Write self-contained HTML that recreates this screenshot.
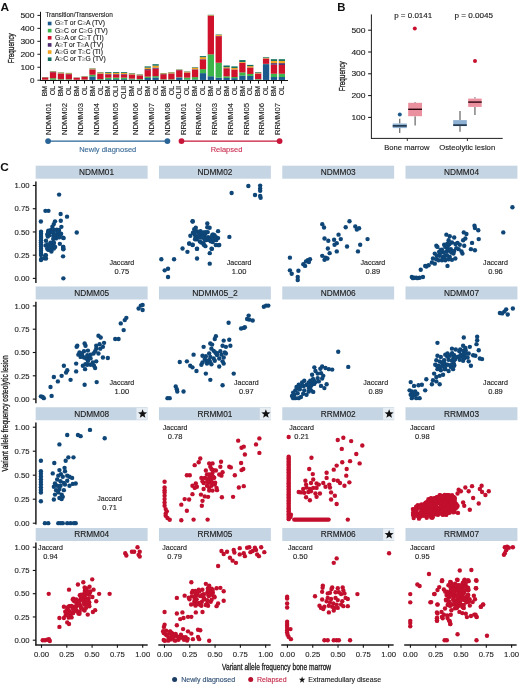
<!DOCTYPE html>
<html><head><meta charset="utf-8"><style>
html,body{margin:0;padding:0;background:#fff;}
svg{display:block;font-family:"Liberation Sans", sans-serif;will-change:transform;}
</style></head><body>
<svg width="520" height="684" viewBox="0 0 520 684">
<rect width="520" height="684" fill="#fff"/>
<text x="0.40" y="10.60" font-size="11" text-anchor="start" fill="#111" font-weight="bold" textLength="8.6" lengthAdjust="spacingAndGlyphs">A</text>
<line x1="40.50" y1="11.80" x2="40.50" y2="80.90" stroke="#111" stroke-width="1.05"/>
<line x1="37.40" y1="80.20" x2="40.50" y2="80.20" stroke="#111" stroke-width="0.95"/>
<text x="34.60" y="82.70" font-size="8.1" text-anchor="end" fill="#1a1a1a" stroke="#1a1a1a" stroke-width="0.12">0</text>
<line x1="37.40" y1="67.24" x2="40.50" y2="67.24" stroke="#111" stroke-width="0.95"/>
<text x="34.60" y="69.74" font-size="8.1" text-anchor="end" fill="#1a1a1a" textLength="14.2" lengthAdjust="spacingAndGlyphs" stroke="#1a1a1a" stroke-width="0.12">100</text>
<line x1="37.40" y1="54.28" x2="40.50" y2="54.28" stroke="#111" stroke-width="0.95"/>
<text x="34.60" y="56.78" font-size="8.1" text-anchor="end" fill="#1a1a1a" textLength="14.2" lengthAdjust="spacingAndGlyphs" stroke="#1a1a1a" stroke-width="0.12">200</text>
<line x1="37.40" y1="41.32" x2="40.50" y2="41.32" stroke="#111" stroke-width="0.95"/>
<text x="34.60" y="43.82" font-size="8.1" text-anchor="end" fill="#1a1a1a" textLength="14.2" lengthAdjust="spacingAndGlyphs" stroke="#1a1a1a" stroke-width="0.12">300</text>
<line x1="37.40" y1="28.36" x2="40.50" y2="28.36" stroke="#111" stroke-width="0.95"/>
<text x="34.60" y="30.86" font-size="8.1" text-anchor="end" fill="#1a1a1a" textLength="14.2" lengthAdjust="spacingAndGlyphs" stroke="#1a1a1a" stroke-width="0.12">400</text>
<line x1="37.40" y1="15.40" x2="40.50" y2="15.40" stroke="#111" stroke-width="0.95"/>
<text x="34.60" y="17.90" font-size="8.1" text-anchor="end" fill="#1a1a1a" textLength="14.2" lengthAdjust="spacingAndGlyphs" stroke="#1a1a1a" stroke-width="0.12">500</text>
<text x="14.00" y="48.20" font-size="9.0" text-anchor="middle" fill="#1a1a1a" transform="rotate(-90 14.0 48.2)" textLength="30.0" lengthAdjust="spacingAndGlyphs" stroke="#1a1a1a" stroke-width="0.3">Frequency</text>
<text x="45.40" y="17.00" font-size="6.6" text-anchor="start" fill="#1a1a1a" textLength="67.4" lengthAdjust="spacingAndGlyphs" stroke="#1a1a1a" stroke-width="0.12">Transition/Transversion</text>
<rect x="47.80" y="21.70" width="3.70" height="3.60" fill="#1c5a8e"/>
<text x="55.10" y="25.40" font-size="6.7" text-anchor="start" fill="#1a1a1a" textLength="49.9" lengthAdjust="spacingAndGlyphs" stroke="#1a1a1a" stroke-width="0.12">G<tspan fill="#9a9a9a" stroke="#9a9a9a">≥</tspan>T or C<tspan fill="#9a9a9a" stroke="#9a9a9a">≥</tspan>A (TV)</text>
<rect x="47.80" y="28.84" width="3.70" height="3.60" fill="#3db54a"/>
<text x="55.10" y="32.54" font-size="6.7" text-anchor="start" fill="#1a1a1a" textLength="52.7" lengthAdjust="spacingAndGlyphs" stroke="#1a1a1a" stroke-width="0.12">G<tspan fill="#9a9a9a" stroke="#9a9a9a">≥</tspan>C or C<tspan fill="#9a9a9a" stroke="#9a9a9a">≥</tspan>G (TV)</text>
<rect x="47.80" y="35.98" width="3.70" height="3.60" fill="#d0112b"/>
<text x="55.10" y="39.68" font-size="6.7" text-anchor="start" fill="#1a1a1a" textLength="48.6" lengthAdjust="spacingAndGlyphs" stroke="#1a1a1a" stroke-width="0.12">G<tspan fill="#9a9a9a" stroke="#9a9a9a">≥</tspan>A or C<tspan fill="#9a9a9a" stroke="#9a9a9a">≥</tspan>T (TI)</text>
<rect x="47.80" y="43.12" width="3.70" height="3.60" fill="#4b2a70"/>
<text x="55.10" y="46.82" font-size="6.7" text-anchor="start" fill="#1a1a1a" textLength="48.2" lengthAdjust="spacingAndGlyphs" stroke="#1a1a1a" stroke-width="0.12">A<tspan fill="#9a9a9a" stroke="#9a9a9a">≥</tspan>T or T<tspan fill="#9a9a9a" stroke="#9a9a9a">≥</tspan>A (TV)</text>
<rect x="47.80" y="50.26" width="3.70" height="3.60" fill="#f2a31f"/>
<text x="55.10" y="53.96" font-size="6.7" text-anchor="start" fill="#1a1a1a" textLength="47.8" lengthAdjust="spacingAndGlyphs" stroke="#1a1a1a" stroke-width="0.12">A<tspan fill="#9a9a9a" stroke="#9a9a9a">≥</tspan>G or T<tspan fill="#9a9a9a" stroke="#9a9a9a">≥</tspan>C (TI)</text>
<rect x="47.80" y="57.40" width="3.70" height="3.60" fill="#0f6e5e"/>
<text x="55.10" y="61.10" font-size="6.7" text-anchor="start" fill="#1a1a1a" textLength="50.7" lengthAdjust="spacingAndGlyphs" stroke="#1a1a1a" stroke-width="0.12">A<tspan fill="#9a9a9a" stroke="#9a9a9a">≥</tspan>C or T<tspan fill="#9a9a9a" stroke="#9a9a9a">≥</tspan>G (TV)</text>
<rect x="42.00" y="79.60" width="6.30" height="0.35" fill="#3db54a"/>
<rect x="42.00" y="77.40" width="6.30" height="2.25" fill="#d0112b"/>
<rect x="42.00" y="77.30" width="6.30" height="0.15" fill="#4b2a70"/>
<rect x="42.00" y="77.10" width="6.30" height="0.25" fill="#f2a31f"/>
<rect x="42.00" y="77.00" width="6.30" height="0.15" fill="#0f6e5e"/>
<rect x="49.89" y="79.70" width="6.30" height="0.25" fill="#1c5a8e"/>
<rect x="49.89" y="78.20" width="6.30" height="1.55" fill="#3db54a"/>
<rect x="49.89" y="72.20" width="6.30" height="6.05" fill="#d0112b"/>
<rect x="49.89" y="71.90" width="6.30" height="0.35" fill="#4b2a70"/>
<rect x="49.89" y="71.40" width="6.30" height="0.55" fill="#f2a31f"/>
<rect x="49.89" y="71.10" width="6.30" height="0.35" fill="#0f6e5e"/>
<rect x="57.78" y="79.70" width="6.30" height="0.25" fill="#1c5a8e"/>
<rect x="57.78" y="79.10" width="6.30" height="0.65" fill="#3db54a"/>
<rect x="57.78" y="73.60" width="6.30" height="5.55" fill="#d0112b"/>
<rect x="57.78" y="73.30" width="6.30" height="0.35" fill="#4b2a70"/>
<rect x="57.78" y="72.60" width="6.30" height="0.75" fill="#f2a31f"/>
<rect x="57.78" y="72.30" width="6.30" height="0.35" fill="#0f6e5e"/>
<rect x="65.67" y="79.70" width="6.30" height="0.25" fill="#1c5a8e"/>
<rect x="65.67" y="79.20" width="6.30" height="0.55" fill="#3db54a"/>
<rect x="65.67" y="74.20" width="6.30" height="5.05" fill="#d0112b"/>
<rect x="65.67" y="73.90" width="6.30" height="0.35" fill="#4b2a70"/>
<rect x="65.67" y="73.20" width="6.30" height="0.75" fill="#f2a31f"/>
<rect x="65.67" y="72.90" width="6.30" height="0.35" fill="#0f6e5e"/>
<rect x="73.56" y="79.70" width="6.30" height="0.25" fill="#3db54a"/>
<rect x="73.56" y="77.80" width="6.30" height="1.95" fill="#d0112b"/>
<rect x="73.56" y="77.70" width="6.30" height="0.15" fill="#4b2a70"/>
<rect x="73.56" y="77.60" width="6.30" height="0.15" fill="#f2a31f"/>
<rect x="73.56" y="77.50" width="6.30" height="0.15" fill="#0f6e5e"/>
<rect x="81.45" y="79.80" width="6.30" height="0.15" fill="#1c5a8e"/>
<rect x="81.45" y="79.50" width="6.30" height="0.35" fill="#3db54a"/>
<rect x="81.45" y="76.90" width="6.30" height="2.65" fill="#d0112b"/>
<rect x="81.45" y="76.70" width="6.30" height="0.25" fill="#4b2a70"/>
<rect x="81.45" y="76.30" width="6.30" height="0.45" fill="#f2a31f"/>
<rect x="81.45" y="76.10" width="6.30" height="0.25" fill="#0f6e5e"/>
<rect x="89.34" y="76.40" width="6.30" height="3.55" fill="#1c5a8e"/>
<rect x="89.34" y="74.70" width="6.30" height="1.75" fill="#3db54a"/>
<rect x="89.34" y="69.70" width="6.30" height="5.05" fill="#d0112b"/>
<rect x="89.34" y="69.30" width="6.30" height="0.45" fill="#4b2a70"/>
<rect x="89.34" y="68.60" width="6.30" height="0.75" fill="#f2a31f"/>
<rect x="89.34" y="68.30" width="6.30" height="0.35" fill="#0f6e5e"/>
<rect x="97.23" y="79.60" width="6.30" height="0.35" fill="#1c5a8e"/>
<rect x="97.23" y="79.00" width="6.30" height="0.65" fill="#3db54a"/>
<rect x="97.23" y="73.80" width="6.30" height="5.25" fill="#d0112b"/>
<rect x="97.23" y="73.50" width="6.30" height="0.35" fill="#4b2a70"/>
<rect x="97.23" y="72.50" width="6.30" height="1.05" fill="#f2a31f"/>
<rect x="97.23" y="72.10" width="6.30" height="0.45" fill="#0f6e5e"/>
<rect x="105.12" y="79.10" width="6.30" height="0.85" fill="#1c5a8e"/>
<rect x="105.12" y="77.60" width="6.30" height="1.55" fill="#3db54a"/>
<rect x="105.12" y="74.40" width="6.30" height="3.25" fill="#d0112b"/>
<rect x="105.12" y="73.90" width="6.30" height="0.55" fill="#4b2a70"/>
<rect x="105.12" y="72.90" width="6.30" height="1.05" fill="#f2a31f"/>
<rect x="105.12" y="72.10" width="6.30" height="0.85" fill="#0f6e5e"/>
<rect x="113.01" y="79.10" width="6.30" height="0.85" fill="#1c5a8e"/>
<rect x="113.01" y="77.60" width="6.30" height="1.55" fill="#3db54a"/>
<rect x="113.01" y="74.40" width="6.30" height="3.25" fill="#d0112b"/>
<rect x="113.01" y="73.90" width="6.30" height="0.55" fill="#4b2a70"/>
<rect x="113.01" y="72.90" width="6.30" height="1.05" fill="#f2a31f"/>
<rect x="113.01" y="72.10" width="6.30" height="0.85" fill="#0f6e5e"/>
<rect x="120.90" y="79.10" width="6.30" height="0.85" fill="#1c5a8e"/>
<rect x="120.90" y="77.60" width="6.30" height="1.55" fill="#3db54a"/>
<rect x="120.90" y="74.40" width="6.30" height="3.25" fill="#d0112b"/>
<rect x="120.90" y="73.90" width="6.30" height="0.55" fill="#4b2a70"/>
<rect x="120.90" y="72.90" width="6.30" height="1.05" fill="#f2a31f"/>
<rect x="120.90" y="72.10" width="6.30" height="0.85" fill="#0f6e5e"/>
<rect x="128.79" y="79.40" width="6.30" height="0.55" fill="#1c5a8e"/>
<rect x="128.79" y="78.60" width="6.30" height="0.85" fill="#3db54a"/>
<rect x="128.79" y="74.80" width="6.30" height="3.85" fill="#d0112b"/>
<rect x="128.79" y="74.40" width="6.30" height="0.45" fill="#4b2a70"/>
<rect x="128.79" y="73.50" width="6.30" height="0.95" fill="#f2a31f"/>
<rect x="128.79" y="73.10" width="6.30" height="0.45" fill="#0f6e5e"/>
<rect x="136.68" y="79.60" width="6.30" height="0.35" fill="#1c5a8e"/>
<rect x="136.68" y="79.00" width="6.30" height="0.65" fill="#3db54a"/>
<rect x="136.68" y="75.50" width="6.30" height="3.55" fill="#d0112b"/>
<rect x="136.68" y="75.20" width="6.30" height="0.35" fill="#4b2a70"/>
<rect x="136.68" y="74.60" width="6.30" height="0.65" fill="#f2a31f"/>
<rect x="136.68" y="74.30" width="6.30" height="0.35" fill="#0f6e5e"/>
<rect x="144.57" y="77.90" width="6.30" height="2.05" fill="#1c5a8e"/>
<rect x="144.57" y="76.60" width="6.30" height="1.35" fill="#3db54a"/>
<rect x="144.57" y="70.10" width="6.30" height="6.55" fill="#d0112b"/>
<rect x="144.57" y="69.10" width="6.30" height="1.05" fill="#4b2a70"/>
<rect x="144.57" y="67.60" width="6.30" height="1.55" fill="#f2a31f"/>
<rect x="144.57" y="66.40" width="6.30" height="1.25" fill="#0f6e5e"/>
<rect x="152.46" y="77.40" width="6.30" height="2.55" fill="#1c5a8e"/>
<rect x="152.46" y="76.10" width="6.30" height="1.35" fill="#3db54a"/>
<rect x="152.46" y="68.60" width="6.30" height="7.55" fill="#d0112b"/>
<rect x="152.46" y="67.60" width="6.30" height="1.05" fill="#4b2a70"/>
<rect x="152.46" y="65.60" width="6.30" height="2.05" fill="#f2a31f"/>
<rect x="152.46" y="64.20" width="6.30" height="1.45" fill="#0f6e5e"/>
<rect x="160.35" y="79.60" width="6.30" height="0.35" fill="#1c5a8e"/>
<rect x="160.35" y="79.20" width="6.30" height="0.45" fill="#3db54a"/>
<rect x="160.35" y="74.20" width="6.30" height="5.05" fill="#d0112b"/>
<rect x="160.35" y="74.00" width="6.30" height="0.25" fill="#4b2a70"/>
<rect x="160.35" y="73.30" width="6.30" height="0.75" fill="#f2a31f"/>
<rect x="160.35" y="73.00" width="6.30" height="0.35" fill="#0f6e5e"/>
<rect x="168.24" y="79.70" width="6.30" height="0.25" fill="#1c5a8e"/>
<rect x="168.24" y="79.20" width="6.30" height="0.55" fill="#3db54a"/>
<rect x="168.24" y="73.60" width="6.30" height="5.65" fill="#d0112b"/>
<rect x="168.24" y="73.30" width="6.30" height="0.35" fill="#4b2a70"/>
<rect x="168.24" y="72.40" width="6.30" height="0.95" fill="#f2a31f"/>
<rect x="168.24" y="72.10" width="6.30" height="0.35" fill="#0f6e5e"/>
<rect x="176.13" y="77.50" width="6.30" height="2.45" fill="#1c5a8e"/>
<rect x="176.13" y="77.20" width="6.30" height="0.35" fill="#3db54a"/>
<rect x="176.13" y="70.20" width="6.30" height="7.05" fill="#d0112b"/>
<rect x="176.13" y="70.00" width="6.30" height="0.25" fill="#4b2a70"/>
<rect x="176.13" y="69.70" width="6.30" height="0.35" fill="#f2a31f"/>
<rect x="176.13" y="69.40" width="6.30" height="0.35" fill="#0f6e5e"/>
<rect x="184.02" y="79.40" width="6.30" height="0.55" fill="#1c5a8e"/>
<rect x="184.02" y="77.60" width="6.30" height="1.85" fill="#3db54a"/>
<rect x="184.02" y="72.60" width="6.30" height="5.05" fill="#d0112b"/>
<rect x="184.02" y="72.40" width="6.30" height="0.25" fill="#4b2a70"/>
<rect x="184.02" y="71.70" width="6.30" height="0.75" fill="#f2a31f"/>
<rect x="184.02" y="71.40" width="6.30" height="0.35" fill="#0f6e5e"/>
<rect x="191.91" y="79.30" width="6.30" height="0.65" fill="#1c5a8e"/>
<rect x="191.91" y="77.10" width="6.30" height="2.25" fill="#3db54a"/>
<rect x="191.91" y="69.60" width="6.30" height="7.55" fill="#d0112b"/>
<rect x="191.91" y="69.20" width="6.30" height="0.45" fill="#4b2a70"/>
<rect x="191.91" y="67.70" width="6.30" height="1.55" fill="#f2a31f"/>
<rect x="191.91" y="67.20" width="6.30" height="0.55" fill="#0f6e5e"/>
<rect x="199.80" y="73.10" width="6.30" height="6.85" fill="#1c5a8e"/>
<rect x="199.80" y="69.10" width="6.30" height="4.05" fill="#3db54a"/>
<rect x="199.80" y="59.60" width="6.30" height="9.55" fill="#d0112b"/>
<rect x="199.80" y="59.10" width="6.30" height="0.55" fill="#4b2a70"/>
<rect x="199.80" y="57.10" width="6.30" height="2.05" fill="#f2a31f"/>
<rect x="199.80" y="56.10" width="6.30" height="1.05" fill="#0f6e5e"/>
<rect x="207.69" y="76.20" width="6.30" height="3.75" fill="#1c5a8e"/>
<rect x="207.69" y="54.30" width="6.30" height="21.95" fill="#3db54a"/>
<rect x="207.69" y="15.90" width="6.30" height="38.45" fill="#d0112b"/>
<rect x="207.69" y="15.60" width="6.30" height="0.35" fill="#4b2a70"/>
<rect x="207.69" y="15.10" width="6.30" height="0.55" fill="#f2a31f"/>
<rect x="207.69" y="14.80" width="6.30" height="0.35" fill="#0f6e5e"/>
<rect x="215.58" y="77.60" width="6.30" height="2.35" fill="#1c5a8e"/>
<rect x="215.58" y="62.70" width="6.30" height="14.95" fill="#3db54a"/>
<rect x="215.58" y="36.20" width="6.30" height="26.55" fill="#d0112b"/>
<rect x="215.58" y="35.80" width="6.30" height="0.45" fill="#4b2a70"/>
<rect x="215.58" y="34.90" width="6.30" height="0.95" fill="#f2a31f"/>
<rect x="215.58" y="34.50" width="6.30" height="0.45" fill="#0f6e5e"/>
<rect x="223.47" y="77.90" width="6.30" height="2.05" fill="#1c5a8e"/>
<rect x="223.47" y="76.30" width="6.30" height="1.65" fill="#3db54a"/>
<rect x="223.47" y="68.30" width="6.30" height="8.05" fill="#d0112b"/>
<rect x="223.47" y="68.10" width="6.30" height="0.25" fill="#4b2a70"/>
<rect x="223.47" y="67.20" width="6.30" height="0.95" fill="#f2a31f"/>
<rect x="223.47" y="65.50" width="6.30" height="1.75" fill="#0f6e5e"/>
<rect x="231.36" y="78.10" width="6.30" height="1.85" fill="#1c5a8e"/>
<rect x="231.36" y="77.00" width="6.30" height="1.15" fill="#3db54a"/>
<rect x="231.36" y="69.60" width="6.30" height="7.45" fill="#d0112b"/>
<rect x="231.36" y="69.40" width="6.30" height="0.25" fill="#4b2a70"/>
<rect x="231.36" y="67.90" width="6.30" height="1.55" fill="#f2a31f"/>
<rect x="231.36" y="66.40" width="6.30" height="1.55" fill="#0f6e5e"/>
<rect x="239.25" y="75.50" width="6.30" height="4.45" fill="#1c5a8e"/>
<rect x="239.25" y="72.40" width="6.30" height="3.15" fill="#3db54a"/>
<rect x="239.25" y="62.90" width="6.30" height="9.55" fill="#d0112b"/>
<rect x="239.25" y="62.70" width="6.30" height="0.25" fill="#4b2a70"/>
<rect x="239.25" y="61.90" width="6.30" height="0.85" fill="#f2a31f"/>
<rect x="239.25" y="60.10" width="6.30" height="1.85" fill="#0f6e5e"/>
<rect x="247.14" y="75.90" width="6.30" height="4.05" fill="#1c5a8e"/>
<rect x="247.14" y="73.90" width="6.30" height="2.05" fill="#3db54a"/>
<rect x="247.14" y="67.60" width="6.30" height="6.35" fill="#d0112b"/>
<rect x="247.14" y="67.40" width="6.30" height="0.25" fill="#4b2a70"/>
<rect x="247.14" y="66.10" width="6.30" height="1.35" fill="#f2a31f"/>
<rect x="247.14" y="64.90" width="6.30" height="1.25" fill="#0f6e5e"/>
<rect x="255.03" y="79.60" width="6.30" height="0.35" fill="#1c5a8e"/>
<rect x="255.03" y="79.10" width="6.30" height="0.55" fill="#3db54a"/>
<rect x="255.03" y="73.60" width="6.30" height="5.55" fill="#d0112b"/>
<rect x="255.03" y="73.40" width="6.30" height="0.25" fill="#4b2a70"/>
<rect x="255.03" y="72.70" width="6.30" height="0.75" fill="#f2a31f"/>
<rect x="255.03" y="72.10" width="6.30" height="0.65" fill="#0f6e5e"/>
<rect x="262.92" y="64.10" width="6.30" height="15.85" fill="#1c5a8e"/>
<rect x="262.92" y="63.80" width="6.30" height="0.35" fill="#3db54a"/>
<rect x="262.92" y="58.60" width="6.30" height="5.25" fill="#d0112b"/>
<rect x="262.92" y="58.40" width="6.30" height="0.25" fill="#4b2a70"/>
<rect x="262.92" y="57.80" width="6.30" height="0.65" fill="#f2a31f"/>
<rect x="262.92" y="57.20" width="6.30" height="0.65" fill="#0f6e5e"/>
<rect x="270.81" y="77.00" width="6.30" height="2.95" fill="#1c5a8e"/>
<rect x="270.81" y="73.70" width="6.30" height="3.35" fill="#3db54a"/>
<rect x="270.81" y="64.60" width="6.30" height="9.15" fill="#d0112b"/>
<rect x="270.81" y="63.10" width="6.30" height="1.55" fill="#4b2a70"/>
<rect x="270.81" y="60.90" width="6.30" height="2.25" fill="#f2a31f"/>
<rect x="270.81" y="59.20" width="6.30" height="1.75" fill="#0f6e5e"/>
<rect x="278.70" y="77.00" width="6.30" height="2.95" fill="#1c5a8e"/>
<rect x="278.70" y="73.70" width="6.30" height="3.35" fill="#3db54a"/>
<rect x="278.70" y="64.90" width="6.30" height="8.85" fill="#d0112b"/>
<rect x="278.70" y="63.10" width="6.30" height="1.85" fill="#4b2a70"/>
<rect x="278.70" y="60.90" width="6.30" height="2.25" fill="#f2a31f"/>
<rect x="278.70" y="59.20" width="6.30" height="1.75" fill="#0f6e5e"/>
<line x1="40.00" y1="80.45" x2="288.00" y2="80.45" stroke="#111" stroke-width="1.1"/>
<line x1="45.50" y1="80.40" x2="45.50" y2="83.60" stroke="#111" stroke-width="1.0"/>
<text x="47.35" y="85.80" font-size="7.0" text-anchor="end" fill="#1a1a1a" transform="rotate(-90 47.35 85.8)" stroke="#1a1a1a" stroke-width="0.12">BM</text>
<line x1="53.50" y1="80.40" x2="53.50" y2="83.60" stroke="#111" stroke-width="1.0"/>
<text x="55.24" y="85.80" font-size="7.0" text-anchor="end" fill="#1a1a1a" transform="rotate(-90 55.24 85.8)" stroke="#1a1a1a" stroke-width="0.12">OL</text>
<line x1="60.50" y1="80.40" x2="60.50" y2="83.60" stroke="#111" stroke-width="1.0"/>
<text x="63.13" y="85.80" font-size="7.0" text-anchor="end" fill="#1a1a1a" transform="rotate(-90 63.13 85.8)" stroke="#1a1a1a" stroke-width="0.12">BM</text>
<line x1="68.50" y1="80.40" x2="68.50" y2="83.60" stroke="#111" stroke-width="1.0"/>
<text x="71.02" y="85.80" font-size="7.0" text-anchor="end" fill="#1a1a1a" transform="rotate(-90 71.02000000000001 85.8)" stroke="#1a1a1a" stroke-width="0.12">OL</text>
<line x1="76.50" y1="80.40" x2="76.50" y2="83.60" stroke="#111" stroke-width="1.0"/>
<text x="78.91" y="85.80" font-size="7.0" text-anchor="end" fill="#1a1a1a" transform="rotate(-90 78.91000000000001 85.8)" stroke="#1a1a1a" stroke-width="0.12">BM</text>
<line x1="84.50" y1="80.40" x2="84.50" y2="83.60" stroke="#111" stroke-width="1.0"/>
<text x="86.80" y="85.80" font-size="7.0" text-anchor="end" fill="#1a1a1a" transform="rotate(-90 86.8 85.8)" stroke="#1a1a1a" stroke-width="0.12">OL</text>
<line x1="92.50" y1="80.40" x2="92.50" y2="83.60" stroke="#111" stroke-width="1.0"/>
<text x="94.69" y="85.80" font-size="7.0" text-anchor="end" fill="#1a1a1a" transform="rotate(-90 94.69000000000001 85.8)" stroke="#1a1a1a" stroke-width="0.12">BM</text>
<line x1="100.50" y1="80.40" x2="100.50" y2="83.60" stroke="#111" stroke-width="1.0"/>
<text x="102.58" y="85.80" font-size="7.0" text-anchor="end" fill="#1a1a1a" transform="rotate(-90 102.58 85.8)" stroke="#1a1a1a" stroke-width="0.12">OL</text>
<line x1="108.50" y1="80.40" x2="108.50" y2="83.60" stroke="#111" stroke-width="1.0"/>
<text x="110.47" y="85.80" font-size="7.0" text-anchor="end" fill="#1a1a1a" transform="rotate(-90 110.47000000000001 85.8)" stroke="#1a1a1a" stroke-width="0.12">BM</text>
<line x1="116.50" y1="80.40" x2="116.50" y2="83.60" stroke="#111" stroke-width="1.0"/>
<text x="118.36" y="85.80" font-size="7.0" text-anchor="end" fill="#1a1a1a" transform="rotate(-90 118.36 85.8)" stroke="#1a1a1a" stroke-width="0.12">OLI</text>
<line x1="124.50" y1="80.40" x2="124.50" y2="83.60" stroke="#111" stroke-width="1.0"/>
<text x="126.25" y="85.80" font-size="7.0" text-anchor="end" fill="#1a1a1a" transform="rotate(-90 126.25 85.8)" stroke="#1a1a1a" stroke-width="0.12">OLII</text>
<line x1="131.50" y1="80.40" x2="131.50" y2="83.60" stroke="#111" stroke-width="1.0"/>
<text x="134.14" y="85.80" font-size="7.0" text-anchor="end" fill="#1a1a1a" transform="rotate(-90 134.14 85.8)" stroke="#1a1a1a" stroke-width="0.12">BM</text>
<line x1="139.50" y1="80.40" x2="139.50" y2="83.60" stroke="#111" stroke-width="1.0"/>
<text x="142.03" y="85.80" font-size="7.0" text-anchor="end" fill="#1a1a1a" transform="rotate(-90 142.03 85.8)" stroke="#1a1a1a" stroke-width="0.12">OL</text>
<line x1="147.50" y1="80.40" x2="147.50" y2="83.60" stroke="#111" stroke-width="1.0"/>
<text x="149.92" y="85.80" font-size="7.0" text-anchor="end" fill="#1a1a1a" transform="rotate(-90 149.92 85.8)" stroke="#1a1a1a" stroke-width="0.12">BM</text>
<line x1="155.50" y1="80.40" x2="155.50" y2="83.60" stroke="#111" stroke-width="1.0"/>
<text x="157.81" y="85.80" font-size="7.0" text-anchor="end" fill="#1a1a1a" transform="rotate(-90 157.80999999999997 85.8)" stroke="#1a1a1a" stroke-width="0.12">OL</text>
<line x1="163.50" y1="80.40" x2="163.50" y2="83.60" stroke="#111" stroke-width="1.0"/>
<text x="165.70" y="85.80" font-size="7.0" text-anchor="end" fill="#1a1a1a" transform="rotate(-90 165.7 85.8)" stroke="#1a1a1a" stroke-width="0.12">BM</text>
<line x1="171.50" y1="80.40" x2="171.50" y2="83.60" stroke="#111" stroke-width="1.0"/>
<text x="173.59" y="85.80" font-size="7.0" text-anchor="end" fill="#1a1a1a" transform="rotate(-90 173.59 85.8)" stroke="#1a1a1a" stroke-width="0.12">OL</text>
<line x1="179.50" y1="80.40" x2="179.50" y2="83.60" stroke="#111" stroke-width="1.0"/>
<text x="181.48" y="85.80" font-size="7.0" text-anchor="end" fill="#1a1a1a" transform="rotate(-90 181.48 85.8)" stroke="#1a1a1a" stroke-width="0.12">OLII</text>
<line x1="187.50" y1="80.40" x2="187.50" y2="83.60" stroke="#111" stroke-width="1.0"/>
<text x="189.37" y="85.80" font-size="7.0" text-anchor="end" fill="#1a1a1a" transform="rotate(-90 189.36999999999998 85.8)" stroke="#1a1a1a" stroke-width="0.12">OL</text>
<line x1="195.50" y1="80.40" x2="195.50" y2="83.60" stroke="#111" stroke-width="1.0"/>
<text x="197.26" y="85.80" font-size="7.0" text-anchor="end" fill="#1a1a1a" transform="rotate(-90 197.26 85.8)" stroke="#1a1a1a" stroke-width="0.12">BM</text>
<line x1="202.50" y1="80.40" x2="202.50" y2="83.60" stroke="#111" stroke-width="1.0"/>
<text x="205.15" y="85.80" font-size="7.0" text-anchor="end" fill="#1a1a1a" transform="rotate(-90 205.14999999999998 85.8)" stroke="#1a1a1a" stroke-width="0.12">OL</text>
<line x1="210.50" y1="80.40" x2="210.50" y2="83.60" stroke="#111" stroke-width="1.0"/>
<text x="213.04" y="85.80" font-size="7.0" text-anchor="end" fill="#1a1a1a" transform="rotate(-90 213.04 85.8)" stroke="#1a1a1a" stroke-width="0.12">BM</text>
<line x1="218.50" y1="80.40" x2="218.50" y2="83.60" stroke="#111" stroke-width="1.0"/>
<text x="220.93" y="85.80" font-size="7.0" text-anchor="end" fill="#1a1a1a" transform="rotate(-90 220.92999999999998 85.8)" stroke="#1a1a1a" stroke-width="0.12">OL</text>
<line x1="226.50" y1="80.40" x2="226.50" y2="83.60" stroke="#111" stroke-width="1.0"/>
<text x="228.82" y="85.80" font-size="7.0" text-anchor="end" fill="#1a1a1a" transform="rotate(-90 228.82 85.8)" stroke="#1a1a1a" stroke-width="0.12">BM</text>
<line x1="234.50" y1="80.40" x2="234.50" y2="83.60" stroke="#111" stroke-width="1.0"/>
<text x="236.71" y="85.80" font-size="7.0" text-anchor="end" fill="#1a1a1a" transform="rotate(-90 236.70999999999998 85.8)" stroke="#1a1a1a" stroke-width="0.12">OL</text>
<line x1="242.50" y1="80.40" x2="242.50" y2="83.60" stroke="#111" stroke-width="1.0"/>
<text x="244.60" y="85.80" font-size="7.0" text-anchor="end" fill="#1a1a1a" transform="rotate(-90 244.6 85.8)" stroke="#1a1a1a" stroke-width="0.12">BM</text>
<line x1="250.50" y1="80.40" x2="250.50" y2="83.60" stroke="#111" stroke-width="1.0"/>
<text x="252.49" y="85.80" font-size="7.0" text-anchor="end" fill="#1a1a1a" transform="rotate(-90 252.48999999999998 85.8)" stroke="#1a1a1a" stroke-width="0.12">OL</text>
<line x1="258.50" y1="80.40" x2="258.50" y2="83.60" stroke="#111" stroke-width="1.0"/>
<text x="260.38" y="85.80" font-size="7.0" text-anchor="end" fill="#1a1a1a" transform="rotate(-90 260.38 85.8)" stroke="#1a1a1a" stroke-width="0.12">BM</text>
<line x1="266.50" y1="80.40" x2="266.50" y2="83.60" stroke="#111" stroke-width="1.0"/>
<text x="268.27" y="85.80" font-size="7.0" text-anchor="end" fill="#1a1a1a" transform="rotate(-90 268.2699999999999 85.8)" stroke="#1a1a1a" stroke-width="0.12">OL</text>
<line x1="273.50" y1="80.40" x2="273.50" y2="83.60" stroke="#111" stroke-width="1.0"/>
<text x="276.16" y="85.80" font-size="7.0" text-anchor="end" fill="#1a1a1a" transform="rotate(-90 276.15999999999997 85.8)" stroke="#1a1a1a" stroke-width="0.12">BM</text>
<line x1="281.50" y1="80.40" x2="281.50" y2="83.60" stroke="#111" stroke-width="1.0"/>
<text x="284.05" y="85.80" font-size="7.0" text-anchor="end" fill="#1a1a1a" transform="rotate(-90 284.04999999999995 85.8)" stroke="#1a1a1a" stroke-width="0.12">OL</text>
<text x="51.39" y="135.10" font-size="7.9" text-anchor="start" fill="#1a1a1a" transform="rotate(-90 51.394999999999996 135.1)" textLength="32.2" lengthAdjust="spacingAndGlyphs" stroke="#1a1a1a" stroke-width="0.12">NDMM01</text>
<text x="67.17" y="135.10" font-size="7.9" text-anchor="start" fill="#1a1a1a" transform="rotate(-90 67.175 135.1)" textLength="32.2" lengthAdjust="spacingAndGlyphs" stroke="#1a1a1a" stroke-width="0.12">NDMM02</text>
<text x="82.95" y="135.10" font-size="7.9" text-anchor="start" fill="#1a1a1a" transform="rotate(-90 82.955 135.1)" textLength="32.2" lengthAdjust="spacingAndGlyphs" stroke="#1a1a1a" stroke-width="0.12">NDMM03</text>
<text x="98.73" y="135.10" font-size="7.9" text-anchor="start" fill="#1a1a1a" transform="rotate(-90 98.735 135.1)" textLength="32.2" lengthAdjust="spacingAndGlyphs" stroke="#1a1a1a" stroke-width="0.12">NDMM04</text>
<text x="118.46" y="135.10" font-size="7.9" text-anchor="start" fill="#1a1a1a" transform="rotate(-90 118.46 135.1)" textLength="32.2" lengthAdjust="spacingAndGlyphs" stroke="#1a1a1a" stroke-width="0.12">NDMM05</text>
<text x="138.19" y="135.10" font-size="7.9" text-anchor="start" fill="#1a1a1a" transform="rotate(-90 138.18500000000003 135.1)" textLength="32.2" lengthAdjust="spacingAndGlyphs" stroke="#1a1a1a" stroke-width="0.12">NDMM06</text>
<text x="153.97" y="135.10" font-size="7.9" text-anchor="start" fill="#1a1a1a" transform="rotate(-90 153.965 135.1)" textLength="32.2" lengthAdjust="spacingAndGlyphs" stroke="#1a1a1a" stroke-width="0.12">NDMM07</text>
<text x="169.75" y="135.10" font-size="7.9" text-anchor="start" fill="#1a1a1a" transform="rotate(-90 169.74500000000003 135.1)" textLength="32.2" lengthAdjust="spacingAndGlyphs" stroke="#1a1a1a" stroke-width="0.12">NDMM08</text>
<text x="185.53" y="135.10" font-size="7.9" text-anchor="start" fill="#1a1a1a" transform="rotate(-90 185.525 135.1)" textLength="32.2" lengthAdjust="spacingAndGlyphs" stroke="#1a1a1a" stroke-width="0.12">RRMM01</text>
<text x="201.31" y="135.10" font-size="7.9" text-anchor="start" fill="#1a1a1a" transform="rotate(-90 201.305 135.1)" textLength="32.2" lengthAdjust="spacingAndGlyphs" stroke="#1a1a1a" stroke-width="0.12">RRMM02</text>
<text x="217.09" y="135.10" font-size="7.9" text-anchor="start" fill="#1a1a1a" transform="rotate(-90 217.085 135.1)" textLength="32.2" lengthAdjust="spacingAndGlyphs" stroke="#1a1a1a" stroke-width="0.12">RRMM03</text>
<text x="232.87" y="135.10" font-size="7.9" text-anchor="start" fill="#1a1a1a" transform="rotate(-90 232.865 135.1)" textLength="32.2" lengthAdjust="spacingAndGlyphs" stroke="#1a1a1a" stroke-width="0.12">RRMM04</text>
<text x="248.65" y="135.10" font-size="7.9" text-anchor="start" fill="#1a1a1a" transform="rotate(-90 248.645 135.1)" textLength="32.2" lengthAdjust="spacingAndGlyphs" stroke="#1a1a1a" stroke-width="0.12">RRMM05</text>
<text x="264.43" y="135.10" font-size="7.9" text-anchor="start" fill="#1a1a1a" transform="rotate(-90 264.425 135.1)" textLength="32.2" lengthAdjust="spacingAndGlyphs" stroke="#1a1a1a" stroke-width="0.12">RRMM06</text>
<text x="280.20" y="135.10" font-size="7.9" text-anchor="start" fill="#1a1a1a" transform="rotate(-90 280.205 135.1)" textLength="32.2" lengthAdjust="spacingAndGlyphs" stroke="#1a1a1a" stroke-width="0.12">RRMM07</text>
<line x1="48.10" y1="141.10" x2="167.40" y2="141.10" stroke="#2a6395" stroke-width="1.1"/>
<circle cx="48.10" cy="141.10" r="2.9" fill="#2a6395"/>
<circle cx="167.40" cy="141.10" r="2.9" fill="#2a6395"/>
<text x="107.70" y="152.00" font-size="7.5" text-anchor="middle" fill="#3d6d99" stroke="#3d6d99" stroke-width="0.12">Newly diagnosed</text>
<line x1="181.50" y1="141.10" x2="279.60" y2="141.10" stroke="#c8163a" stroke-width="1.1"/>
<circle cx="181.50" cy="141.10" r="2.9" fill="#c8163a"/>
<circle cx="279.60" cy="141.10" r="2.9" fill="#c8163a"/>
<text x="226.50" y="152.00" font-size="7.5" text-anchor="middle" fill="#cc3355" stroke="#cc3355" stroke-width="0.12">Relapsed</text>
<text x="337.30" y="10.60" font-size="11" text-anchor="start" fill="#111" font-weight="bold" textLength="8.2" lengthAdjust="spacingAndGlyphs">B</text>
<line x1="371.40" y1="14.40" x2="371.40" y2="138.80" stroke="#1e1e1e" stroke-width="1.0"/>
<line x1="371.00" y1="138.40" x2="502.70" y2="138.40" stroke="#1e1e1e" stroke-width="1.0"/>
<line x1="368.10" y1="117.40" x2="371.40" y2="117.40" stroke="#111" stroke-width="1.0"/>
<text x="365.60" y="120.00" font-size="8.1" text-anchor="end" fill="#1a1a1a" textLength="14.2" lengthAdjust="spacingAndGlyphs" stroke="#1a1a1a" stroke-width="0.12">100</text>
<line x1="368.10" y1="95.60" x2="371.40" y2="95.60" stroke="#111" stroke-width="1.0"/>
<text x="365.60" y="98.20" font-size="8.1" text-anchor="end" fill="#1a1a1a" textLength="14.2" lengthAdjust="spacingAndGlyphs" stroke="#1a1a1a" stroke-width="0.12">200</text>
<line x1="368.10" y1="73.80" x2="371.40" y2="73.80" stroke="#111" stroke-width="1.0"/>
<text x="365.60" y="76.40" font-size="8.1" text-anchor="end" fill="#1a1a1a" textLength="14.2" lengthAdjust="spacingAndGlyphs" stroke="#1a1a1a" stroke-width="0.12">300</text>
<line x1="368.10" y1="52.00" x2="371.40" y2="52.00" stroke="#111" stroke-width="1.0"/>
<text x="365.60" y="54.60" font-size="8.1" text-anchor="end" fill="#1a1a1a" textLength="14.2" lengthAdjust="spacingAndGlyphs" stroke="#1a1a1a" stroke-width="0.12">400</text>
<line x1="368.10" y1="30.20" x2="371.40" y2="30.20" stroke="#111" stroke-width="1.0"/>
<text x="365.60" y="32.80" font-size="8.1" text-anchor="end" fill="#1a1a1a" textLength="14.2" lengthAdjust="spacingAndGlyphs" stroke="#1a1a1a" stroke-width="0.12">500</text>
<text x="345.10" y="76.20" font-size="9.0" text-anchor="middle" fill="#1a1a1a" transform="rotate(-90 345.1 76.2)" textLength="30.0" lengthAdjust="spacingAndGlyphs" stroke="#1a1a1a" stroke-width="0.3">Frequency</text>
<line x1="407.30" y1="138.40" x2="407.30" y2="141.00" stroke="#1e1e1e" stroke-width="0.9"/>
<line x1="467.40" y1="138.40" x2="467.40" y2="141.00" stroke="#1e1e1e" stroke-width="0.9"/>
<text x="384.30" y="150.00" font-size="7.3" text-anchor="start" fill="#1a1a1a" textLength="45.2" lengthAdjust="spacingAndGlyphs" stroke="#1a1a1a" stroke-width="0.12">Bone marrow</text>
<text x="439.20" y="150.00" font-size="7.3" text-anchor="start" fill="#1a1a1a" textLength="56.0" lengthAdjust="spacingAndGlyphs" stroke="#1a1a1a" stroke-width="0.12">Osteolytic lesion</text>
<text x="394.20" y="17.90" font-size="7.3" text-anchor="start" fill="#1a1a1a" textLength="38.0" lengthAdjust="spacingAndGlyphs" stroke="#1a1a1a" stroke-width="0.12">p = 0.0141</text>
<text x="454.50" y="17.90" font-size="7.3" text-anchor="start" fill="#1a1a1a" textLength="38.6" lengthAdjust="spacingAndGlyphs" stroke="#1a1a1a" stroke-width="0.12">p = 0.0045</text>
<line x1="399.75" y1="118.80" x2="399.75" y2="123.50" stroke="#555" stroke-width="1.1"/>
<line x1="399.75" y1="128.10" x2="399.75" y2="132.90" stroke="#555" stroke-width="1.1"/>
<rect x="392.70" y="123.50" width="14.10" height="4.60" fill="#8eb0d2"/>
<line x1="392.70" y1="125.90" x2="406.80" y2="125.90" stroke="#0b1d30" stroke-width="1.4"/>
<circle cx="399.80" cy="114.50" r="2.0" fill="#1c5a8e"/>
<line x1="415.10" y1="102.00" x2="415.10" y2="102.80" stroke="#555" stroke-width="1.1"/>
<line x1="415.10" y1="116.20" x2="415.10" y2="125.50" stroke="#555" stroke-width="1.1"/>
<rect x="408.20" y="102.80" width="13.80" height="13.40" fill="#ea909f"/>
<line x1="408.20" y1="109.30" x2="422.00" y2="109.30" stroke="#2a0510" stroke-width="1.4"/>
<circle cx="414.80" cy="28.50" r="2.0" fill="#c8102e"/>
<line x1="460.00" y1="111.10" x2="460.00" y2="120.10" stroke="#555" stroke-width="1.1"/>
<line x1="460.00" y1="126.10" x2="460.00" y2="131.70" stroke="#555" stroke-width="1.1"/>
<rect x="453.20" y="120.10" width="13.60" height="6.00" fill="#8eb0d2"/>
<line x1="453.20" y1="125.10" x2="466.80" y2="125.10" stroke="#0b1d30" stroke-width="1.4"/>
<line x1="474.95" y1="97.20" x2="474.95" y2="98.60" stroke="#555" stroke-width="1.1"/>
<line x1="474.95" y1="106.90" x2="474.95" y2="115.00" stroke="#555" stroke-width="1.1"/>
<rect x="468.20" y="98.60" width="13.50" height="8.30" fill="#ea909f"/>
<line x1="468.20" y1="102.10" x2="481.70" y2="102.10" stroke="#2a0510" stroke-width="1.4"/>
<circle cx="475.00" cy="61.10" r="2.0" fill="#c8102e"/>
<text x="0.30" y="170.60" font-size="11.2" text-anchor="start" fill="#111" font-weight="bold" textLength="8.6" lengthAdjust="spacingAndGlyphs">C</text>
<rect x="35.70" y="165.70" width="111.90" height="13.00" fill="#c6d5e3"/>
<text x="96.60" y="175.00" font-size="8.3" text-anchor="middle" fill="#1a1a1a" textLength="35.0" lengthAdjust="spacingAndGlyphs" stroke="#1a1a1a" stroke-width="0.12">NDMM01</text>
<rect x="158.97" y="165.70" width="111.90" height="13.00" fill="#c6d5e3"/>
<text x="214.97" y="175.00" font-size="8.3" text-anchor="middle" fill="#1a1a1a" textLength="35.0" lengthAdjust="spacingAndGlyphs" stroke="#1a1a1a" stroke-width="0.12">NDMM02</text>
<rect x="282.24" y="165.70" width="111.90" height="13.00" fill="#c6d5e3"/>
<text x="338.24" y="175.00" font-size="8.3" text-anchor="middle" fill="#1a1a1a" textLength="35.0" lengthAdjust="spacingAndGlyphs" stroke="#1a1a1a" stroke-width="0.12">NDMM03</text>
<rect x="405.51" y="165.70" width="111.90" height="13.00" fill="#c6d5e3"/>
<text x="461.51" y="175.00" font-size="8.3" text-anchor="middle" fill="#1a1a1a" textLength="35.0" lengthAdjust="spacingAndGlyphs" stroke="#1a1a1a" stroke-width="0.12">NDMM04</text>
<rect x="35.70" y="286.47" width="111.90" height="13.00" fill="#c6d5e3"/>
<text x="91.70" y="295.77" font-size="8.3" text-anchor="middle" fill="#1a1a1a" textLength="35.0" lengthAdjust="spacingAndGlyphs" stroke="#1a1a1a" stroke-width="0.12">NDMM05</text>
<rect x="158.97" y="286.47" width="111.90" height="13.00" fill="#c6d5e3"/>
<text x="214.97" y="295.77" font-size="8.3" text-anchor="middle" fill="#1a1a1a" textLength="45.6" lengthAdjust="spacingAndGlyphs" stroke="#1a1a1a" stroke-width="0.12">NDMM05_2</text>
<rect x="282.24" y="286.47" width="111.90" height="13.00" fill="#c6d5e3"/>
<text x="338.24" y="295.77" font-size="8.3" text-anchor="middle" fill="#1a1a1a" textLength="35.0" lengthAdjust="spacingAndGlyphs" stroke="#1a1a1a" stroke-width="0.12">NDMM06</text>
<rect x="405.51" y="286.47" width="111.90" height="13.00" fill="#c6d5e3"/>
<text x="461.51" y="295.77" font-size="8.3" text-anchor="middle" fill="#1a1a1a" textLength="35.0" lengthAdjust="spacingAndGlyphs" stroke="#1a1a1a" stroke-width="0.12">NDMM07</text>
<rect x="35.70" y="407.24" width="111.90" height="13.00" fill="#c6d5e3"/>
<text x="91.70" y="416.54" font-size="8.3" text-anchor="middle" fill="#1a1a1a" textLength="35.0" lengthAdjust="spacingAndGlyphs" stroke="#1a1a1a" stroke-width="0.12">NDMM08</text>
<rect x="136.50" y="407.84" width="11.10" height="11.80" fill="#e6edf3"/>
<polygon points="142.60,409.19 143.77,412.33 147.12,412.47 144.50,414.56 145.39,417.78 142.60,415.94 139.81,417.78 140.70,414.56 138.08,412.47 141.43,412.33" fill="#111"/>
<rect x="158.97" y="407.24" width="111.90" height="13.00" fill="#c6d5e3"/>
<text x="214.97" y="416.54" font-size="8.3" text-anchor="middle" fill="#1a1a1a" textLength="35.0" lengthAdjust="spacingAndGlyphs" stroke="#1a1a1a" stroke-width="0.12">RRMM01</text>
<rect x="259.77" y="407.84" width="11.10" height="11.80" fill="#e6edf3"/>
<polygon points="265.87,409.19 267.04,412.33 270.39,412.47 267.77,414.56 268.66,417.78 265.87,415.94 263.08,417.78 263.97,414.56 261.35,412.47 264.70,412.33" fill="#111"/>
<rect x="282.24" y="407.24" width="111.90" height="13.00" fill="#c6d5e3"/>
<text x="338.24" y="416.54" font-size="8.3" text-anchor="middle" fill="#1a1a1a" textLength="35.0" lengthAdjust="spacingAndGlyphs" stroke="#1a1a1a" stroke-width="0.12">RRMM02</text>
<rect x="383.04" y="407.84" width="11.10" height="11.80" fill="#e6edf3"/>
<polygon points="389.14,409.19 390.31,412.33 393.66,412.47 391.04,414.56 391.93,417.78 389.14,415.94 386.35,417.78 387.24,414.56 384.62,412.47 387.97,412.33" fill="#111"/>
<rect x="405.51" y="407.24" width="111.90" height="13.00" fill="#c6d5e3"/>
<text x="461.51" y="416.54" font-size="8.3" text-anchor="middle" fill="#1a1a1a" textLength="35.0" lengthAdjust="spacingAndGlyphs" stroke="#1a1a1a" stroke-width="0.12">RRMM03</text>
<rect x="35.70" y="528.01" width="111.90" height="13.00" fill="#c6d5e3"/>
<text x="91.70" y="537.31" font-size="8.3" text-anchor="middle" fill="#1a1a1a" textLength="35.0" lengthAdjust="spacingAndGlyphs" stroke="#1a1a1a" stroke-width="0.12">RRMM04</text>
<rect x="158.97" y="528.01" width="111.90" height="13.00" fill="#c6d5e3"/>
<text x="214.97" y="537.31" font-size="8.3" text-anchor="middle" fill="#1a1a1a" textLength="35.0" lengthAdjust="spacingAndGlyphs" stroke="#1a1a1a" stroke-width="0.12">RRMM05</text>
<rect x="282.24" y="528.01" width="111.90" height="13.00" fill="#c6d5e3"/>
<text x="338.24" y="537.31" font-size="8.3" text-anchor="middle" fill="#1a1a1a" textLength="35.0" lengthAdjust="spacingAndGlyphs" stroke="#1a1a1a" stroke-width="0.12">RRMM06</text>
<rect x="383.04" y="528.61" width="11.10" height="11.80" fill="#e6edf3"/>
<polygon points="389.14,529.96 390.31,533.10 393.66,533.24 391.04,535.33 391.93,538.55 389.14,536.71 386.35,538.55 387.24,535.33 384.62,533.24 387.97,533.10" fill="#111"/>
<rect x="405.51" y="528.01" width="111.90" height="13.00" fill="#c6d5e3"/>
<text x="461.51" y="537.31" font-size="8.3" text-anchor="middle" fill="#1a1a1a" textLength="35.0" lengthAdjust="spacingAndGlyphs" stroke="#1a1a1a" stroke-width="0.12">RRMM07</text>
<line x1="35.90" y1="181.50" x2="35.90" y2="283.00" stroke="#1e1e1e" stroke-width="1.5"/>
<line x1="32.80" y1="278.40" x2="35.80" y2="278.40" stroke="#111" stroke-width="1.1"/>
<text x="29.50" y="281.10" font-size="8.1" text-anchor="end" fill="#1a1a1a" textLength="15.0" lengthAdjust="spacingAndGlyphs" stroke="#1a1a1a" stroke-width="0.12">0.00</text>
<line x1="32.80" y1="255.17" x2="35.80" y2="255.17" stroke="#111" stroke-width="1.1"/>
<text x="29.50" y="257.88" font-size="8.1" text-anchor="end" fill="#1a1a1a" textLength="15.0" lengthAdjust="spacingAndGlyphs" stroke="#1a1a1a" stroke-width="0.12">0.25</text>
<line x1="32.80" y1="231.95" x2="35.80" y2="231.95" stroke="#111" stroke-width="1.1"/>
<text x="29.50" y="234.65" font-size="8.1" text-anchor="end" fill="#1a1a1a" textLength="15.0" lengthAdjust="spacingAndGlyphs" stroke="#1a1a1a" stroke-width="0.12">0.50</text>
<line x1="32.80" y1="208.72" x2="35.80" y2="208.72" stroke="#111" stroke-width="1.1"/>
<text x="29.50" y="211.42" font-size="8.1" text-anchor="end" fill="#1a1a1a" textLength="15.0" lengthAdjust="spacingAndGlyphs" stroke="#1a1a1a" stroke-width="0.12">0.75</text>
<line x1="32.80" y1="185.50" x2="35.80" y2="185.50" stroke="#111" stroke-width="1.1"/>
<text x="29.50" y="188.20" font-size="8.1" text-anchor="end" fill="#1a1a1a" textLength="15.0" lengthAdjust="spacingAndGlyphs" stroke="#1a1a1a" stroke-width="0.12">1.00</text>
<line x1="35.90" y1="301.80" x2="35.90" y2="403.30" stroke="#1e1e1e" stroke-width="1.5"/>
<line x1="32.80" y1="399.10" x2="35.80" y2="399.10" stroke="#111" stroke-width="1.1"/>
<text x="29.50" y="401.80" font-size="8.1" text-anchor="end" fill="#1a1a1a" textLength="15.0" lengthAdjust="spacingAndGlyphs" stroke="#1a1a1a" stroke-width="0.12">0.00</text>
<line x1="32.80" y1="375.80" x2="35.80" y2="375.80" stroke="#111" stroke-width="1.1"/>
<text x="29.50" y="378.50" font-size="8.1" text-anchor="end" fill="#1a1a1a" textLength="15.0" lengthAdjust="spacingAndGlyphs" stroke="#1a1a1a" stroke-width="0.12">0.25</text>
<line x1="32.80" y1="352.50" x2="35.80" y2="352.50" stroke="#111" stroke-width="1.1"/>
<text x="29.50" y="355.20" font-size="8.1" text-anchor="end" fill="#1a1a1a" textLength="15.0" lengthAdjust="spacingAndGlyphs" stroke="#1a1a1a" stroke-width="0.12">0.50</text>
<line x1="32.80" y1="329.20" x2="35.80" y2="329.20" stroke="#111" stroke-width="1.1"/>
<text x="29.50" y="331.90" font-size="8.1" text-anchor="end" fill="#1a1a1a" textLength="15.0" lengthAdjust="spacingAndGlyphs" stroke="#1a1a1a" stroke-width="0.12">0.75</text>
<line x1="32.80" y1="305.90" x2="35.80" y2="305.90" stroke="#111" stroke-width="1.1"/>
<text x="29.50" y="308.60" font-size="8.1" text-anchor="end" fill="#1a1a1a" textLength="15.0" lengthAdjust="spacingAndGlyphs" stroke="#1a1a1a" stroke-width="0.12">1.00</text>
<line x1="35.90" y1="422.60" x2="35.90" y2="524.40" stroke="#1e1e1e" stroke-width="1.5"/>
<line x1="32.80" y1="523.20" x2="35.80" y2="523.20" stroke="#111" stroke-width="1.1"/>
<text x="29.50" y="525.90" font-size="8.1" text-anchor="end" fill="#1a1a1a" textLength="15.0" lengthAdjust="spacingAndGlyphs" stroke="#1a1a1a" stroke-width="0.12">0.00</text>
<line x1="32.80" y1="499.20" x2="35.80" y2="499.20" stroke="#111" stroke-width="1.1"/>
<text x="29.50" y="501.90" font-size="8.1" text-anchor="end" fill="#1a1a1a" textLength="15.0" lengthAdjust="spacingAndGlyphs" stroke="#1a1a1a" stroke-width="0.12">0.25</text>
<line x1="32.80" y1="475.20" x2="35.80" y2="475.20" stroke="#111" stroke-width="1.1"/>
<text x="29.50" y="477.90" font-size="8.1" text-anchor="end" fill="#1a1a1a" textLength="15.0" lengthAdjust="spacingAndGlyphs" stroke="#1a1a1a" stroke-width="0.12">0.50</text>
<line x1="32.80" y1="451.20" x2="35.80" y2="451.20" stroke="#111" stroke-width="1.1"/>
<text x="29.50" y="453.90" font-size="8.1" text-anchor="end" fill="#1a1a1a" textLength="15.0" lengthAdjust="spacingAndGlyphs" stroke="#1a1a1a" stroke-width="0.12">0.75</text>
<line x1="32.80" y1="427.20" x2="35.80" y2="427.20" stroke="#111" stroke-width="1.1"/>
<text x="29.50" y="429.90" font-size="8.1" text-anchor="end" fill="#1a1a1a" textLength="15.0" lengthAdjust="spacingAndGlyphs" stroke="#1a1a1a" stroke-width="0.12">1.00</text>
<line x1="35.90" y1="542.60" x2="35.90" y2="645.60" stroke="#1e1e1e" stroke-width="1.5"/>
<line x1="32.80" y1="640.20" x2="35.80" y2="640.20" stroke="#111" stroke-width="1.1"/>
<text x="29.50" y="642.90" font-size="8.1" text-anchor="end" fill="#1a1a1a" textLength="15.0" lengthAdjust="spacingAndGlyphs" stroke="#1a1a1a" stroke-width="0.12">0.00</text>
<line x1="32.80" y1="616.95" x2="35.80" y2="616.95" stroke="#111" stroke-width="1.1"/>
<text x="29.50" y="619.65" font-size="8.1" text-anchor="end" fill="#1a1a1a" textLength="15.0" lengthAdjust="spacingAndGlyphs" stroke="#1a1a1a" stroke-width="0.12">0.25</text>
<line x1="32.80" y1="593.70" x2="35.80" y2="593.70" stroke="#111" stroke-width="1.1"/>
<text x="29.50" y="596.40" font-size="8.1" text-anchor="end" fill="#1a1a1a" textLength="15.0" lengthAdjust="spacingAndGlyphs" stroke="#1a1a1a" stroke-width="0.12">0.50</text>
<line x1="32.80" y1="570.45" x2="35.80" y2="570.45" stroke="#111" stroke-width="1.1"/>
<text x="29.50" y="573.15" font-size="8.1" text-anchor="end" fill="#1a1a1a" textLength="15.0" lengthAdjust="spacingAndGlyphs" stroke="#1a1a1a" stroke-width="0.12">0.75</text>
<line x1="32.80" y1="547.20" x2="35.80" y2="547.20" stroke="#111" stroke-width="1.1"/>
<text x="29.50" y="549.90" font-size="8.1" text-anchor="end" fill="#1a1a1a" textLength="15.0" lengthAdjust="spacingAndGlyphs" stroke="#1a1a1a" stroke-width="0.12">1.00</text>
<line x1="35.30" y1="644.90" x2="147.70" y2="644.90" stroke="#1e1e1e" stroke-width="1.5"/>
<line x1="41.50" y1="644.80" x2="41.50" y2="647.80" stroke="#111" stroke-width="1.1"/>
<text x="41.50" y="657.00" font-size="8.1" text-anchor="middle" fill="#1a1a1a" textLength="15.0" lengthAdjust="spacingAndGlyphs" stroke="#1a1a1a" stroke-width="0.12">0.00</text>
<line x1="66.80" y1="644.80" x2="66.80" y2="647.80" stroke="#111" stroke-width="1.1"/>
<text x="66.80" y="657.00" font-size="8.1" text-anchor="middle" fill="#1a1a1a" textLength="15.0" lengthAdjust="spacingAndGlyphs" stroke="#1a1a1a" stroke-width="0.12">0.25</text>
<line x1="92.10" y1="644.80" x2="92.10" y2="647.80" stroke="#111" stroke-width="1.1"/>
<text x="92.10" y="657.00" font-size="8.1" text-anchor="middle" fill="#1a1a1a" textLength="15.0" lengthAdjust="spacingAndGlyphs" stroke="#1a1a1a" stroke-width="0.12">0.50</text>
<line x1="117.40" y1="644.80" x2="117.40" y2="647.80" stroke="#111" stroke-width="1.1"/>
<text x="117.40" y="657.00" font-size="8.1" text-anchor="middle" fill="#1a1a1a" textLength="15.0" lengthAdjust="spacingAndGlyphs" stroke="#1a1a1a" stroke-width="0.12">0.75</text>
<line x1="142.70" y1="644.80" x2="142.70" y2="647.80" stroke="#111" stroke-width="1.1"/>
<text x="142.70" y="657.00" font-size="8.1" text-anchor="middle" fill="#1a1a1a" textLength="15.0" lengthAdjust="spacingAndGlyphs" stroke="#1a1a1a" stroke-width="0.12">1.00</text>
<line x1="158.27" y1="644.90" x2="270.67" y2="644.90" stroke="#1e1e1e" stroke-width="1.5"/>
<line x1="164.47" y1="644.80" x2="164.47" y2="647.80" stroke="#111" stroke-width="1.1"/>
<text x="164.47" y="657.00" font-size="8.1" text-anchor="middle" fill="#1a1a1a" textLength="15.0" lengthAdjust="spacingAndGlyphs" stroke="#1a1a1a" stroke-width="0.12">0.00</text>
<line x1="189.77" y1="644.80" x2="189.77" y2="647.80" stroke="#111" stroke-width="1.1"/>
<text x="189.77" y="657.00" font-size="8.1" text-anchor="middle" fill="#1a1a1a" textLength="15.0" lengthAdjust="spacingAndGlyphs" stroke="#1a1a1a" stroke-width="0.12">0.25</text>
<line x1="215.07" y1="644.80" x2="215.07" y2="647.80" stroke="#111" stroke-width="1.1"/>
<text x="215.07" y="657.00" font-size="8.1" text-anchor="middle" fill="#1a1a1a" textLength="15.0" lengthAdjust="spacingAndGlyphs" stroke="#1a1a1a" stroke-width="0.12">0.50</text>
<line x1="240.37" y1="644.80" x2="240.37" y2="647.80" stroke="#111" stroke-width="1.1"/>
<text x="240.37" y="657.00" font-size="8.1" text-anchor="middle" fill="#1a1a1a" textLength="15.0" lengthAdjust="spacingAndGlyphs" stroke="#1a1a1a" stroke-width="0.12">0.75</text>
<line x1="265.67" y1="644.80" x2="265.67" y2="647.80" stroke="#111" stroke-width="1.1"/>
<text x="265.67" y="657.00" font-size="8.1" text-anchor="middle" fill="#1a1a1a" textLength="15.0" lengthAdjust="spacingAndGlyphs" stroke="#1a1a1a" stroke-width="0.12">1.00</text>
<line x1="281.24" y1="644.90" x2="393.64" y2="644.90" stroke="#1e1e1e" stroke-width="1.5"/>
<line x1="287.44" y1="644.80" x2="287.44" y2="647.80" stroke="#111" stroke-width="1.1"/>
<text x="287.44" y="657.00" font-size="8.1" text-anchor="middle" fill="#1a1a1a" textLength="15.0" lengthAdjust="spacingAndGlyphs" stroke="#1a1a1a" stroke-width="0.12">0.00</text>
<line x1="312.74" y1="644.80" x2="312.74" y2="647.80" stroke="#111" stroke-width="1.1"/>
<text x="312.74" y="657.00" font-size="8.1" text-anchor="middle" fill="#1a1a1a" textLength="15.0" lengthAdjust="spacingAndGlyphs" stroke="#1a1a1a" stroke-width="0.12">0.25</text>
<line x1="338.04" y1="644.80" x2="338.04" y2="647.80" stroke="#111" stroke-width="1.1"/>
<text x="338.04" y="657.00" font-size="8.1" text-anchor="middle" fill="#1a1a1a" textLength="15.0" lengthAdjust="spacingAndGlyphs" stroke="#1a1a1a" stroke-width="0.12">0.50</text>
<line x1="363.34" y1="644.80" x2="363.34" y2="647.80" stroke="#111" stroke-width="1.1"/>
<text x="363.34" y="657.00" font-size="8.1" text-anchor="middle" fill="#1a1a1a" textLength="15.0" lengthAdjust="spacingAndGlyphs" stroke="#1a1a1a" stroke-width="0.12">0.75</text>
<line x1="388.64" y1="644.80" x2="388.64" y2="647.80" stroke="#111" stroke-width="1.1"/>
<text x="388.64" y="657.00" font-size="8.1" text-anchor="middle" fill="#1a1a1a" textLength="15.0" lengthAdjust="spacingAndGlyphs" stroke="#1a1a1a" stroke-width="0.12">1.00</text>
<line x1="404.21" y1="644.90" x2="516.61" y2="644.90" stroke="#1e1e1e" stroke-width="1.5"/>
<line x1="410.41" y1="644.80" x2="410.41" y2="647.80" stroke="#111" stroke-width="1.1"/>
<text x="410.41" y="657.00" font-size="8.1" text-anchor="middle" fill="#1a1a1a" textLength="15.0" lengthAdjust="spacingAndGlyphs" stroke="#1a1a1a" stroke-width="0.12">0.00</text>
<line x1="435.71" y1="644.80" x2="435.71" y2="647.80" stroke="#111" stroke-width="1.1"/>
<text x="435.71" y="657.00" font-size="8.1" text-anchor="middle" fill="#1a1a1a" textLength="15.0" lengthAdjust="spacingAndGlyphs" stroke="#1a1a1a" stroke-width="0.12">0.25</text>
<line x1="461.01" y1="644.80" x2="461.01" y2="647.80" stroke="#111" stroke-width="1.1"/>
<text x="461.01" y="657.00" font-size="8.1" text-anchor="middle" fill="#1a1a1a" textLength="15.0" lengthAdjust="spacingAndGlyphs" stroke="#1a1a1a" stroke-width="0.12">0.50</text>
<line x1="486.31" y1="644.80" x2="486.31" y2="647.80" stroke="#111" stroke-width="1.1"/>
<text x="486.31" y="657.00" font-size="8.1" text-anchor="middle" fill="#1a1a1a" textLength="15.0" lengthAdjust="spacingAndGlyphs" stroke="#1a1a1a" stroke-width="0.12">0.75</text>
<line x1="511.61" y1="644.80" x2="511.61" y2="647.80" stroke="#111" stroke-width="1.1"/>
<text x="511.61" y="657.00" font-size="8.1" text-anchor="middle" fill="#1a1a1a" textLength="15.0" lengthAdjust="spacingAndGlyphs" stroke="#1a1a1a" stroke-width="0.12">1.00</text>
<text x="7.90" y="413.40" font-size="9.2" text-anchor="middle" fill="#1a1a1a" transform="rotate(-90 7.9 413.4)" textLength="116.0" lengthAdjust="spacingAndGlyphs" stroke="#1a1a1a" stroke-width="0.3">Variant allele frequency osteolytic lesion</text>
<text x="276.60" y="669.50" font-size="9.2" text-anchor="middle" fill="#1a1a1a" textLength="109.0" lengthAdjust="spacingAndGlyphs" stroke="#1a1a1a" stroke-width="0.3">Variant allele frequency bone marrow</text>
<circle cx="174.60" cy="679.40" r="2.5" fill="#1b3d63"/>
<text x="181.20" y="681.90" font-size="7.0" text-anchor="start" fill="#2d4e74" textLength="54.0" lengthAdjust="spacingAndGlyphs" stroke="#2d4e74" stroke-width="0.12">Newly diagnosed</text>
<circle cx="250.70" cy="679.40" r="2.5" fill="#b8102e"/>
<text x="257.00" y="681.90" font-size="7.0" text-anchor="start" fill="#c42848" stroke="#c42848" stroke-width="0.12">Relapsed</text>
<polygon points="302.10,676.50 302.94,678.74 305.33,678.85 303.46,680.34 304.10,682.65 302.10,681.33 300.10,682.65 300.74,680.34 298.87,678.85 301.26,678.74" fill="#111"/>
<text x="308.30" y="681.90" font-size="7.0" text-anchor="start" fill="#1a1a1a" stroke="#1a1a1a" stroke-width="0.12">Extramedullary disease</text>
<circle cx="59.11" cy="194.60" r="2.2" fill="#0e4678"/>
<circle cx="45.43" cy="210.87" r="2.2" fill="#0e4678"/>
<circle cx="48.47" cy="210.87" r="2.2" fill="#0e4678"/>
<circle cx="60.63" cy="214.06" r="2.2" fill="#0e4678"/>
<circle cx="67.02" cy="216.64" r="2.2" fill="#0e4678"/>
<circle cx="40.87" cy="221.51" r="2.2" fill="#0e4678"/>
<circle cx="60.78" cy="220.75" r="2.2" fill="#0e4678"/>
<circle cx="55.01" cy="221.36" r="2.2" fill="#0e4678"/>
<circle cx="53.79" cy="224.09" r="2.2" fill="#0e4678"/>
<circle cx="52.42" cy="226.68" r="2.2" fill="#0e4678"/>
<circle cx="61.39" cy="226.83" r="2.2" fill="#0e4678"/>
<circle cx="76.75" cy="232.46" r="2.2" fill="#0e4678"/>
<circle cx="63.06" cy="246.90" r="2.2" fill="#0e4678"/>
<circle cx="63.37" cy="249.18" r="2.2" fill="#0e4678"/>
<circle cx="63.06" cy="256.33" r="2.2" fill="#0e4678"/>
<circle cx="63.37" cy="278.37" r="2.2" fill="#0e4678"/>
<circle cx="63.06" cy="237.78" r="2.2" fill="#0e4678"/>
<circle cx="41.32" cy="259.06" r="2.2" fill="#0e4678"/>
<circle cx="44.36" cy="258.30" r="2.2" fill="#0e4678"/>
<circle cx="45.88" cy="255.26" r="2.2" fill="#0e4678"/>
<circle cx="41.02" cy="231.70" r="2.2" fill="#0e4678"/>
<circle cx="41.02" cy="233.82" r="2.2" fill="#0e4678"/>
<circle cx="41.02" cy="235.95" r="2.2" fill="#0e4678"/>
<circle cx="41.02" cy="238.08" r="2.2" fill="#0e4678"/>
<circle cx="41.02" cy="240.21" r="2.2" fill="#0e4678"/>
<circle cx="41.02" cy="242.34" r="2.2" fill="#0e4678"/>
<circle cx="41.02" cy="244.47" r="2.2" fill="#0e4678"/>
<circle cx="41.02" cy="246.60" r="2.2" fill="#0e4678"/>
<circle cx="41.02" cy="248.73" r="2.2" fill="#0e4678"/>
<circle cx="41.02" cy="250.85" r="2.2" fill="#0e4678"/>
<circle cx="41.02" cy="252.98" r="2.2" fill="#0e4678"/>
<circle cx="41.02" cy="255.11" r="2.2" fill="#0e4678"/>
<circle cx="53.38" cy="235.69" r="2.2" fill="#0e4678"/>
<circle cx="60.28" cy="234.60" r="2.2" fill="#0e4678"/>
<circle cx="54.19" cy="236.01" r="2.2" fill="#0e4678"/>
<circle cx="49.47" cy="235.14" r="2.2" fill="#0e4678"/>
<circle cx="55.98" cy="238.38" r="2.2" fill="#0e4678"/>
<circle cx="48.14" cy="232.73" r="2.2" fill="#0e4678"/>
<circle cx="56.90" cy="229.71" r="2.2" fill="#0e4678"/>
<circle cx="56.33" cy="236.33" r="2.2" fill="#0e4678"/>
<circle cx="54.49" cy="229.92" r="2.2" fill="#0e4678"/>
<circle cx="49.55" cy="232.02" r="2.2" fill="#0e4678"/>
<circle cx="47.21" cy="234.58" r="2.2" fill="#0e4678"/>
<circle cx="53.21" cy="238.95" r="2.2" fill="#0e4678"/>
<circle cx="54.36" cy="236.62" r="2.2" fill="#0e4678"/>
<circle cx="54.07" cy="236.87" r="2.2" fill="#0e4678"/>
<circle cx="53.45" cy="232.44" r="2.2" fill="#0e4678"/>
<circle cx="59.05" cy="237.40" r="2.2" fill="#0e4678"/>
<circle cx="51.38" cy="231.88" r="2.2" fill="#0e4678"/>
<circle cx="50.99" cy="230.04" r="2.2" fill="#0e4678"/>
<circle cx="57.97" cy="233.85" r="2.2" fill="#0e4678"/>
<circle cx="59.14" cy="233.69" r="2.2" fill="#0e4678"/>
<circle cx="60.07" cy="234.65" r="2.2" fill="#0e4678"/>
<circle cx="61.10" cy="233.82" r="2.2" fill="#0e4678"/>
<circle cx="47.84" cy="236.49" r="2.2" fill="#0e4678"/>
<circle cx="58.15" cy="232.34" r="2.2" fill="#0e4678"/>
<circle cx="48.04" cy="233.07" r="2.2" fill="#0e4678"/>
<circle cx="48.49" cy="232.07" r="2.2" fill="#0e4678"/>
<circle cx="58.42" cy="231.28" r="2.2" fill="#0e4678"/>
<circle cx="54.94" cy="234.39" r="2.2" fill="#0e4678"/>
<circle cx="51.50" cy="248.38" r="2.2" fill="#0e4678"/>
<circle cx="53.56" cy="243.62" r="2.2" fill="#0e4678"/>
<circle cx="49.34" cy="249.79" r="2.2" fill="#0e4678"/>
<circle cx="53.82" cy="247.86" r="2.2" fill="#0e4678"/>
<circle cx="52.40" cy="248.41" r="2.2" fill="#0e4678"/>
<circle cx="47.95" cy="246.37" r="2.2" fill="#0e4678"/>
<circle cx="47.19" cy="248.65" r="2.2" fill="#0e4678"/>
<circle cx="50.01" cy="246.04" r="2.2" fill="#0e4678"/>
<circle cx="51.87" cy="243.15" r="2.2" fill="#0e4678"/>
<circle cx="47.60" cy="246.21" r="2.2" fill="#0e4678"/>
<circle cx="47.84" cy="245.19" r="2.2" fill="#0e4678"/>
<circle cx="53.08" cy="243.82" r="2.2" fill="#0e4678"/>
<circle cx="53.89" cy="242.78" r="2.2" fill="#0e4678"/>
<circle cx="48.23" cy="249.84" r="2.2" fill="#0e4678"/>
<circle cx="50.70" cy="246.17" r="2.2" fill="#0e4678"/>
<circle cx="52.80" cy="246.71" r="2.2" fill="#0e4678"/>
<circle cx="50.53" cy="242.59" r="2.2" fill="#0e4678"/>
<circle cx="50.22" cy="245.66" r="2.2" fill="#0e4678"/>
<circle cx="53.82" cy="248.53" r="2.2" fill="#0e4678"/>
<circle cx="47.61" cy="244.48" r="2.2" fill="#0e4678"/>
<circle cx="50.30" cy="247.03" r="2.2" fill="#0e4678"/>
<circle cx="55.11" cy="246.92" r="2.2" fill="#0e4678"/>
<circle cx="63.31" cy="246.92" r="2.2" fill="#0e4678"/>
<circle cx="63.31" cy="248.85" r="2.2" fill="#0e4678"/>
<circle cx="59.85" cy="243.85" r="2.2" fill="#0e4678"/>
<circle cx="63.69" cy="238.08" r="2.2" fill="#0e4678"/>
<circle cx="46.00" cy="240.77" r="2.2" fill="#0e4678"/>
<circle cx="45.62" cy="245.38" r="2.2" fill="#0e4678"/>
<circle cx="48.31" cy="230.77" r="2.2" fill="#0e4678"/>
<circle cx="59.08" cy="230.00" r="2.2" fill="#0e4678"/>
<circle cx="51.38" cy="251.54" r="2.2" fill="#0e4678"/>
<circle cx="45.23" cy="255.38" r="2.2" fill="#0e4678"/>
<circle cx="46.00" cy="258.46" r="2.2" fill="#0e4678"/>
<circle cx="41.00" cy="260.00" r="2.2" fill="#0e4678"/>
<circle cx="248.35" cy="186.02" r="2.2" fill="#0e4678"/>
<circle cx="260.17" cy="185.58" r="2.2" fill="#0e4678"/>
<circle cx="260.17" cy="188.48" r="2.2" fill="#0e4678"/>
<circle cx="260.17" cy="190.71" r="2.2" fill="#0e4678"/>
<circle cx="255.04" cy="194.95" r="2.2" fill="#0e4678"/>
<circle cx="260.17" cy="196.06" r="2.2" fill="#0e4678"/>
<circle cx="260.62" cy="197.85" r="2.2" fill="#0e4678"/>
<circle cx="231.62" cy="192.94" r="2.2" fill="#0e4678"/>
<circle cx="192.58" cy="221.27" r="2.2" fill="#0e4678"/>
<circle cx="182.54" cy="248.48" r="2.2" fill="#0e4678"/>
<circle cx="187.45" cy="251.83" r="2.2" fill="#0e4678"/>
<circle cx="161.35" cy="259.19" r="2.2" fill="#0e4678"/>
<circle cx="174.06" cy="259.19" r="2.2" fill="#0e4678"/>
<circle cx="197.04" cy="258.52" r="2.2" fill="#0e4678"/>
<circle cx="209.75" cy="263.65" r="2.2" fill="#0e4678"/>
<circle cx="164.69" cy="270.35" r="2.2" fill="#0e4678"/>
<circle cx="168.04" cy="268.78" r="2.2" fill="#0e4678"/>
<circle cx="168.04" cy="277.04" r="2.2" fill="#0e4678"/>
<circle cx="209.75" cy="253.17" r="2.2" fill="#0e4678"/>
<circle cx="229.38" cy="236.88" r="2.2" fill="#0e4678"/>
<circle cx="189.23" cy="243.58" r="2.2" fill="#0e4678"/>
<circle cx="192.58" cy="244.69" r="2.2" fill="#0e4678"/>
<circle cx="197.04" cy="248.71" r="2.2" fill="#0e4678"/>
<circle cx="203.73" cy="244.69" r="2.2" fill="#0e4678"/>
<circle cx="211.54" cy="248.71" r="2.2" fill="#0e4678"/>
<circle cx="218.23" cy="245.14" r="2.2" fill="#0e4678"/>
<circle cx="192.69" cy="221.54" r="2.2" fill="#0e4678"/>
<circle cx="207.31" cy="223.46" r="2.2" fill="#0e4678"/>
<circle cx="207.31" cy="227.31" r="2.2" fill="#0e4678"/>
<circle cx="209.62" cy="227.69" r="2.2" fill="#0e4678"/>
<circle cx="194.23" cy="229.23" r="2.2" fill="#0e4678"/>
<circle cx="195.77" cy="227.69" r="2.2" fill="#0e4678"/>
<circle cx="218.08" cy="231.15" r="2.2" fill="#0e4678"/>
<circle cx="190.38" cy="235.77" r="2.2" fill="#0e4678"/>
<circle cx="189.23" cy="243.46" r="2.2" fill="#0e4678"/>
<circle cx="192.69" cy="245.00" r="2.2" fill="#0e4678"/>
<circle cx="203.46" cy="243.46" r="2.2" fill="#0e4678"/>
<circle cx="205.38" cy="246.15" r="2.2" fill="#0e4678"/>
<circle cx="218.08" cy="238.08" r="2.2" fill="#0e4678"/>
<circle cx="215.77" cy="245.00" r="2.2" fill="#0e4678"/>
<circle cx="219.23" cy="245.00" r="2.2" fill="#0e4678"/>
<circle cx="196.92" cy="248.85" r="2.2" fill="#0e4678"/>
<circle cx="211.92" cy="248.85" r="2.2" fill="#0e4678"/>
<circle cx="195.58" cy="237.70" r="2.2" fill="#0e4678"/>
<circle cx="208.14" cy="237.28" r="2.2" fill="#0e4678"/>
<circle cx="196.68" cy="239.18" r="2.2" fill="#0e4678"/>
<circle cx="212.52" cy="238.47" r="2.2" fill="#0e4678"/>
<circle cx="205.31" cy="233.75" r="2.2" fill="#0e4678"/>
<circle cx="207.73" cy="232.09" r="2.2" fill="#0e4678"/>
<circle cx="212.75" cy="235.01" r="2.2" fill="#0e4678"/>
<circle cx="214.03" cy="240.03" r="2.2" fill="#0e4678"/>
<circle cx="192.98" cy="232.73" r="2.2" fill="#0e4678"/>
<circle cx="205.37" cy="232.26" r="2.2" fill="#0e4678"/>
<circle cx="216.54" cy="237.38" r="2.2" fill="#0e4678"/>
<circle cx="195.05" cy="239.20" r="2.2" fill="#0e4678"/>
<circle cx="203.30" cy="237.34" r="2.2" fill="#0e4678"/>
<circle cx="200.60" cy="236.02" r="2.2" fill="#0e4678"/>
<circle cx="214.61" cy="235.37" r="2.2" fill="#0e4678"/>
<circle cx="212.46" cy="234.66" r="2.2" fill="#0e4678"/>
<circle cx="210.62" cy="241.27" r="2.2" fill="#0e4678"/>
<circle cx="206.20" cy="240.07" r="2.2" fill="#0e4678"/>
<circle cx="194.94" cy="234.92" r="2.2" fill="#0e4678"/>
<circle cx="213.68" cy="234.79" r="2.2" fill="#0e4678"/>
<circle cx="202.58" cy="234.88" r="2.2" fill="#0e4678"/>
<circle cx="203.61" cy="235.32" r="2.2" fill="#0e4678"/>
<circle cx="204.53" cy="236.80" r="2.2" fill="#0e4678"/>
<circle cx="205.38" cy="240.16" r="2.2" fill="#0e4678"/>
<circle cx="197.22" cy="236.98" r="2.2" fill="#0e4678"/>
<circle cx="205.81" cy="238.67" r="2.2" fill="#0e4678"/>
<circle cx="197.10" cy="231.47" r="2.2" fill="#0e4678"/>
<circle cx="199.79" cy="241.41" r="2.2" fill="#0e4678"/>
<circle cx="200.46" cy="237.41" r="2.2" fill="#0e4678"/>
<circle cx="200.48" cy="231.24" r="2.2" fill="#0e4678"/>
<circle cx="212.02" cy="236.66" r="2.2" fill="#0e4678"/>
<circle cx="208.96" cy="239.89" r="2.2" fill="#0e4678"/>
<circle cx="201.18" cy="242.43" r="2.2" fill="#0e4678"/>
<circle cx="216.31" cy="240.12" r="2.2" fill="#0e4678"/>
<circle cx="214.50" cy="238.55" r="2.2" fill="#0e4678"/>
<circle cx="201.95" cy="233.29" r="2.2" fill="#0e4678"/>
<circle cx="211.71" cy="237.96" r="2.2" fill="#0e4678"/>
<circle cx="198.83" cy="233.28" r="2.2" fill="#0e4678"/>
<circle cx="203.25" cy="232.57" r="2.2" fill="#0e4678"/>
<circle cx="193.87" cy="233.01" r="2.2" fill="#0e4678"/>
<circle cx="210.99" cy="237.78" r="2.2" fill="#0e4678"/>
<circle cx="204.79" cy="239.81" r="2.2" fill="#0e4678"/>
<circle cx="212.70" cy="242.04" r="2.2" fill="#0e4678"/>
<circle cx="214.22" cy="239.88" r="2.2" fill="#0e4678"/>
<circle cx="202.54" cy="237.57" r="2.2" fill="#0e4678"/>
<circle cx="349.48" cy="221.27" r="2.2" fill="#0e4678"/>
<circle cx="345.69" cy="227.29" r="2.2" fill="#0e4678"/>
<circle cx="355.28" cy="226.40" r="2.2" fill="#0e4678"/>
<circle cx="359.08" cy="228.18" r="2.2" fill="#0e4678"/>
<circle cx="356.85" cy="229.52" r="2.2" fill="#0e4678"/>
<circle cx="322.27" cy="224.17" r="2.2" fill="#0e4678"/>
<circle cx="324.05" cy="227.52" r="2.2" fill="#0e4678"/>
<circle cx="338.55" cy="234.65" r="2.2" fill="#0e4678"/>
<circle cx="324.50" cy="238.45" r="2.2" fill="#0e4678"/>
<circle cx="328.29" cy="240.68" r="2.2" fill="#0e4678"/>
<circle cx="334.09" cy="239.78" r="2.2" fill="#0e4678"/>
<circle cx="340.78" cy="239.12" r="2.2" fill="#0e4678"/>
<circle cx="336.77" cy="243.13" r="2.2" fill="#0e4678"/>
<circle cx="334.54" cy="244.69" r="2.2" fill="#0e4678"/>
<circle cx="367.55" cy="239.12" r="2.2" fill="#0e4678"/>
<circle cx="347.03" cy="246.48" r="2.2" fill="#0e4678"/>
<circle cx="360.19" cy="244.69" r="2.2" fill="#0e4678"/>
<circle cx="327.85" cy="248.48" r="2.2" fill="#0e4678"/>
<circle cx="357.96" cy="251.38" r="2.2" fill="#0e4678"/>
<circle cx="336.77" cy="251.38" r="2.2" fill="#0e4678"/>
<circle cx="329.63" cy="253.17" r="2.2" fill="#0e4678"/>
<circle cx="322.27" cy="255.85" r="2.2" fill="#0e4678"/>
<circle cx="325.62" cy="257.63" r="2.2" fill="#0e4678"/>
<circle cx="324.50" cy="259.86" r="2.2" fill="#0e4678"/>
<circle cx="327.40" cy="258.52" r="2.2" fill="#0e4678"/>
<circle cx="310.00" cy="259.19" r="2.2" fill="#0e4678"/>
<circle cx="307.77" cy="260.31" r="2.2" fill="#0e4678"/>
<circle cx="305.98" cy="261.42" r="2.2" fill="#0e4678"/>
<circle cx="308.88" cy="262.09" r="2.2" fill="#0e4678"/>
<circle cx="303.31" cy="264.32" r="2.2" fill="#0e4678"/>
<circle cx="305.09" cy="265.88" r="2.2" fill="#0e4678"/>
<circle cx="289.92" cy="257.63" r="2.2" fill="#0e4678"/>
<circle cx="289.92" cy="270.35" r="2.2" fill="#0e4678"/>
<circle cx="291.71" cy="273.69" r="2.2" fill="#0e4678"/>
<circle cx="298.40" cy="270.79" r="2.2" fill="#0e4678"/>
<circle cx="297.73" cy="277.04" r="2.2" fill="#0e4678"/>
<circle cx="297.73" cy="279.94" r="2.2" fill="#0e4678"/>
<circle cx="512.42" cy="207.22" r="2.2" fill="#0e4678"/>
<circle cx="503.27" cy="232.42" r="2.2" fill="#0e4678"/>
<circle cx="474.49" cy="225.73" r="2.2" fill="#0e4678"/>
<circle cx="474.94" cy="227.96" r="2.2" fill="#0e4678"/>
<circle cx="478.28" cy="230.19" r="2.2" fill="#0e4678"/>
<circle cx="478.73" cy="239.12" r="2.2" fill="#0e4678"/>
<circle cx="472.04" cy="242.91" r="2.2" fill="#0e4678"/>
<circle cx="470.92" cy="249.15" r="2.2" fill="#0e4678"/>
<circle cx="474.94" cy="250.27" r="2.2" fill="#0e4678"/>
<circle cx="463.78" cy="232.42" r="2.2" fill="#0e4678"/>
<circle cx="466.46" cy="233.98" r="2.2" fill="#0e4678"/>
<circle cx="465.35" cy="238.45" r="2.2" fill="#0e4678"/>
<circle cx="463.12" cy="240.23" r="2.2" fill="#0e4678"/>
<circle cx="464.23" cy="245.81" r="2.2" fill="#0e4678"/>
<circle cx="461.55" cy="251.38" r="2.2" fill="#0e4678"/>
<circle cx="462.45" cy="253.62" r="2.2" fill="#0e4678"/>
<circle cx="446.38" cy="234.65" r="2.2" fill="#0e4678"/>
<circle cx="449.73" cy="236.22" r="2.2" fill="#0e4678"/>
<circle cx="454.19" cy="237.55" r="2.2" fill="#0e4678"/>
<circle cx="448.62" cy="240.23" r="2.2" fill="#0e4678"/>
<circle cx="451.96" cy="242.46" r="2.2" fill="#0e4678"/>
<circle cx="457.54" cy="242.91" r="2.2" fill="#0e4678"/>
<circle cx="459.77" cy="244.69" r="2.2" fill="#0e4678"/>
<circle cx="436.35" cy="245.81" r="2.2" fill="#0e4678"/>
<circle cx="437.46" cy="246.92" r="2.2" fill="#0e4678"/>
<circle cx="444.15" cy="244.69" r="2.2" fill="#0e4678"/>
<circle cx="445.27" cy="246.92" r="2.2" fill="#0e4678"/>
<circle cx="447.50" cy="248.04" r="2.2" fill="#0e4678"/>
<circle cx="441.92" cy="251.38" r="2.2" fill="#0e4678"/>
<circle cx="446.38" cy="251.38" r="2.2" fill="#0e4678"/>
<circle cx="450.85" cy="249.15" r="2.2" fill="#0e4678"/>
<circle cx="454.19" cy="250.94" r="2.2" fill="#0e4678"/>
<circle cx="458.65" cy="249.15" r="2.2" fill="#0e4678"/>
<circle cx="434.78" cy="253.62" r="2.2" fill="#0e4678"/>
<circle cx="439.69" cy="255.85" r="2.2" fill="#0e4678"/>
<circle cx="443.04" cy="256.96" r="2.2" fill="#0e4678"/>
<circle cx="445.27" cy="255.40" r="2.2" fill="#0e4678"/>
<circle cx="449.73" cy="256.96" r="2.2" fill="#0e4678"/>
<circle cx="433.00" cy="258.52" r="2.2" fill="#0e4678"/>
<circle cx="436.35" cy="259.19" r="2.2" fill="#0e4678"/>
<circle cx="438.58" cy="260.31" r="2.2" fill="#0e4678"/>
<circle cx="441.92" cy="260.31" r="2.2" fill="#0e4678"/>
<circle cx="445.27" cy="260.31" r="2.2" fill="#0e4678"/>
<circle cx="448.62" cy="259.19" r="2.2" fill="#0e4678"/>
<circle cx="451.96" cy="259.86" r="2.2" fill="#0e4678"/>
<circle cx="455.31" cy="258.52" r="2.2" fill="#0e4678"/>
<circle cx="431.88" cy="262.54" r="2.2" fill="#0e4678"/>
<circle cx="434.78" cy="263.65" r="2.2" fill="#0e4678"/>
<circle cx="428.54" cy="265.22" r="2.2" fill="#0e4678"/>
<circle cx="426.31" cy="266.55" r="2.2" fill="#0e4678"/>
<circle cx="425.19" cy="265.88" r="2.2" fill="#0e4678"/>
<circle cx="447.50" cy="265.88" r="2.2" fill="#0e4678"/>
<circle cx="420.73" cy="269.68" r="2.2" fill="#0e4678"/>
<circle cx="411.81" cy="277.04" r="2.2" fill="#0e4678"/>
<circle cx="414.04" cy="277.71" r="2.2" fill="#0e4678"/>
<circle cx="416.27" cy="277.71" r="2.2" fill="#0e4678"/>
<circle cx="419.62" cy="277.71" r="2.2" fill="#0e4678"/>
<circle cx="422.96" cy="277.04" r="2.2" fill="#0e4678"/>
<circle cx="412.92" cy="278.15" r="2.2" fill="#0e4678"/>
<circle cx="417.38" cy="278.15" r="2.2" fill="#0e4678"/>
<circle cx="446.99" cy="255.24" r="2.2" fill="#0e4678"/>
<circle cx="444.42" cy="258.45" r="2.2" fill="#0e4678"/>
<circle cx="442.57" cy="259.43" r="2.2" fill="#0e4678"/>
<circle cx="447.50" cy="244.45" r="2.2" fill="#0e4678"/>
<circle cx="447.75" cy="250.21" r="2.2" fill="#0e4678"/>
<circle cx="455.47" cy="243.95" r="2.2" fill="#0e4678"/>
<circle cx="439.92" cy="253.46" r="2.2" fill="#0e4678"/>
<circle cx="448.86" cy="259.11" r="2.2" fill="#0e4678"/>
<circle cx="439.14" cy="251.84" r="2.2" fill="#0e4678"/>
<circle cx="449.63" cy="250.80" r="2.2" fill="#0e4678"/>
<circle cx="441.94" cy="249.63" r="2.2" fill="#0e4678"/>
<circle cx="456.26" cy="248.13" r="2.2" fill="#0e4678"/>
<circle cx="444.50" cy="259.14" r="2.2" fill="#0e4678"/>
<circle cx="449.38" cy="244.23" r="2.2" fill="#0e4678"/>
<circle cx="447.82" cy="245.81" r="2.2" fill="#0e4678"/>
<circle cx="436.81" cy="255.74" r="2.2" fill="#0e4678"/>
<circle cx="443.24" cy="252.39" r="2.2" fill="#0e4678"/>
<circle cx="453.46" cy="253.62" r="2.2" fill="#0e4678"/>
<circle cx="440.71" cy="249.97" r="2.2" fill="#0e4678"/>
<circle cx="450.40" cy="250.23" r="2.2" fill="#0e4678"/>
<circle cx="447.37" cy="243.73" r="2.2" fill="#0e4678"/>
<circle cx="451.29" cy="252.46" r="2.2" fill="#0e4678"/>
<circle cx="140.85" cy="305.58" r="2.2" fill="#0e4678"/>
<circle cx="142.63" cy="304.91" r="2.2" fill="#0e4678"/>
<circle cx="138.62" cy="308.48" r="2.2" fill="#0e4678"/>
<circle cx="142.63" cy="310.04" r="2.2" fill="#0e4678"/>
<circle cx="126.35" cy="317.85" r="2.2" fill="#0e4678"/>
<circle cx="124.78" cy="320.08" r="2.2" fill="#0e4678"/>
<circle cx="120.77" cy="323.42" r="2.2" fill="#0e4678"/>
<circle cx="123.67" cy="330.12" r="2.2" fill="#0e4678"/>
<circle cx="98.46" cy="335.69" r="2.2" fill="#0e4678"/>
<circle cx="100.69" cy="337.48" r="2.2" fill="#0e4678"/>
<circle cx="115.19" cy="339.04" r="2.2" fill="#0e4678"/>
<circle cx="118.54" cy="339.04" r="2.2" fill="#0e4678"/>
<circle cx="104.04" cy="342.83" r="2.2" fill="#0e4678"/>
<circle cx="99.58" cy="344.17" r="2.2" fill="#0e4678"/>
<circle cx="96.23" cy="345.73" r="2.2" fill="#0e4678"/>
<circle cx="102.92" cy="346.85" r="2.2" fill="#0e4678"/>
<circle cx="84.63" cy="343.50" r="2.2" fill="#0e4678"/>
<circle cx="85.52" cy="345.73" r="2.2" fill="#0e4678"/>
<circle cx="77.27" cy="345.73" r="2.2" fill="#0e4678"/>
<circle cx="76.60" cy="346.85" r="2.2" fill="#0e4678"/>
<circle cx="96.23" cy="348.63" r="2.2" fill="#0e4678"/>
<circle cx="100.25" cy="348.63" r="2.2" fill="#0e4678"/>
<circle cx="83.96" cy="351.31" r="2.2" fill="#0e4678"/>
<circle cx="95.12" cy="351.31" r="2.2" fill="#0e4678"/>
<circle cx="98.46" cy="353.54" r="2.2" fill="#0e4678"/>
<circle cx="79.50" cy="352.42" r="2.2" fill="#0e4678"/>
<circle cx="78.38" cy="354.65" r="2.2" fill="#0e4678"/>
<circle cx="81.73" cy="353.54" r="2.2" fill="#0e4678"/>
<circle cx="87.31" cy="355.32" r="2.2" fill="#0e4678"/>
<circle cx="90.65" cy="354.65" r="2.2" fill="#0e4678"/>
<circle cx="93.55" cy="353.54" r="2.2" fill="#0e4678"/>
<circle cx="80.62" cy="356.88" r="2.2" fill="#0e4678"/>
<circle cx="83.96" cy="357.55" r="2.2" fill="#0e4678"/>
<circle cx="86.19" cy="358.45" r="2.2" fill="#0e4678"/>
<circle cx="89.54" cy="358.00" r="2.2" fill="#0e4678"/>
<circle cx="102.92" cy="357.55" r="2.2" fill="#0e4678"/>
<circle cx="107.83" cy="358.00" r="2.2" fill="#0e4678"/>
<circle cx="96.23" cy="361.35" r="2.2" fill="#0e4678"/>
<circle cx="92.88" cy="362.46" r="2.2" fill="#0e4678"/>
<circle cx="90.65" cy="364.69" r="2.2" fill="#0e4678"/>
<circle cx="94.00" cy="365.81" r="2.2" fill="#0e4678"/>
<circle cx="87.31" cy="364.69" r="2.2" fill="#0e4678"/>
<circle cx="82.85" cy="365.81" r="2.2" fill="#0e4678"/>
<circle cx="76.15" cy="363.58" r="2.2" fill="#0e4678"/>
<circle cx="85.08" cy="369.15" r="2.2" fill="#0e4678"/>
<circle cx="95.12" cy="368.04" r="2.2" fill="#0e4678"/>
<circle cx="63.88" cy="365.81" r="2.2" fill="#0e4678"/>
<circle cx="67.23" cy="370.27" r="2.2" fill="#0e4678"/>
<circle cx="66.12" cy="372.50" r="2.2" fill="#0e4678"/>
<circle cx="76.15" cy="371.38" r="2.2" fill="#0e4678"/>
<circle cx="61.65" cy="375.85" r="2.2" fill="#0e4678"/>
<circle cx="53.85" cy="376.96" r="2.2" fill="#0e4678"/>
<circle cx="57.86" cy="381.42" r="2.2" fill="#0e4678"/>
<circle cx="70.58" cy="379.86" r="2.2" fill="#0e4678"/>
<circle cx="84.63" cy="384.77" r="2.2" fill="#0e4678"/>
<circle cx="96.68" cy="382.09" r="2.2" fill="#0e4678"/>
<circle cx="50.50" cy="387.00" r="2.2" fill="#0e4678"/>
<circle cx="51.62" cy="395.92" r="2.2" fill="#0e4678"/>
<circle cx="40.91" cy="396.37" r="2.2" fill="#0e4678"/>
<circle cx="43.81" cy="398.15" r="2.2" fill="#0e4678"/>
<circle cx="42.69" cy="397.04" r="2.2" fill="#0e4678"/>
<circle cx="87.90" cy="350.60" r="2.2" fill="#0e4678"/>
<circle cx="90.59" cy="358.42" r="2.2" fill="#0e4678"/>
<circle cx="82.14" cy="355.19" r="2.2" fill="#0e4678"/>
<circle cx="87.93" cy="360.88" r="2.2" fill="#0e4678"/>
<circle cx="85.40" cy="364.25" r="2.2" fill="#0e4678"/>
<circle cx="263.85" cy="306.69" r="2.2" fill="#0e4678"/>
<circle cx="266.08" cy="305.58" r="2.2" fill="#0e4678"/>
<circle cx="268.31" cy="305.58" r="2.2" fill="#0e4678"/>
<circle cx="248.68" cy="315.62" r="2.2" fill="#0e4678"/>
<circle cx="247.12" cy="318.96" r="2.2" fill="#0e4678"/>
<circle cx="249.35" cy="319.63" r="2.2" fill="#0e4678"/>
<circle cx="252.69" cy="320.52" r="2.2" fill="#0e4678"/>
<circle cx="228.60" cy="322.75" r="2.2" fill="#0e4678"/>
<circle cx="241.09" cy="328.55" r="2.2" fill="#0e4678"/>
<circle cx="243.77" cy="327.88" r="2.2" fill="#0e4678"/>
<circle cx="244.88" cy="327.22" r="2.2" fill="#0e4678"/>
<circle cx="215.88" cy="336.14" r="2.2" fill="#0e4678"/>
<circle cx="214.77" cy="339.04" r="2.2" fill="#0e4678"/>
<circle cx="223.69" cy="340.60" r="2.2" fill="#0e4678"/>
<circle cx="229.27" cy="339.71" r="2.2" fill="#0e4678"/>
<circle cx="210.31" cy="343.50" r="2.2" fill="#0e4678"/>
<circle cx="212.09" cy="344.62" r="2.2" fill="#0e4678"/>
<circle cx="222.58" cy="345.73" r="2.2" fill="#0e4678"/>
<circle cx="225.92" cy="346.85" r="2.2" fill="#0e4678"/>
<circle cx="230.38" cy="345.73" r="2.2" fill="#0e4678"/>
<circle cx="203.62" cy="346.85" r="2.2" fill="#0e4678"/>
<circle cx="211.42" cy="348.63" r="2.2" fill="#0e4678"/>
<circle cx="213.65" cy="350.86" r="2.2" fill="#0e4678"/>
<circle cx="220.35" cy="351.31" r="2.2" fill="#0e4678"/>
<circle cx="224.81" cy="352.42" r="2.2" fill="#0e4678"/>
<circle cx="209.19" cy="353.54" r="2.2" fill="#0e4678"/>
<circle cx="217.00" cy="353.09" r="2.2" fill="#0e4678"/>
<circle cx="221.46" cy="354.65" r="2.2" fill="#0e4678"/>
<circle cx="225.92" cy="353.54" r="2.2" fill="#0e4678"/>
<circle cx="193.58" cy="354.65" r="2.2" fill="#0e4678"/>
<circle cx="202.50" cy="355.77" r="2.2" fill="#0e4678"/>
<circle cx="205.85" cy="356.22" r="2.2" fill="#0e4678"/>
<circle cx="210.31" cy="356.88" r="2.2" fill="#0e4678"/>
<circle cx="213.65" cy="358.45" r="2.2" fill="#0e4678"/>
<circle cx="219.23" cy="358.45" r="2.2" fill="#0e4678"/>
<circle cx="223.69" cy="357.55" r="2.2" fill="#0e4678"/>
<circle cx="204.73" cy="359.12" r="2.2" fill="#0e4678"/>
<circle cx="209.19" cy="360.23" r="2.2" fill="#0e4678"/>
<circle cx="214.77" cy="360.68" r="2.2" fill="#0e4678"/>
<circle cx="222.58" cy="361.35" r="2.2" fill="#0e4678"/>
<circle cx="202.50" cy="362.46" r="2.2" fill="#0e4678"/>
<circle cx="206.96" cy="363.58" r="2.2" fill="#0e4678"/>
<circle cx="211.42" cy="364.25" r="2.2" fill="#0e4678"/>
<circle cx="201.38" cy="364.69" r="2.2" fill="#0e4678"/>
<circle cx="219.23" cy="366.48" r="2.2" fill="#0e4678"/>
<circle cx="223.69" cy="363.58" r="2.2" fill="#0e4678"/>
<circle cx="179.75" cy="362.02" r="2.2" fill="#0e4678"/>
<circle cx="186.88" cy="361.35" r="2.2" fill="#0e4678"/>
<circle cx="190.23" cy="365.81" r="2.2" fill="#0e4678"/>
<circle cx="192.46" cy="367.37" r="2.2" fill="#0e4678"/>
<circle cx="196.48" cy="370.94" r="2.2" fill="#0e4678"/>
<circle cx="205.85" cy="373.62" r="2.2" fill="#0e4678"/>
<circle cx="210.31" cy="379.86" r="2.2" fill="#0e4678"/>
<circle cx="233.73" cy="373.62" r="2.2" fill="#0e4678"/>
<circle cx="222.58" cy="385.22" r="2.2" fill="#0e4678"/>
<circle cx="175.73" cy="386.55" r="2.2" fill="#0e4678"/>
<circle cx="176.85" cy="389.23" r="2.2" fill="#0e4678"/>
<circle cx="177.29" cy="391.46" r="2.2" fill="#0e4678"/>
<circle cx="183.54" cy="391.46" r="2.2" fill="#0e4678"/>
<circle cx="167.48" cy="398.15" r="2.2" fill="#0e4678"/>
<circle cx="169.71" cy="398.15" r="2.2" fill="#0e4678"/>
<circle cx="208.78" cy="360.79" r="2.2" fill="#0e4678"/>
<circle cx="210.00" cy="361.98" r="2.2" fill="#0e4678"/>
<circle cx="215.34" cy="352.47" r="2.2" fill="#0e4678"/>
<circle cx="217.06" cy="355.04" r="2.2" fill="#0e4678"/>
<circle cx="206.11" cy="360.66" r="2.2" fill="#0e4678"/>
<circle cx="216.71" cy="354.33" r="2.2" fill="#0e4678"/>
<circle cx="338.22" cy="351.75" r="2.2" fill="#0e4678"/>
<circle cx="348.25" cy="366.92" r="2.2" fill="#0e4678"/>
<circle cx="332.19" cy="369.60" r="2.2" fill="#0e4678"/>
<circle cx="328.85" cy="369.15" r="2.2" fill="#0e4678"/>
<circle cx="325.50" cy="368.04" r="2.2" fill="#0e4678"/>
<circle cx="322.15" cy="366.48" r="2.2" fill="#0e4678"/>
<circle cx="320.37" cy="368.71" r="2.2" fill="#0e4678"/>
<circle cx="314.35" cy="367.37" r="2.2" fill="#0e4678"/>
<circle cx="315.46" cy="370.94" r="2.2" fill="#0e4678"/>
<circle cx="312.12" cy="374.73" r="2.2" fill="#0e4678"/>
<circle cx="317.69" cy="373.62" r="2.2" fill="#0e4678"/>
<circle cx="321.04" cy="373.17" r="2.2" fill="#0e4678"/>
<circle cx="323.27" cy="375.85" r="2.2" fill="#0e4678"/>
<circle cx="322.15" cy="378.52" r="2.2" fill="#0e4678"/>
<circle cx="317.69" cy="378.08" r="2.2" fill="#0e4678"/>
<circle cx="313.23" cy="379.19" r="2.2" fill="#0e4678"/>
<circle cx="308.77" cy="382.54" r="2.2" fill="#0e4678"/>
<circle cx="304.31" cy="380.75" r="2.2" fill="#0e4678"/>
<circle cx="302.08" cy="382.54" r="2.2" fill="#0e4678"/>
<circle cx="298.73" cy="384.77" r="2.2" fill="#0e4678"/>
<circle cx="296.50" cy="387.00" r="2.2" fill="#0e4678"/>
<circle cx="300.96" cy="385.88" r="2.2" fill="#0e4678"/>
<circle cx="306.54" cy="384.77" r="2.2" fill="#0e4678"/>
<circle cx="312.12" cy="383.65" r="2.2" fill="#0e4678"/>
<circle cx="315.46" cy="382.09" r="2.2" fill="#0e4678"/>
<circle cx="318.81" cy="381.42" r="2.2" fill="#0e4678"/>
<circle cx="326.62" cy="384.32" r="2.2" fill="#0e4678"/>
<circle cx="324.38" cy="388.12" r="2.2" fill="#0e4678"/>
<circle cx="321.04" cy="385.88" r="2.2" fill="#0e4678"/>
<circle cx="308.77" cy="388.12" r="2.2" fill="#0e4678"/>
<circle cx="311.00" cy="390.35" r="2.2" fill="#0e4678"/>
<circle cx="313.23" cy="391.91" r="2.2" fill="#0e4678"/>
<circle cx="304.31" cy="390.35" r="2.2" fill="#0e4678"/>
<circle cx="299.85" cy="389.23" r="2.2" fill="#0e4678"/>
<circle cx="303.19" cy="393.69" r="2.2" fill="#0e4678"/>
<circle cx="306.54" cy="394.81" r="2.2" fill="#0e4678"/>
<circle cx="295.38" cy="390.35" r="2.2" fill="#0e4678"/>
<circle cx="293.15" cy="392.58" r="2.2" fill="#0e4678"/>
<circle cx="294.27" cy="394.81" r="2.2" fill="#0e4678"/>
<circle cx="297.62" cy="393.25" r="2.2" fill="#0e4678"/>
<circle cx="292.04" cy="395.92" r="2.2" fill="#0e4678"/>
<circle cx="295.38" cy="398.15" r="2.2" fill="#0e4678"/>
<circle cx="298.73" cy="398.15" r="2.2" fill="#0e4678"/>
<circle cx="300.96" cy="397.04" r="2.2" fill="#0e4678"/>
<circle cx="293.15" cy="398.15" r="2.2" fill="#0e4678"/>
<circle cx="308.77" cy="391.46" r="2.2" fill="#0e4678"/>
<circle cx="303.75" cy="386.06" r="2.2" fill="#0e4678"/>
<circle cx="310.29" cy="386.99" r="2.2" fill="#0e4678"/>
<circle cx="308.06" cy="384.87" r="2.2" fill="#0e4678"/>
<circle cx="312.74" cy="383.91" r="2.2" fill="#0e4678"/>
<circle cx="314.22" cy="383.90" r="2.2" fill="#0e4678"/>
<circle cx="314.13" cy="381.29" r="2.2" fill="#0e4678"/>
<circle cx="298.75" cy="388.59" r="2.2" fill="#0e4678"/>
<circle cx="310.27" cy="380.74" r="2.2" fill="#0e4678"/>
<circle cx="311.44" cy="385.35" r="2.2" fill="#0e4678"/>
<circle cx="312.91" cy="379.47" r="2.2" fill="#0e4678"/>
<circle cx="512.86" cy="308.48" r="2.2" fill="#0e4678"/>
<circle cx="506.17" cy="309.37" r="2.2" fill="#0e4678"/>
<circle cx="504.38" cy="311.60" r="2.2" fill="#0e4678"/>
<circle cx="502.15" cy="313.38" r="2.2" fill="#0e4678"/>
<circle cx="499.92" cy="312.94" r="2.2" fill="#0e4678"/>
<circle cx="507.73" cy="314.50" r="2.2" fill="#0e4678"/>
<circle cx="463.78" cy="337.48" r="2.2" fill="#0e4678"/>
<circle cx="477.17" cy="336.81" r="2.2" fill="#0e4678"/>
<circle cx="477.17" cy="340.15" r="2.2" fill="#0e4678"/>
<circle cx="476.50" cy="344.17" r="2.2" fill="#0e4678"/>
<circle cx="437.46" cy="342.83" r="2.2" fill="#0e4678"/>
<circle cx="463.12" cy="345.73" r="2.2" fill="#0e4678"/>
<circle cx="469.81" cy="346.85" r="2.2" fill="#0e4678"/>
<circle cx="465.35" cy="347.96" r="2.2" fill="#0e4678"/>
<circle cx="478.73" cy="350.19" r="2.2" fill="#0e4678"/>
<circle cx="451.96" cy="348.63" r="2.2" fill="#0e4678"/>
<circle cx="455.75" cy="349.52" r="2.2" fill="#0e4678"/>
<circle cx="459.32" cy="351.31" r="2.2" fill="#0e4678"/>
<circle cx="463.78" cy="351.75" r="2.2" fill="#0e4678"/>
<circle cx="468.69" cy="353.54" r="2.2" fill="#0e4678"/>
<circle cx="473.15" cy="355.32" r="2.2" fill="#0e4678"/>
<circle cx="475.38" cy="355.77" r="2.2" fill="#0e4678"/>
<circle cx="479.85" cy="358.45" r="2.2" fill="#0e4678"/>
<circle cx="482.08" cy="359.12" r="2.2" fill="#0e4678"/>
<circle cx="437.46" cy="355.77" r="2.2" fill="#0e4678"/>
<circle cx="440.81" cy="356.88" r="2.2" fill="#0e4678"/>
<circle cx="445.27" cy="354.65" r="2.2" fill="#0e4678"/>
<circle cx="447.50" cy="353.54" r="2.2" fill="#0e4678"/>
<circle cx="449.73" cy="355.77" r="2.2" fill="#0e4678"/>
<circle cx="454.19" cy="355.32" r="2.2" fill="#0e4678"/>
<circle cx="457.54" cy="356.88" r="2.2" fill="#0e4678"/>
<circle cx="460.88" cy="354.65" r="2.2" fill="#0e4678"/>
<circle cx="464.23" cy="355.77" r="2.2" fill="#0e4678"/>
<circle cx="467.58" cy="357.55" r="2.2" fill="#0e4678"/>
<circle cx="436.35" cy="360.23" r="2.2" fill="#0e4678"/>
<circle cx="439.69" cy="361.35" r="2.2" fill="#0e4678"/>
<circle cx="444.15" cy="360.23" r="2.2" fill="#0e4678"/>
<circle cx="448.62" cy="359.78" r="2.2" fill="#0e4678"/>
<circle cx="451.96" cy="360.68" r="2.2" fill="#0e4678"/>
<circle cx="455.31" cy="359.12" r="2.2" fill="#0e4678"/>
<circle cx="459.77" cy="359.78" r="2.2" fill="#0e4678"/>
<circle cx="463.12" cy="360.68" r="2.2" fill="#0e4678"/>
<circle cx="468.69" cy="361.35" r="2.2" fill="#0e4678"/>
<circle cx="470.92" cy="365.81" r="2.2" fill="#0e4678"/>
<circle cx="435.23" cy="364.69" r="2.2" fill="#0e4678"/>
<circle cx="438.58" cy="365.81" r="2.2" fill="#0e4678"/>
<circle cx="443.04" cy="364.69" r="2.2" fill="#0e4678"/>
<circle cx="447.50" cy="364.69" r="2.2" fill="#0e4678"/>
<circle cx="450.85" cy="366.92" r="2.2" fill="#0e4678"/>
<circle cx="454.19" cy="365.81" r="2.2" fill="#0e4678"/>
<circle cx="437.46" cy="369.15" r="2.2" fill="#0e4678"/>
<circle cx="440.81" cy="370.27" r="2.2" fill="#0e4678"/>
<circle cx="445.27" cy="369.15" r="2.2" fill="#0e4678"/>
<circle cx="448.62" cy="370.94" r="2.2" fill="#0e4678"/>
<circle cx="453.08" cy="369.15" r="2.2" fill="#0e4678"/>
<circle cx="434.12" cy="373.62" r="2.2" fill="#0e4678"/>
<circle cx="436.35" cy="376.96" r="2.2" fill="#0e4678"/>
<circle cx="439.69" cy="375.85" r="2.2" fill="#0e4678"/>
<circle cx="443.04" cy="374.73" r="2.2" fill="#0e4678"/>
<circle cx="433.00" cy="380.31" r="2.2" fill="#0e4678"/>
<circle cx="436.35" cy="381.42" r="2.2" fill="#0e4678"/>
<circle cx="439.69" cy="384.32" r="2.2" fill="#0e4678"/>
<circle cx="431.88" cy="384.32" r="2.2" fill="#0e4678"/>
<circle cx="426.31" cy="379.19" r="2.2" fill="#0e4678"/>
<circle cx="425.19" cy="390.35" r="2.2" fill="#0e4678"/>
<circle cx="410.69" cy="382.09" r="2.2" fill="#0e4678"/>
<circle cx="414.04" cy="385.88" r="2.2" fill="#0e4678"/>
<circle cx="418.50" cy="385.22" r="2.2" fill="#0e4678"/>
<circle cx="421.85" cy="384.77" r="2.2" fill="#0e4678"/>
<circle cx="409.58" cy="390.35" r="2.2" fill="#0e4678"/>
<circle cx="411.81" cy="391.46" r="2.2" fill="#0e4678"/>
<circle cx="415.15" cy="391.46" r="2.2" fill="#0e4678"/>
<circle cx="410.69" cy="394.81" r="2.2" fill="#0e4678"/>
<circle cx="412.92" cy="395.92" r="2.2" fill="#0e4678"/>
<circle cx="415.15" cy="394.81" r="2.2" fill="#0e4678"/>
<circle cx="417.38" cy="393.69" r="2.2" fill="#0e4678"/>
<circle cx="419.62" cy="398.15" r="2.2" fill="#0e4678"/>
<circle cx="411.81" cy="398.15" r="2.2" fill="#0e4678"/>
<circle cx="416.27" cy="398.15" r="2.2" fill="#0e4678"/>
<circle cx="414.04" cy="393.25" r="2.2" fill="#0e4678"/>
<circle cx="444.55" cy="363.44" r="2.2" fill="#0e4678"/>
<circle cx="444.67" cy="369.12" r="2.2" fill="#0e4678"/>
<circle cx="444.59" cy="364.32" r="2.2" fill="#0e4678"/>
<circle cx="463.52" cy="350.59" r="2.2" fill="#0e4678"/>
<circle cx="454.36" cy="360.05" r="2.2" fill="#0e4678"/>
<circle cx="453.36" cy="355.79" r="2.2" fill="#0e4678"/>
<circle cx="453.77" cy="363.74" r="2.2" fill="#0e4678"/>
<circle cx="443.52" cy="366.08" r="2.2" fill="#0e4678"/>
<circle cx="450.34" cy="365.20" r="2.2" fill="#0e4678"/>
<circle cx="445.11" cy="367.77" r="2.2" fill="#0e4678"/>
<circle cx="452.80" cy="364.71" r="2.2" fill="#0e4678"/>
<circle cx="454.27" cy="365.11" r="2.2" fill="#0e4678"/>
<circle cx="463.90" cy="357.97" r="2.2" fill="#0e4678"/>
<circle cx="452.09" cy="353.18" r="2.2" fill="#0e4678"/>
<circle cx="465.77" cy="350.50" r="2.2" fill="#0e4678"/>
<circle cx="437.43" cy="366.32" r="2.2" fill="#0e4678"/>
<circle cx="447.16" cy="356.49" r="2.2" fill="#0e4678"/>
<circle cx="464.06" cy="353.03" r="2.2" fill="#0e4678"/>
<circle cx="441.54" cy="362.58" r="2.2" fill="#0e4678"/>
<circle cx="447.54" cy="354.78" r="2.2" fill="#0e4678"/>
<circle cx="460.77" cy="356.76" r="2.2" fill="#0e4678"/>
<circle cx="465.60" cy="353.84" r="2.2" fill="#0e4678"/>
<circle cx="453.28" cy="358.78" r="2.2" fill="#0e4678"/>
<circle cx="464.19" cy="358.17" r="2.2" fill="#0e4678"/>
<circle cx="437.65" cy="365.95" r="2.2" fill="#0e4678"/>
<circle cx="440.67" cy="367.17" r="2.2" fill="#0e4678"/>
<circle cx="454.76" cy="358.60" r="2.2" fill="#0e4678"/>
<circle cx="460.19" cy="349.41" r="2.2" fill="#0e4678"/>
<circle cx="459.27" cy="356.46" r="2.2" fill="#0e4678"/>
<circle cx="438.75" cy="366.11" r="2.2" fill="#0e4678"/>
<circle cx="89.98" cy="429.92" r="2.2" fill="#0e4678"/>
<circle cx="67.23" cy="435.05" r="2.2" fill="#0e4678"/>
<circle cx="77.94" cy="435.05" r="2.2" fill="#0e4678"/>
<circle cx="80.62" cy="436.17" r="2.2" fill="#0e4678"/>
<circle cx="104.71" cy="438.18" r="2.2" fill="#0e4678"/>
<circle cx="59.42" cy="444.42" r="2.2" fill="#0e4678"/>
<circle cx="68.35" cy="457.36" r="2.2" fill="#0e4678"/>
<circle cx="73.48" cy="457.36" r="2.2" fill="#0e4678"/>
<circle cx="65.67" cy="460.71" r="2.2" fill="#0e4678"/>
<circle cx="40.91" cy="460.71" r="2.2" fill="#0e4678"/>
<circle cx="54.29" cy="462.94" r="2.2" fill="#0e4678"/>
<circle cx="52.73" cy="473.42" r="2.2" fill="#0e4678"/>
<circle cx="59.42" cy="470.08" r="2.2" fill="#0e4678"/>
<circle cx="64.55" cy="467.85" r="2.2" fill="#0e4678"/>
<circle cx="65.00" cy="471.19" r="2.2" fill="#0e4678"/>
<circle cx="60.98" cy="474.09" r="2.2" fill="#0e4678"/>
<circle cx="58.31" cy="475.65" r="2.2" fill="#0e4678"/>
<circle cx="62.77" cy="476.77" r="2.2" fill="#0e4678"/>
<circle cx="67.23" cy="475.65" r="2.2" fill="#0e4678"/>
<circle cx="69.46" cy="476.77" r="2.2" fill="#0e4678"/>
<circle cx="72.14" cy="477.88" r="2.2" fill="#0e4678"/>
<circle cx="67.23" cy="480.78" r="2.2" fill="#0e4678"/>
<circle cx="57.19" cy="479.45" r="2.2" fill="#0e4678"/>
<circle cx="60.54" cy="481.23" r="2.2" fill="#0e4678"/>
<circle cx="63.88" cy="483.02" r="2.2" fill="#0e4678"/>
<circle cx="54.96" cy="483.46" r="2.2" fill="#0e4678"/>
<circle cx="53.85" cy="486.81" r="2.2" fill="#0e4678"/>
<circle cx="57.19" cy="485.69" r="2.2" fill="#0e4678"/>
<circle cx="60.54" cy="485.69" r="2.2" fill="#0e4678"/>
<circle cx="65.00" cy="484.58" r="2.2" fill="#0e4678"/>
<circle cx="69.46" cy="485.69" r="2.2" fill="#0e4678"/>
<circle cx="72.81" cy="483.91" r="2.2" fill="#0e4678"/>
<circle cx="75.71" cy="483.46" r="2.2" fill="#0e4678"/>
<circle cx="56.08" cy="490.15" r="2.2" fill="#0e4678"/>
<circle cx="59.42" cy="489.04" r="2.2" fill="#0e4678"/>
<circle cx="63.88" cy="490.15" r="2.2" fill="#0e4678"/>
<circle cx="58.31" cy="492.38" r="2.2" fill="#0e4678"/>
<circle cx="54.96" cy="494.62" r="2.2" fill="#0e4678"/>
<circle cx="61.65" cy="494.62" r="2.2" fill="#0e4678"/>
<circle cx="62.77" cy="496.85" r="2.2" fill="#0e4678"/>
<circle cx="59.42" cy="497.96" r="2.2" fill="#0e4678"/>
<circle cx="61.65" cy="499.08" r="2.2" fill="#0e4678"/>
<circle cx="53.85" cy="499.52" r="2.2" fill="#0e4678"/>
<circle cx="40.91" cy="471.19" r="2.2" fill="#0e4678"/>
<circle cx="40.91" cy="473.87" r="2.2" fill="#0e4678"/>
<circle cx="40.91" cy="476.55" r="2.2" fill="#0e4678"/>
<circle cx="40.91" cy="479.22" r="2.2" fill="#0e4678"/>
<circle cx="40.91" cy="481.90" r="2.2" fill="#0e4678"/>
<circle cx="40.91" cy="484.58" r="2.2" fill="#0e4678"/>
<circle cx="40.91" cy="487.25" r="2.2" fill="#0e4678"/>
<circle cx="40.91" cy="489.93" r="2.2" fill="#0e4678"/>
<circle cx="40.91" cy="492.61" r="2.2" fill="#0e4678"/>
<circle cx="40.91" cy="501.31" r="2.2" fill="#0e4678"/>
<circle cx="44.92" cy="523.17" r="2.2" fill="#0e4678"/>
<circle cx="48.27" cy="523.17" r="2.2" fill="#0e4678"/>
<circle cx="58.31" cy="523.17" r="2.2" fill="#0e4678"/>
<circle cx="60.54" cy="523.17" r="2.2" fill="#0e4678"/>
<circle cx="62.77" cy="523.17" r="2.2" fill="#0e4678"/>
<circle cx="67.23" cy="523.17" r="2.2" fill="#0e4678"/>
<circle cx="70.58" cy="523.17" r="2.2" fill="#0e4678"/>
<circle cx="73.92" cy="523.17" r="2.2" fill="#0e4678"/>
<circle cx="75.71" cy="523.17" r="2.2" fill="#0e4678"/>
<circle cx="259.38" cy="438.40" r="2.2" fill="#c20f2d"/>
<circle cx="256.04" cy="444.42" r="2.2" fill="#c20f2d"/>
<circle cx="259.38" cy="452.90" r="2.2" fill="#c20f2d"/>
<circle cx="238.19" cy="440.63" r="2.2" fill="#c20f2d"/>
<circle cx="241.54" cy="447.77" r="2.2" fill="#c20f2d"/>
<circle cx="243.77" cy="446.65" r="2.2" fill="#c20f2d"/>
<circle cx="244.88" cy="454.46" r="2.2" fill="#c20f2d"/>
<circle cx="241.09" cy="462.94" r="2.2" fill="#c20f2d"/>
<circle cx="241.54" cy="470.08" r="2.2" fill="#c20f2d"/>
<circle cx="243.32" cy="468.96" r="2.2" fill="#c20f2d"/>
<circle cx="243.77" cy="486.14" r="2.2" fill="#c20f2d"/>
<circle cx="238.86" cy="487.48" r="2.2" fill="#c20f2d"/>
<circle cx="234.85" cy="475.21" r="2.2" fill="#c20f2d"/>
<circle cx="229.27" cy="466.73" r="2.2" fill="#c20f2d"/>
<circle cx="230.83" cy="467.40" r="2.2" fill="#c20f2d"/>
<circle cx="221.02" cy="461.82" r="2.2" fill="#c20f2d"/>
<circle cx="220.35" cy="466.73" r="2.2" fill="#c20f2d"/>
<circle cx="222.58" cy="472.31" r="2.2" fill="#c20f2d"/>
<circle cx="221.46" cy="475.65" r="2.2" fill="#c20f2d"/>
<circle cx="219.23" cy="474.54" r="2.2" fill="#c20f2d"/>
<circle cx="215.88" cy="470.52" r="2.2" fill="#c20f2d"/>
<circle cx="212.54" cy="463.38" r="2.2" fill="#c20f2d"/>
<circle cx="209.19" cy="463.38" r="2.2" fill="#c20f2d"/>
<circle cx="210.31" cy="466.73" r="2.2" fill="#c20f2d"/>
<circle cx="211.42" cy="468.96" r="2.2" fill="#c20f2d"/>
<circle cx="213.65" cy="470.08" r="2.2" fill="#c20f2d"/>
<circle cx="212.54" cy="472.75" r="2.2" fill="#c20f2d"/>
<circle cx="209.19" cy="474.54" r="2.2" fill="#c20f2d"/>
<circle cx="205.85" cy="470.52" r="2.2" fill="#c20f2d"/>
<circle cx="206.96" cy="474.54" r="2.2" fill="#c20f2d"/>
<circle cx="204.73" cy="477.88" r="2.2" fill="#c20f2d"/>
<circle cx="208.08" cy="479.45" r="2.2" fill="#c20f2d"/>
<circle cx="210.31" cy="480.78" r="2.2" fill="#c20f2d"/>
<circle cx="212.54" cy="482.35" r="2.2" fill="#c20f2d"/>
<circle cx="211.42" cy="485.69" r="2.2" fill="#c20f2d"/>
<circle cx="209.19" cy="487.92" r="2.2" fill="#c20f2d"/>
<circle cx="214.77" cy="484.58" r="2.2" fill="#c20f2d"/>
<circle cx="216.55" cy="487.92" r="2.2" fill="#c20f2d"/>
<circle cx="217.00" cy="490.15" r="2.2" fill="#c20f2d"/>
<circle cx="212.54" cy="490.60" r="2.2" fill="#c20f2d"/>
<circle cx="209.19" cy="490.60" r="2.2" fill="#c20f2d"/>
<circle cx="206.96" cy="485.69" r="2.2" fill="#c20f2d"/>
<circle cx="203.62" cy="483.02" r="2.2" fill="#c20f2d"/>
<circle cx="202.50" cy="481.23" r="2.2" fill="#c20f2d"/>
<circle cx="201.38" cy="477.88" r="2.2" fill="#c20f2d"/>
<circle cx="200.27" cy="458.48" r="2.2" fill="#c20f2d"/>
<circle cx="198.71" cy="462.27" r="2.2" fill="#c20f2d"/>
<circle cx="194.69" cy="465.17" r="2.2" fill="#c20f2d"/>
<circle cx="186.88" cy="475.21" r="2.2" fill="#c20f2d"/>
<circle cx="189.78" cy="475.21" r="2.2" fill="#c20f2d"/>
<circle cx="195.81" cy="483.46" r="2.2" fill="#c20f2d"/>
<circle cx="192.46" cy="485.69" r="2.2" fill="#c20f2d"/>
<circle cx="194.69" cy="487.92" r="2.2" fill="#c20f2d"/>
<circle cx="196.92" cy="486.81" r="2.2" fill="#c20f2d"/>
<circle cx="203.62" cy="489.04" r="2.2" fill="#c20f2d"/>
<circle cx="192.46" cy="494.17" r="2.2" fill="#c20f2d"/>
<circle cx="200.94" cy="494.62" r="2.2" fill="#c20f2d"/>
<circle cx="204.73" cy="496.40" r="2.2" fill="#c20f2d"/>
<circle cx="208.08" cy="496.85" r="2.2" fill="#c20f2d"/>
<circle cx="221.91" cy="497.29" r="2.2" fill="#c20f2d"/>
<circle cx="233.06" cy="496.85" r="2.2" fill="#c20f2d"/>
<circle cx="184.65" cy="499.08" r="2.2" fill="#c20f2d"/>
<circle cx="189.12" cy="499.52" r="2.2" fill="#c20f2d"/>
<circle cx="202.50" cy="500.86" r="2.2" fill="#c20f2d"/>
<circle cx="201.83" cy="505.77" r="2.2" fill="#c20f2d"/>
<circle cx="181.31" cy="504.65" r="2.2" fill="#c20f2d"/>
<circle cx="186.88" cy="510.68" r="2.2" fill="#c20f2d"/>
<circle cx="181.31" cy="520.27" r="2.2" fill="#c20f2d"/>
<circle cx="193.58" cy="519.60" r="2.2" fill="#c20f2d"/>
<circle cx="207.63" cy="519.60" r="2.2" fill="#c20f2d"/>
<circle cx="164.58" cy="481.68" r="2.2" fill="#c20f2d"/>
<circle cx="164.58" cy="487.48" r="2.2" fill="#c20f2d"/>
<circle cx="164.58" cy="490.15" r="2.2" fill="#c20f2d"/>
<circle cx="164.58" cy="492.38" r="2.2" fill="#c20f2d"/>
<circle cx="164.58" cy="495.73" r="2.2" fill="#c20f2d"/>
<circle cx="164.58" cy="499.08" r="2.2" fill="#c20f2d"/>
<circle cx="164.58" cy="502.42" r="2.2" fill="#c20f2d"/>
<circle cx="164.58" cy="505.77" r="2.2" fill="#c20f2d"/>
<circle cx="165.69" cy="509.12" r="2.2" fill="#c20f2d"/>
<circle cx="166.81" cy="511.35" r="2.2" fill="#c20f2d"/>
<circle cx="165.69" cy="513.58" r="2.2" fill="#c20f2d"/>
<circle cx="165.69" cy="515.81" r="2.2" fill="#c20f2d"/>
<circle cx="167.48" cy="518.04" r="2.2" fill="#c20f2d"/>
<circle cx="169.71" cy="519.82" r="2.2" fill="#c20f2d"/>
<circle cx="210.69" cy="480.87" r="2.2" fill="#c20f2d"/>
<circle cx="214.21" cy="477.71" r="2.2" fill="#c20f2d"/>
<circle cx="208.76" cy="482.70" r="2.2" fill="#c20f2d"/>
<circle cx="210.60" cy="478.23" r="2.2" fill="#c20f2d"/>
<circle cx="209.70" cy="477.84" r="2.2" fill="#c20f2d"/>
<circle cx="207.05" cy="481.88" r="2.2" fill="#c20f2d"/>
<circle cx="215.15" cy="482.64" r="2.2" fill="#c20f2d"/>
<circle cx="212.26" cy="477.94" r="2.2" fill="#c20f2d"/>
<circle cx="210.01" cy="475.35" r="2.2" fill="#c20f2d"/>
<circle cx="213.31" cy="477.39" r="2.2" fill="#c20f2d"/>
<circle cx="212.07" cy="483.61" r="2.2" fill="#c20f2d"/>
<circle cx="212.18" cy="475.81" r="2.2" fill="#c20f2d"/>
<circle cx="213.13" cy="476.89" r="2.2" fill="#c20f2d"/>
<circle cx="209.72" cy="475.17" r="2.2" fill="#c20f2d"/>
<circle cx="205.83" cy="478.34" r="2.2" fill="#c20f2d"/>
<circle cx="288.69" cy="437.06" r="2.2" fill="#c20f2d"/>
<circle cx="337.77" cy="439.96" r="2.2" fill="#c20f2d"/>
<circle cx="343.35" cy="437.73" r="2.2" fill="#c20f2d"/>
<circle cx="351.15" cy="441.08" r="2.2" fill="#c20f2d"/>
<circle cx="362.31" cy="445.54" r="2.2" fill="#c20f2d"/>
<circle cx="341.78" cy="448.88" r="2.2" fill="#c20f2d"/>
<circle cx="356.28" cy="454.02" r="2.2" fill="#c20f2d"/>
<circle cx="311.45" cy="457.81" r="2.2" fill="#c20f2d"/>
<circle cx="342.23" cy="462.27" r="2.2" fill="#c20f2d"/>
<circle cx="350.04" cy="461.15" r="2.2" fill="#c20f2d"/>
<circle cx="359.63" cy="463.38" r="2.2" fill="#c20f2d"/>
<circle cx="336.65" cy="465.62" r="2.2" fill="#c20f2d"/>
<circle cx="333.75" cy="469.63" r="2.2" fill="#c20f2d"/>
<circle cx="346.69" cy="468.96" r="2.2" fill="#c20f2d"/>
<circle cx="309.22" cy="468.96" r="2.2" fill="#c20f2d"/>
<circle cx="312.78" cy="474.09" r="2.2" fill="#c20f2d"/>
<circle cx="326.62" cy="472.75" r="2.2" fill="#c20f2d"/>
<circle cx="346.25" cy="475.65" r="2.2" fill="#c20f2d"/>
<circle cx="333.75" cy="480.12" r="2.2" fill="#c20f2d"/>
<circle cx="337.77" cy="480.78" r="2.2" fill="#c20f2d"/>
<circle cx="340.00" cy="483.02" r="2.2" fill="#c20f2d"/>
<circle cx="349.37" cy="482.35" r="2.2" fill="#c20f2d"/>
<circle cx="344.46" cy="485.69" r="2.2" fill="#c20f2d"/>
<circle cx="305.42" cy="480.78" r="2.2" fill="#c20f2d"/>
<circle cx="306.09" cy="484.58" r="2.2" fill="#c20f2d"/>
<circle cx="311.00" cy="483.02" r="2.2" fill="#c20f2d"/>
<circle cx="313.23" cy="479.45" r="2.2" fill="#c20f2d"/>
<circle cx="316.58" cy="483.46" r="2.2" fill="#c20f2d"/>
<circle cx="318.81" cy="484.58" r="2.2" fill="#c20f2d"/>
<circle cx="323.27" cy="483.02" r="2.2" fill="#c20f2d"/>
<circle cx="325.50" cy="486.81" r="2.2" fill="#c20f2d"/>
<circle cx="326.62" cy="477.88" r="2.2" fill="#c20f2d"/>
<circle cx="329.29" cy="484.58" r="2.2" fill="#c20f2d"/>
<circle cx="329.96" cy="487.48" r="2.2" fill="#c20f2d"/>
<circle cx="331.08" cy="492.38" r="2.2" fill="#c20f2d"/>
<circle cx="334.87" cy="495.73" r="2.2" fill="#c20f2d"/>
<circle cx="331.08" cy="499.52" r="2.2" fill="#c20f2d"/>
<circle cx="336.65" cy="503.98" r="2.2" fill="#c20f2d"/>
<circle cx="303.19" cy="489.04" r="2.2" fill="#c20f2d"/>
<circle cx="306.54" cy="487.48" r="2.2" fill="#c20f2d"/>
<circle cx="309.88" cy="489.04" r="2.2" fill="#c20f2d"/>
<circle cx="313.23" cy="487.92" r="2.2" fill="#c20f2d"/>
<circle cx="316.58" cy="487.92" r="2.2" fill="#c20f2d"/>
<circle cx="298.73" cy="491.94" r="2.2" fill="#c20f2d"/>
<circle cx="300.96" cy="492.38" r="2.2" fill="#c20f2d"/>
<circle cx="304.31" cy="492.83" r="2.2" fill="#c20f2d"/>
<circle cx="308.32" cy="491.94" r="2.2" fill="#c20f2d"/>
<circle cx="311.00" cy="491.27" r="2.2" fill="#c20f2d"/>
<circle cx="315.46" cy="493.50" r="2.2" fill="#c20f2d"/>
<circle cx="316.58" cy="496.85" r="2.2" fill="#c20f2d"/>
<circle cx="319.92" cy="493.50" r="2.2" fill="#c20f2d"/>
<circle cx="306.09" cy="497.29" r="2.2" fill="#c20f2d"/>
<circle cx="309.88" cy="500.19" r="2.2" fill="#c20f2d"/>
<circle cx="347.81" cy="519.60" r="2.2" fill="#c20f2d"/>
<circle cx="290.92" cy="514.69" r="2.2" fill="#c20f2d"/>
<circle cx="290.48" cy="516.92" r="2.2" fill="#c20f2d"/>
<circle cx="288.69" cy="456.69" r="2.2" fill="#c20f2d"/>
<circle cx="288.69" cy="458.25" r="2.2" fill="#c20f2d"/>
<circle cx="288.69" cy="459.82" r="2.2" fill="#c20f2d"/>
<circle cx="288.69" cy="461.38" r="2.2" fill="#c20f2d"/>
<circle cx="288.69" cy="462.94" r="2.2" fill="#c20f2d"/>
<circle cx="288.69" cy="464.50" r="2.2" fill="#c20f2d"/>
<circle cx="288.69" cy="466.06" r="2.2" fill="#c20f2d"/>
<circle cx="288.69" cy="467.62" r="2.2" fill="#c20f2d"/>
<circle cx="288.69" cy="469.18" r="2.2" fill="#c20f2d"/>
<circle cx="288.69" cy="470.75" r="2.2" fill="#c20f2d"/>
<circle cx="288.69" cy="472.31" r="2.2" fill="#c20f2d"/>
<circle cx="288.69" cy="473.87" r="2.2" fill="#c20f2d"/>
<circle cx="288.69" cy="475.43" r="2.2" fill="#c20f2d"/>
<circle cx="288.69" cy="476.99" r="2.2" fill="#c20f2d"/>
<circle cx="288.69" cy="478.55" r="2.2" fill="#c20f2d"/>
<circle cx="288.69" cy="480.12" r="2.2" fill="#c20f2d"/>
<circle cx="288.69" cy="481.68" r="2.2" fill="#c20f2d"/>
<circle cx="288.69" cy="483.24" r="2.2" fill="#c20f2d"/>
<circle cx="288.69" cy="484.80" r="2.2" fill="#c20f2d"/>
<circle cx="288.69" cy="486.36" r="2.2" fill="#c20f2d"/>
<circle cx="288.69" cy="487.92" r="2.2" fill="#c20f2d"/>
<circle cx="288.69" cy="489.48" r="2.2" fill="#c20f2d"/>
<circle cx="288.69" cy="491.05" r="2.2" fill="#c20f2d"/>
<circle cx="288.69" cy="492.61" r="2.2" fill="#c20f2d"/>
<circle cx="288.69" cy="494.17" r="2.2" fill="#c20f2d"/>
<circle cx="288.69" cy="495.73" r="2.2" fill="#c20f2d"/>
<circle cx="288.69" cy="497.29" r="2.2" fill="#c20f2d"/>
<circle cx="288.69" cy="498.85" r="2.2" fill="#c20f2d"/>
<circle cx="288.69" cy="500.42" r="2.2" fill="#c20f2d"/>
<circle cx="288.69" cy="501.98" r="2.2" fill="#c20f2d"/>
<circle cx="288.69" cy="503.54" r="2.2" fill="#c20f2d"/>
<circle cx="288.69" cy="505.10" r="2.2" fill="#c20f2d"/>
<circle cx="288.69" cy="506.66" r="2.2" fill="#c20f2d"/>
<circle cx="288.69" cy="508.22" r="2.2" fill="#c20f2d"/>
<circle cx="288.69" cy="509.78" r="2.2" fill="#c20f2d"/>
<circle cx="288.69" cy="511.35" r="2.2" fill="#c20f2d"/>
<circle cx="288.69" cy="512.91" r="2.2" fill="#c20f2d"/>
<circle cx="288.69" cy="514.47" r="2.2" fill="#c20f2d"/>
<circle cx="288.69" cy="516.03" r="2.2" fill="#c20f2d"/>
<circle cx="288.69" cy="517.59" r="2.2" fill="#c20f2d"/>
<circle cx="288.69" cy="519.15" r="2.2" fill="#c20f2d"/>
<circle cx="294.27" cy="519.60" r="2.2" fill="#c20f2d"/>
<circle cx="295.83" cy="519.60" r="2.2" fill="#c20f2d"/>
<circle cx="297.39" cy="519.60" r="2.2" fill="#c20f2d"/>
<circle cx="298.95" cy="519.60" r="2.2" fill="#c20f2d"/>
<circle cx="300.52" cy="519.60" r="2.2" fill="#c20f2d"/>
<circle cx="302.08" cy="519.60" r="2.2" fill="#c20f2d"/>
<circle cx="303.64" cy="519.60" r="2.2" fill="#c20f2d"/>
<circle cx="305.20" cy="519.60" r="2.2" fill="#c20f2d"/>
<circle cx="306.76" cy="519.60" r="2.2" fill="#c20f2d"/>
<circle cx="308.32" cy="519.60" r="2.2" fill="#c20f2d"/>
<circle cx="309.88" cy="519.60" r="2.2" fill="#c20f2d"/>
<circle cx="311.45" cy="519.60" r="2.2" fill="#c20f2d"/>
<circle cx="313.01" cy="519.60" r="2.2" fill="#c20f2d"/>
<circle cx="314.57" cy="519.60" r="2.2" fill="#c20f2d"/>
<circle cx="316.13" cy="519.60" r="2.2" fill="#c20f2d"/>
<circle cx="317.69" cy="519.60" r="2.2" fill="#c20f2d"/>
<circle cx="319.25" cy="519.60" r="2.2" fill="#c20f2d"/>
<circle cx="320.82" cy="519.60" r="2.2" fill="#c20f2d"/>
<circle cx="322.38" cy="519.60" r="2.2" fill="#c20f2d"/>
<circle cx="323.94" cy="519.60" r="2.2" fill="#c20f2d"/>
<circle cx="325.50" cy="519.60" r="2.2" fill="#c20f2d"/>
<circle cx="327.06" cy="519.60" r="2.2" fill="#c20f2d"/>
<circle cx="328.62" cy="519.60" r="2.2" fill="#c20f2d"/>
<circle cx="481.63" cy="485.69" r="2.2" fill="#c20f2d"/>
<circle cx="472.04" cy="486.14" r="2.2" fill="#c20f2d"/>
<circle cx="465.35" cy="487.48" r="2.2" fill="#c20f2d"/>
<circle cx="468.69" cy="491.27" r="2.2" fill="#c20f2d"/>
<circle cx="479.85" cy="489.04" r="2.2" fill="#c20f2d"/>
<circle cx="482.08" cy="491.94" r="2.2" fill="#c20f2d"/>
<circle cx="488.77" cy="491.27" r="2.2" fill="#c20f2d"/>
<circle cx="485.42" cy="495.06" r="2.2" fill="#c20f2d"/>
<circle cx="458.65" cy="489.71" r="2.2" fill="#c20f2d"/>
<circle cx="460.88" cy="491.27" r="2.2" fill="#c20f2d"/>
<circle cx="457.54" cy="493.50" r="2.2" fill="#c20f2d"/>
<circle cx="473.15" cy="497.96" r="2.2" fill="#c20f2d"/>
<circle cx="478.73" cy="503.54" r="2.2" fill="#c20f2d"/>
<circle cx="469.81" cy="509.78" r="2.2" fill="#c20f2d"/>
<circle cx="463.12" cy="502.42" r="2.2" fill="#c20f2d"/>
<circle cx="464.23" cy="505.77" r="2.2" fill="#c20f2d"/>
<circle cx="457.98" cy="512.91" r="2.2" fill="#c20f2d"/>
<circle cx="417.83" cy="505.32" r="2.2" fill="#c20f2d"/>
<circle cx="412.92" cy="509.12" r="2.2" fill="#c20f2d"/>
<circle cx="423.26" cy="507.75" r="2.2" fill="#c20f2d"/>
<circle cx="429.24" cy="509.21" r="2.2" fill="#c20f2d"/>
<circle cx="440.83" cy="496.07" r="2.2" fill="#c20f2d"/>
<circle cx="413.07" cy="514.91" r="2.2" fill="#c20f2d"/>
<circle cx="457.59" cy="505.95" r="2.2" fill="#c20f2d"/>
<circle cx="450.38" cy="506.10" r="2.2" fill="#c20f2d"/>
<circle cx="441.43" cy="498.15" r="2.2" fill="#c20f2d"/>
<circle cx="436.18" cy="512.56" r="2.2" fill="#c20f2d"/>
<circle cx="442.90" cy="496.03" r="2.2" fill="#c20f2d"/>
<circle cx="446.83" cy="508.90" r="2.2" fill="#c20f2d"/>
<circle cx="451.69" cy="506.01" r="2.2" fill="#c20f2d"/>
<circle cx="430.37" cy="514.02" r="2.2" fill="#c20f2d"/>
<circle cx="432.62" cy="517.30" r="2.2" fill="#c20f2d"/>
<circle cx="452.30" cy="496.85" r="2.2" fill="#c20f2d"/>
<circle cx="456.22" cy="505.11" r="2.2" fill="#c20f2d"/>
<circle cx="440.87" cy="501.82" r="2.2" fill="#c20f2d"/>
<circle cx="435.46" cy="503.89" r="2.2" fill="#c20f2d"/>
<circle cx="428.38" cy="508.75" r="2.2" fill="#c20f2d"/>
<circle cx="442.89" cy="498.45" r="2.2" fill="#c20f2d"/>
<circle cx="453.47" cy="508.36" r="2.2" fill="#c20f2d"/>
<circle cx="444.82" cy="499.62" r="2.2" fill="#c20f2d"/>
<circle cx="450.16" cy="508.47" r="2.2" fill="#c20f2d"/>
<circle cx="416.49" cy="514.01" r="2.2" fill="#c20f2d"/>
<circle cx="431.07" cy="498.15" r="2.2" fill="#c20f2d"/>
<circle cx="425.79" cy="513.23" r="2.2" fill="#c20f2d"/>
<circle cx="452.02" cy="495.55" r="2.2" fill="#c20f2d"/>
<circle cx="440.32" cy="495.57" r="2.2" fill="#c20f2d"/>
<circle cx="445.03" cy="502.55" r="2.2" fill="#c20f2d"/>
<circle cx="439.65" cy="495.24" r="2.2" fill="#c20f2d"/>
<circle cx="421.42" cy="504.43" r="2.2" fill="#c20f2d"/>
<circle cx="440.14" cy="498.28" r="2.2" fill="#c20f2d"/>
<circle cx="414.40" cy="515.65" r="2.2" fill="#c20f2d"/>
<circle cx="426.70" cy="517.87" r="2.2" fill="#c20f2d"/>
<circle cx="453.10" cy="503.69" r="2.2" fill="#c20f2d"/>
<circle cx="433.34" cy="507.16" r="2.2" fill="#c20f2d"/>
<circle cx="441.65" cy="509.01" r="2.2" fill="#c20f2d"/>
<circle cx="437.82" cy="509.61" r="2.2" fill="#c20f2d"/>
<circle cx="455.09" cy="506.84" r="2.2" fill="#c20f2d"/>
<circle cx="432.01" cy="512.05" r="2.2" fill="#c20f2d"/>
<circle cx="456.78" cy="507.19" r="2.2" fill="#c20f2d"/>
<circle cx="431.29" cy="508.62" r="2.2" fill="#c20f2d"/>
<circle cx="413.39" cy="509.50" r="2.2" fill="#c20f2d"/>
<circle cx="441.12" cy="495.94" r="2.2" fill="#c20f2d"/>
<circle cx="440.90" cy="505.85" r="2.2" fill="#c20f2d"/>
<circle cx="443.25" cy="503.07" r="2.2" fill="#c20f2d"/>
<circle cx="444.51" cy="512.48" r="2.2" fill="#c20f2d"/>
<circle cx="423.85" cy="505.61" r="2.2" fill="#c20f2d"/>
<circle cx="439.33" cy="502.28" r="2.2" fill="#c20f2d"/>
<circle cx="428.97" cy="502.10" r="2.2" fill="#c20f2d"/>
<circle cx="429.20" cy="509.01" r="2.2" fill="#c20f2d"/>
<circle cx="426.09" cy="503.67" r="2.2" fill="#c20f2d"/>
<circle cx="447.47" cy="495.13" r="2.2" fill="#c20f2d"/>
<circle cx="438.27" cy="512.41" r="2.2" fill="#c20f2d"/>
<circle cx="448.90" cy="500.30" r="2.2" fill="#c20f2d"/>
<circle cx="420.97" cy="505.09" r="2.2" fill="#c20f2d"/>
<circle cx="444.10" cy="496.95" r="2.2" fill="#c20f2d"/>
<circle cx="427.06" cy="502.62" r="2.2" fill="#c20f2d"/>
<circle cx="450.24" cy="505.17" r="2.2" fill="#c20f2d"/>
<circle cx="451.24" cy="498.60" r="2.2" fill="#c20f2d"/>
<circle cx="427.73" cy="510.34" r="2.2" fill="#c20f2d"/>
<circle cx="452.57" cy="505.48" r="2.2" fill="#c20f2d"/>
<circle cx="436.47" cy="499.13" r="2.2" fill="#c20f2d"/>
<circle cx="449.05" cy="510.14" r="2.2" fill="#c20f2d"/>
<circle cx="449.01" cy="502.90" r="2.2" fill="#c20f2d"/>
<circle cx="448.44" cy="501.09" r="2.2" fill="#c20f2d"/>
<circle cx="428.17" cy="504.64" r="2.2" fill="#c20f2d"/>
<circle cx="431.50" cy="504.46" r="2.2" fill="#c20f2d"/>
<circle cx="454.19" cy="498.28" r="2.2" fill="#c20f2d"/>
<circle cx="432.16" cy="517.66" r="2.2" fill="#c20f2d"/>
<circle cx="454.49" cy="499.89" r="2.2" fill="#c20f2d"/>
<circle cx="446.25" cy="514.89" r="2.2" fill="#c20f2d"/>
<circle cx="442.52" cy="507.14" r="2.2" fill="#c20f2d"/>
<circle cx="425.57" cy="502.79" r="2.2" fill="#c20f2d"/>
<circle cx="439.15" cy="501.47" r="2.2" fill="#c20f2d"/>
<circle cx="449.18" cy="495.57" r="2.2" fill="#c20f2d"/>
<circle cx="453.42" cy="511.40" r="2.2" fill="#c20f2d"/>
<circle cx="453.24" cy="508.55" r="2.2" fill="#c20f2d"/>
<circle cx="413.07" cy="512.66" r="2.2" fill="#c20f2d"/>
<circle cx="442.51" cy="507.28" r="2.2" fill="#c20f2d"/>
<circle cx="431.22" cy="517.39" r="2.2" fill="#c20f2d"/>
<circle cx="440.21" cy="502.80" r="2.2" fill="#c20f2d"/>
<circle cx="423.92" cy="515.50" r="2.2" fill="#c20f2d"/>
<circle cx="434.10" cy="513.56" r="2.2" fill="#c20f2d"/>
<circle cx="428.42" cy="499.29" r="2.2" fill="#c20f2d"/>
<circle cx="436.70" cy="514.41" r="2.2" fill="#c20f2d"/>
<circle cx="420.24" cy="513.79" r="2.2" fill="#c20f2d"/>
<circle cx="424.65" cy="507.34" r="2.2" fill="#c20f2d"/>
<circle cx="431.64" cy="506.01" r="2.2" fill="#c20f2d"/>
<circle cx="416.38" cy="506.72" r="2.2" fill="#c20f2d"/>
<circle cx="426.79" cy="502.15" r="2.2" fill="#c20f2d"/>
<circle cx="428.39" cy="510.26" r="2.2" fill="#c20f2d"/>
<circle cx="439.06" cy="503.28" r="2.2" fill="#c20f2d"/>
<circle cx="418.08" cy="508.03" r="2.2" fill="#c20f2d"/>
<circle cx="444.92" cy="503.75" r="2.2" fill="#c20f2d"/>
<circle cx="429.39" cy="509.22" r="2.2" fill="#c20f2d"/>
<circle cx="447.94" cy="503.75" r="2.2" fill="#c20f2d"/>
<circle cx="448.78" cy="509.67" r="2.2" fill="#c20f2d"/>
<circle cx="432.03" cy="503.56" r="2.2" fill="#c20f2d"/>
<circle cx="434.96" cy="511.62" r="2.2" fill="#c20f2d"/>
<circle cx="431.53" cy="511.41" r="2.2" fill="#c20f2d"/>
<circle cx="433.36" cy="500.45" r="2.2" fill="#c20f2d"/>
<circle cx="436.75" cy="511.44" r="2.2" fill="#c20f2d"/>
<circle cx="431.77" cy="515.94" r="2.2" fill="#c20f2d"/>
<circle cx="454.91" cy="503.60" r="2.2" fill="#c20f2d"/>
<circle cx="424.36" cy="505.80" r="2.2" fill="#c20f2d"/>
<circle cx="418.06" cy="514.32" r="2.2" fill="#c20f2d"/>
<circle cx="448.38" cy="510.76" r="2.2" fill="#c20f2d"/>
<circle cx="445.72" cy="508.23" r="2.2" fill="#c20f2d"/>
<circle cx="417.15" cy="508.82" r="2.2" fill="#c20f2d"/>
<circle cx="447.56" cy="495.55" r="2.2" fill="#c20f2d"/>
<circle cx="452.37" cy="498.84" r="2.2" fill="#c20f2d"/>
<circle cx="413.54" cy="515.01" r="2.2" fill="#c20f2d"/>
<circle cx="417.97" cy="515.07" r="2.2" fill="#c20f2d"/>
<circle cx="442.99" cy="514.88" r="2.2" fill="#c20f2d"/>
<circle cx="455.63" cy="508.60" r="2.2" fill="#c20f2d"/>
<circle cx="448.67" cy="495.35" r="2.2" fill="#c20f2d"/>
<circle cx="447.25" cy="506.95" r="2.2" fill="#c20f2d"/>
<circle cx="444.88" cy="497.07" r="2.2" fill="#c20f2d"/>
<circle cx="438.03" cy="514.68" r="2.2" fill="#c20f2d"/>
<circle cx="423.80" cy="509.50" r="2.2" fill="#c20f2d"/>
<circle cx="446.62" cy="504.08" r="2.2" fill="#c20f2d"/>
<circle cx="429.13" cy="504.15" r="2.2" fill="#c20f2d"/>
<circle cx="428.35" cy="504.68" r="2.2" fill="#c20f2d"/>
<circle cx="416.25" cy="506.68" r="2.2" fill="#c20f2d"/>
<circle cx="456.56" cy="504.55" r="2.2" fill="#c20f2d"/>
<circle cx="446.34" cy="498.39" r="2.2" fill="#c20f2d"/>
<circle cx="443.78" cy="512.92" r="2.2" fill="#c20f2d"/>
<circle cx="443.01" cy="507.09" r="2.2" fill="#c20f2d"/>
<circle cx="434.39" cy="510.16" r="2.2" fill="#c20f2d"/>
<circle cx="453.14" cy="498.11" r="2.2" fill="#c20f2d"/>
<circle cx="416.82" cy="512.73" r="2.2" fill="#c20f2d"/>
<circle cx="454.01" cy="507.09" r="2.2" fill="#c20f2d"/>
<circle cx="432.55" cy="512.02" r="2.2" fill="#c20f2d"/>
<circle cx="421.50" cy="508.76" r="2.2" fill="#c20f2d"/>
<circle cx="425.88" cy="511.68" r="2.2" fill="#c20f2d"/>
<circle cx="431.20" cy="515.30" r="2.2" fill="#c20f2d"/>
<circle cx="438.97" cy="500.99" r="2.2" fill="#c20f2d"/>
<circle cx="434.20" cy="503.81" r="2.2" fill="#c20f2d"/>
<circle cx="427.07" cy="513.37" r="2.2" fill="#c20f2d"/>
<circle cx="418.98" cy="518.66" r="2.2" fill="#c20f2d"/>
<circle cx="434.21" cy="509.09" r="2.2" fill="#c20f2d"/>
<circle cx="433.68" cy="514.84" r="2.2" fill="#c20f2d"/>
<circle cx="449.70" cy="508.07" r="2.2" fill="#c20f2d"/>
<circle cx="434.28" cy="512.06" r="2.2" fill="#c20f2d"/>
<circle cx="451.29" cy="504.24" r="2.2" fill="#c20f2d"/>
<circle cx="433.65" cy="500.07" r="2.2" fill="#c20f2d"/>
<circle cx="423.11" cy="511.99" r="2.2" fill="#c20f2d"/>
<circle cx="451.16" cy="500.38" r="2.2" fill="#c20f2d"/>
<circle cx="420.96" cy="511.67" r="2.2" fill="#c20f2d"/>
<circle cx="424.03" cy="515.58" r="2.2" fill="#c20f2d"/>
<circle cx="426.68" cy="504.80" r="2.2" fill="#c20f2d"/>
<circle cx="445.50" cy="496.57" r="2.2" fill="#c20f2d"/>
<circle cx="416.67" cy="514.82" r="2.2" fill="#c20f2d"/>
<circle cx="425.70" cy="503.17" r="2.2" fill="#c20f2d"/>
<circle cx="438.77" cy="510.96" r="2.2" fill="#c20f2d"/>
<circle cx="432.24" cy="506.33" r="2.2" fill="#c20f2d"/>
<circle cx="422.00" cy="508.75" r="2.2" fill="#c20f2d"/>
<circle cx="455.76" cy="504.01" r="2.2" fill="#c20f2d"/>
<circle cx="437.14" cy="497.38" r="2.2" fill="#c20f2d"/>
<circle cx="424.93" cy="510.71" r="2.2" fill="#c20f2d"/>
<circle cx="417.58" cy="516.12" r="2.2" fill="#c20f2d"/>
<circle cx="453.65" cy="496.83" r="2.2" fill="#c20f2d"/>
<circle cx="455.12" cy="503.60" r="2.2" fill="#c20f2d"/>
<circle cx="447.47" cy="512.95" r="2.2" fill="#c20f2d"/>
<circle cx="425.87" cy="510.97" r="2.2" fill="#c20f2d"/>
<circle cx="442.11" cy="514.14" r="2.2" fill="#c20f2d"/>
<circle cx="424.51" cy="512.88" r="2.2" fill="#c20f2d"/>
<circle cx="436.77" cy="497.23" r="2.2" fill="#c20f2d"/>
<circle cx="434.85" cy="503.06" r="2.2" fill="#c20f2d"/>
<circle cx="445.01" cy="511.03" r="2.2" fill="#c20f2d"/>
<circle cx="438.14" cy="498.91" r="2.2" fill="#c20f2d"/>
<circle cx="441.73" cy="509.87" r="2.2" fill="#c20f2d"/>
<circle cx="420.59" cy="516.19" r="2.2" fill="#c20f2d"/>
<circle cx="442.17" cy="497.47" r="2.2" fill="#c20f2d"/>
<circle cx="454.70" cy="497.92" r="2.2" fill="#c20f2d"/>
<circle cx="427.50" cy="512.05" r="2.2" fill="#c20f2d"/>
<circle cx="439.55" cy="508.01" r="2.2" fill="#c20f2d"/>
<circle cx="441.81" cy="505.64" r="2.2" fill="#c20f2d"/>
<circle cx="415.58" cy="511.94" r="2.2" fill="#c20f2d"/>
<circle cx="446.66" cy="507.73" r="2.2" fill="#c20f2d"/>
<circle cx="445.99" cy="503.24" r="2.2" fill="#c20f2d"/>
<circle cx="424.52" cy="503.83" r="2.2" fill="#c20f2d"/>
<circle cx="452.01" cy="495.50" r="2.2" fill="#c20f2d"/>
<circle cx="435.34" cy="500.50" r="2.2" fill="#c20f2d"/>
<circle cx="447.31" cy="503.11" r="2.2" fill="#c20f2d"/>
<circle cx="427.56" cy="504.31" r="2.2" fill="#c20f2d"/>
<circle cx="437.01" cy="513.30" r="2.2" fill="#c20f2d"/>
<circle cx="428.47" cy="515.14" r="2.2" fill="#c20f2d"/>
<circle cx="447.77" cy="512.22" r="2.2" fill="#c20f2d"/>
<circle cx="431.35" cy="512.61" r="2.2" fill="#c20f2d"/>
<circle cx="449.44" cy="512.74" r="2.2" fill="#c20f2d"/>
<circle cx="439.30" cy="498.04" r="2.2" fill="#c20f2d"/>
<circle cx="430.53" cy="499.20" r="2.2" fill="#c20f2d"/>
<circle cx="436.38" cy="508.34" r="2.2" fill="#c20f2d"/>
<circle cx="447.89" cy="495.20" r="2.2" fill="#c20f2d"/>
<circle cx="455.49" cy="503.82" r="2.2" fill="#c20f2d"/>
<circle cx="437.51" cy="508.70" r="2.2" fill="#c20f2d"/>
<circle cx="443.59" cy="501.78" r="2.2" fill="#c20f2d"/>
<circle cx="451.44" cy="506.28" r="2.2" fill="#c20f2d"/>
<circle cx="439.72" cy="512.21" r="2.2" fill="#c20f2d"/>
<circle cx="442.47" cy="506.47" r="2.2" fill="#c20f2d"/>
<circle cx="436.20" cy="505.71" r="2.2" fill="#c20f2d"/>
<circle cx="421.24" cy="507.39" r="2.2" fill="#c20f2d"/>
<circle cx="441.74" cy="505.31" r="2.2" fill="#c20f2d"/>
<circle cx="452.89" cy="497.78" r="2.2" fill="#c20f2d"/>
<circle cx="448.38" cy="509.68" r="2.2" fill="#c20f2d"/>
<circle cx="427.12" cy="515.72" r="2.2" fill="#c20f2d"/>
<circle cx="443.95" cy="497.75" r="2.2" fill="#c20f2d"/>
<circle cx="451.36" cy="509.14" r="2.2" fill="#c20f2d"/>
<circle cx="454.48" cy="511.94" r="2.2" fill="#c20f2d"/>
<circle cx="445.99" cy="502.86" r="2.2" fill="#c20f2d"/>
<circle cx="451.51" cy="505.14" r="2.2" fill="#c20f2d"/>
<circle cx="446.77" cy="506.31" r="2.2" fill="#c20f2d"/>
<circle cx="419.76" cy="506.60" r="2.2" fill="#c20f2d"/>
<circle cx="444.16" cy="507.59" r="2.2" fill="#c20f2d"/>
<circle cx="431.60" cy="510.32" r="2.2" fill="#c20f2d"/>
<circle cx="426.28" cy="505.80" r="2.2" fill="#c20f2d"/>
<circle cx="446.78" cy="504.27" r="2.2" fill="#c20f2d"/>
<circle cx="420.66" cy="516.42" r="2.2" fill="#c20f2d"/>
<circle cx="445.08" cy="503.43" r="2.2" fill="#c20f2d"/>
<circle cx="429.28" cy="507.39" r="2.2" fill="#c20f2d"/>
<circle cx="439.50" cy="499.93" r="2.2" fill="#c20f2d"/>
<circle cx="447.96" cy="497.97" r="2.2" fill="#c20f2d"/>
<circle cx="433.32" cy="499.24" r="2.2" fill="#c20f2d"/>
<circle cx="430.77" cy="498.58" r="2.2" fill="#c20f2d"/>
<circle cx="420.10" cy="506.44" r="2.2" fill="#c20f2d"/>
<circle cx="432.78" cy="504.42" r="2.2" fill="#c20f2d"/>
<circle cx="444.35" cy="495.72" r="2.2" fill="#c20f2d"/>
<circle cx="430.75" cy="504.15" r="2.2" fill="#c20f2d"/>
<circle cx="413.68" cy="518.04" r="2.2" fill="#c20f2d"/>
<circle cx="433.98" cy="498.49" r="2.2" fill="#c20f2d"/>
<circle cx="440.68" cy="502.92" r="2.2" fill="#c20f2d"/>
<circle cx="445.45" cy="501.18" r="2.2" fill="#c20f2d"/>
<circle cx="448.17" cy="505.83" r="2.2" fill="#c20f2d"/>
<circle cx="454.75" cy="501.80" r="2.2" fill="#c20f2d"/>
<circle cx="449.39" cy="509.82" r="2.2" fill="#c20f2d"/>
<circle cx="414.92" cy="510.44" r="2.2" fill="#c20f2d"/>
<circle cx="453.27" cy="499.37" r="2.2" fill="#c20f2d"/>
<circle cx="456.60" cy="506.11" r="2.2" fill="#c20f2d"/>
<circle cx="426.28" cy="509.28" r="2.2" fill="#c20f2d"/>
<circle cx="425.77" cy="515.21" r="2.2" fill="#c20f2d"/>
<circle cx="427.62" cy="511.07" r="2.2" fill="#c20f2d"/>
<circle cx="454.55" cy="498.73" r="2.2" fill="#c20f2d"/>
<circle cx="446.00" cy="512.38" r="2.2" fill="#c20f2d"/>
<circle cx="450.34" cy="507.97" r="2.2" fill="#c20f2d"/>
<circle cx="454.32" cy="503.32" r="2.2" fill="#c20f2d"/>
<circle cx="431.27" cy="500.07" r="2.2" fill="#c20f2d"/>
<circle cx="447.79" cy="506.20" r="2.2" fill="#c20f2d"/>
<circle cx="445.13" cy="509.25" r="2.2" fill="#c20f2d"/>
<circle cx="444.67" cy="503.91" r="2.2" fill="#c20f2d"/>
<circle cx="434.55" cy="498.23" r="2.2" fill="#c20f2d"/>
<circle cx="444.68" cy="495.03" r="2.2" fill="#c20f2d"/>
<circle cx="433.63" cy="512.98" r="2.2" fill="#c20f2d"/>
<circle cx="443.17" cy="496.84" r="2.2" fill="#c20f2d"/>
<circle cx="423.22" cy="515.06" r="2.2" fill="#c20f2d"/>
<circle cx="452.00" cy="505.45" r="2.2" fill="#c20f2d"/>
<circle cx="453.11" cy="512.36" r="2.2" fill="#c20f2d"/>
<circle cx="427.60" cy="503.50" r="2.2" fill="#c20f2d"/>
<circle cx="438.25" cy="497.16" r="2.2" fill="#c20f2d"/>
<circle cx="416.14" cy="510.31" r="2.2" fill="#c20f2d"/>
<circle cx="137.50" cy="547.25" r="2.2" fill="#c20f2d"/>
<circle cx="139.73" cy="551.71" r="2.2" fill="#c20f2d"/>
<circle cx="138.62" cy="554.83" r="2.2" fill="#c20f2d"/>
<circle cx="139.73" cy="556.62" r="2.2" fill="#c20f2d"/>
<circle cx="125.23" cy="553.27" r="2.2" fill="#c20f2d"/>
<circle cx="126.35" cy="555.50" r="2.2" fill="#c20f2d"/>
<circle cx="131.92" cy="551.71" r="2.2" fill="#c20f2d"/>
<circle cx="134.15" cy="551.71" r="2.2" fill="#c20f2d"/>
<circle cx="92.22" cy="579.37" r="2.2" fill="#c20f2d"/>
<circle cx="83.29" cy="582.27" r="2.2" fill="#c20f2d"/>
<circle cx="77.94" cy="584.50" r="2.2" fill="#c20f2d"/>
<circle cx="69.02" cy="589.63" r="2.2" fill="#c20f2d"/>
<circle cx="84.63" cy="587.40" r="2.2" fill="#c20f2d"/>
<circle cx="89.54" cy="586.73" r="2.2" fill="#c20f2d"/>
<circle cx="93.55" cy="589.63" r="2.2" fill="#c20f2d"/>
<circle cx="48.72" cy="593.87" r="2.2" fill="#c20f2d"/>
<circle cx="99.13" cy="593.87" r="2.2" fill="#c20f2d"/>
<circle cx="109.62" cy="593.87" r="2.2" fill="#c20f2d"/>
<circle cx="59.42" cy="617.96" r="2.2" fill="#c20f2d"/>
<circle cx="63.88" cy="617.96" r="2.2" fill="#c20f2d"/>
<circle cx="67.23" cy="622.42" r="2.2" fill="#c20f2d"/>
<circle cx="59.42" cy="626.88" r="2.2" fill="#c20f2d"/>
<circle cx="69.02" cy="623.98" r="2.2" fill="#c20f2d"/>
<circle cx="63.88" cy="606.81" r="2.2" fill="#c20f2d"/>
<circle cx="87.75" cy="614.62" r="2.2" fill="#c20f2d"/>
<circle cx="92.88" cy="611.94" r="2.2" fill="#c20f2d"/>
<circle cx="95.12" cy="610.15" r="2.2" fill="#c20f2d"/>
<circle cx="96.23" cy="601.23" r="2.2" fill="#c20f2d"/>
<circle cx="42.69" cy="640.27" r="2.2" fill="#c20f2d"/>
<circle cx="44.92" cy="640.27" r="2.2" fill="#c20f2d"/>
<circle cx="47.15" cy="639.82" r="2.2" fill="#c20f2d"/>
<circle cx="48.94" cy="639.15" r="2.2" fill="#c20f2d"/>
<circle cx="49.83" cy="640.94" r="2.2" fill="#c20f2d"/>
<circle cx="76.19" cy="610.30" r="2.2" fill="#c20f2d"/>
<circle cx="69.81" cy="606.44" r="2.2" fill="#c20f2d"/>
<circle cx="79.52" cy="611.76" r="2.2" fill="#c20f2d"/>
<circle cx="84.70" cy="596.45" r="2.2" fill="#c20f2d"/>
<circle cx="68.93" cy="610.62" r="2.2" fill="#c20f2d"/>
<circle cx="68.72" cy="617.66" r="2.2" fill="#c20f2d"/>
<circle cx="67.29" cy="607.56" r="2.2" fill="#c20f2d"/>
<circle cx="89.09" cy="594.51" r="2.2" fill="#c20f2d"/>
<circle cx="81.01" cy="597.51" r="2.2" fill="#c20f2d"/>
<circle cx="67.28" cy="609.80" r="2.2" fill="#c20f2d"/>
<circle cx="85.91" cy="599.07" r="2.2" fill="#c20f2d"/>
<circle cx="74.33" cy="606.78" r="2.2" fill="#c20f2d"/>
<circle cx="65.23" cy="611.71" r="2.2" fill="#c20f2d"/>
<circle cx="73.12" cy="608.40" r="2.2" fill="#c20f2d"/>
<circle cx="80.08" cy="605.55" r="2.2" fill="#c20f2d"/>
<circle cx="86.45" cy="593.65" r="2.2" fill="#c20f2d"/>
<circle cx="66.52" cy="611.77" r="2.2" fill="#c20f2d"/>
<circle cx="72.83" cy="612.31" r="2.2" fill="#c20f2d"/>
<circle cx="76.84" cy="602.89" r="2.2" fill="#c20f2d"/>
<circle cx="71.60" cy="617.42" r="2.2" fill="#c20f2d"/>
<circle cx="84.19" cy="603.17" r="2.2" fill="#c20f2d"/>
<circle cx="88.91" cy="604.20" r="2.2" fill="#c20f2d"/>
<circle cx="81.03" cy="607.78" r="2.2" fill="#c20f2d"/>
<circle cx="79.67" cy="604.54" r="2.2" fill="#c20f2d"/>
<circle cx="71.48" cy="605.95" r="2.2" fill="#c20f2d"/>
<circle cx="79.12" cy="604.17" r="2.2" fill="#c20f2d"/>
<circle cx="70.79" cy="614.73" r="2.2" fill="#c20f2d"/>
<circle cx="73.28" cy="613.04" r="2.2" fill="#c20f2d"/>
<circle cx="73.25" cy="609.45" r="2.2" fill="#c20f2d"/>
<circle cx="87.05" cy="593.48" r="2.2" fill="#c20f2d"/>
<circle cx="78.37" cy="601.46" r="2.2" fill="#c20f2d"/>
<circle cx="83.28" cy="609.55" r="2.2" fill="#c20f2d"/>
<circle cx="84.57" cy="610.61" r="2.2" fill="#c20f2d"/>
<circle cx="76.54" cy="606.20" r="2.2" fill="#c20f2d"/>
<circle cx="83.36" cy="601.13" r="2.2" fill="#c20f2d"/>
<circle cx="81.68" cy="597.83" r="2.2" fill="#c20f2d"/>
<circle cx="65.72" cy="615.22" r="2.2" fill="#c20f2d"/>
<circle cx="84.26" cy="604.64" r="2.2" fill="#c20f2d"/>
<circle cx="92.40" cy="597.04" r="2.2" fill="#c20f2d"/>
<circle cx="79.20" cy="601.29" r="2.2" fill="#c20f2d"/>
<circle cx="76.49" cy="602.46" r="2.2" fill="#c20f2d"/>
<circle cx="69.35" cy="614.51" r="2.2" fill="#c20f2d"/>
<circle cx="80.79" cy="599.02" r="2.2" fill="#c20f2d"/>
<circle cx="86.20" cy="599.23" r="2.2" fill="#c20f2d"/>
<circle cx="78.43" cy="613.56" r="2.2" fill="#c20f2d"/>
<circle cx="76.71" cy="611.03" r="2.2" fill="#c20f2d"/>
<circle cx="68.46" cy="613.38" r="2.2" fill="#c20f2d"/>
<circle cx="81.47" cy="608.38" r="2.2" fill="#c20f2d"/>
<circle cx="69.15" cy="606.19" r="2.2" fill="#c20f2d"/>
<circle cx="89.23" cy="602.36" r="2.2" fill="#c20f2d"/>
<circle cx="86.07" cy="607.86" r="2.2" fill="#c20f2d"/>
<circle cx="76.14" cy="606.45" r="2.2" fill="#c20f2d"/>
<circle cx="75.23" cy="599.91" r="2.2" fill="#c20f2d"/>
<circle cx="74.21" cy="601.27" r="2.2" fill="#c20f2d"/>
<circle cx="86.26" cy="591.41" r="2.2" fill="#c20f2d"/>
<circle cx="72.75" cy="599.57" r="2.2" fill="#c20f2d"/>
<circle cx="69.83" cy="612.87" r="2.2" fill="#c20f2d"/>
<circle cx="80.62" cy="595.11" r="2.2" fill="#c20f2d"/>
<circle cx="88.08" cy="600.15" r="2.2" fill="#c20f2d"/>
<circle cx="89.36" cy="606.31" r="2.2" fill="#c20f2d"/>
<circle cx="73.36" cy="598.81" r="2.2" fill="#c20f2d"/>
<circle cx="66.54" cy="611.07" r="2.2" fill="#c20f2d"/>
<circle cx="86.25" cy="603.91" r="2.2" fill="#c20f2d"/>
<circle cx="86.91" cy="599.26" r="2.2" fill="#c20f2d"/>
<circle cx="79.46" cy="613.77" r="2.2" fill="#c20f2d"/>
<circle cx="78.49" cy="601.57" r="2.2" fill="#c20f2d"/>
<circle cx="83.73" cy="594.09" r="2.2" fill="#c20f2d"/>
<circle cx="88.68" cy="594.29" r="2.2" fill="#c20f2d"/>
<circle cx="88.66" cy="598.37" r="2.2" fill="#c20f2d"/>
<circle cx="85.79" cy="591.92" r="2.2" fill="#c20f2d"/>
<circle cx="83.16" cy="598.20" r="2.2" fill="#c20f2d"/>
<circle cx="84.80" cy="591.06" r="2.2" fill="#c20f2d"/>
<circle cx="88.03" cy="591.50" r="2.2" fill="#c20f2d"/>
<circle cx="85.06" cy="589.02" r="2.2" fill="#c20f2d"/>
<circle cx="81.08" cy="594.64" r="2.2" fill="#c20f2d"/>
<circle cx="79.84" cy="595.21" r="2.2" fill="#c20f2d"/>
<circle cx="89.94" cy="592.53" r="2.2" fill="#c20f2d"/>
<circle cx="81.79" cy="597.44" r="2.2" fill="#c20f2d"/>
<circle cx="90.27" cy="591.36" r="2.2" fill="#c20f2d"/>
<circle cx="81.95" cy="595.63" r="2.2" fill="#c20f2d"/>
<circle cx="86.56" cy="588.54" r="2.2" fill="#c20f2d"/>
<circle cx="77.26" cy="600.46" r="2.2" fill="#c20f2d"/>
<circle cx="78.50" cy="602.51" r="2.2" fill="#c20f2d"/>
<circle cx="86.36" cy="598.87" r="2.2" fill="#c20f2d"/>
<circle cx="88.08" cy="592.19" r="2.2" fill="#c20f2d"/>
<circle cx="86.64" cy="600.12" r="2.2" fill="#c20f2d"/>
<circle cx="76.24" cy="599.40" r="2.2" fill="#c20f2d"/>
<circle cx="221.46" cy="551.04" r="2.2" fill="#c20f2d"/>
<circle cx="223.69" cy="553.94" r="2.2" fill="#c20f2d"/>
<circle cx="227.04" cy="551.71" r="2.2" fill="#c20f2d"/>
<circle cx="233.73" cy="549.92" r="2.2" fill="#c20f2d"/>
<circle cx="234.40" cy="552.60" r="2.2" fill="#c20f2d"/>
<circle cx="239.75" cy="548.14" r="2.2" fill="#c20f2d"/>
<circle cx="239.75" cy="554.38" r="2.2" fill="#c20f2d"/>
<circle cx="243.77" cy="553.27" r="2.2" fill="#c20f2d"/>
<circle cx="244.88" cy="556.17" r="2.2" fill="#c20f2d"/>
<circle cx="247.12" cy="547.69" r="2.2" fill="#c20f2d"/>
<circle cx="249.35" cy="547.25" r="2.2" fill="#c20f2d"/>
<circle cx="250.46" cy="552.15" r="2.2" fill="#c20f2d"/>
<circle cx="252.69" cy="551.04" r="2.2" fill="#c20f2d"/>
<circle cx="254.92" cy="547.69" r="2.2" fill="#c20f2d"/>
<circle cx="256.04" cy="549.92" r="2.2" fill="#c20f2d"/>
<circle cx="257.15" cy="554.38" r="2.2" fill="#c20f2d"/>
<circle cx="258.94" cy="556.17" r="2.2" fill="#c20f2d"/>
<circle cx="261.17" cy="547.25" r="2.2" fill="#c20f2d"/>
<circle cx="264.29" cy="552.15" r="2.2" fill="#c20f2d"/>
<circle cx="229.94" cy="557.73" r="2.2" fill="#c20f2d"/>
<circle cx="232.62" cy="560.63" r="2.2" fill="#c20f2d"/>
<circle cx="235.96" cy="562.86" r="2.2" fill="#c20f2d"/>
<circle cx="218.12" cy="565.98" r="2.2" fill="#c20f2d"/>
<circle cx="191.35" cy="582.27" r="2.2" fill="#c20f2d"/>
<circle cx="205.85" cy="583.83" r="2.2" fill="#c20f2d"/>
<circle cx="209.19" cy="585.62" r="2.2" fill="#c20f2d"/>
<circle cx="216.55" cy="588.29" r="2.2" fill="#c20f2d"/>
<circle cx="220.35" cy="587.85" r="2.2" fill="#c20f2d"/>
<circle cx="223.69" cy="591.19" r="2.2" fill="#c20f2d"/>
<circle cx="223.69" cy="600.78" r="2.2" fill="#c20f2d"/>
<circle cx="176.85" cy="597.88" r="2.2" fill="#c20f2d"/>
<circle cx="184.65" cy="595.65" r="2.2" fill="#c20f2d"/>
<circle cx="164.58" cy="611.94" r="2.2" fill="#c20f2d"/>
<circle cx="176.85" cy="613.50" r="2.2" fill="#c20f2d"/>
<circle cx="182.42" cy="612.38" r="2.2" fill="#c20f2d"/>
<circle cx="183.54" cy="617.96" r="2.2" fill="#c20f2d"/>
<circle cx="180.19" cy="619.08" r="2.2" fill="#c20f2d"/>
<circle cx="188.00" cy="616.85" r="2.2" fill="#c20f2d"/>
<circle cx="191.35" cy="616.85" r="2.2" fill="#c20f2d"/>
<circle cx="195.81" cy="612.38" r="2.2" fill="#c20f2d"/>
<circle cx="202.50" cy="611.94" r="2.2" fill="#c20f2d"/>
<circle cx="201.38" cy="605.69" r="2.2" fill="#c20f2d"/>
<circle cx="208.08" cy="605.69" r="2.2" fill="#c20f2d"/>
<circle cx="216.55" cy="606.14" r="2.2" fill="#c20f2d"/>
<circle cx="218.12" cy="603.46" r="2.2" fill="#c20f2d"/>
<circle cx="202.53" cy="595.87" r="2.2" fill="#c20f2d"/>
<circle cx="203.91" cy="594.32" r="2.2" fill="#c20f2d"/>
<circle cx="211.68" cy="588.67" r="2.2" fill="#c20f2d"/>
<circle cx="201.83" cy="601.89" r="2.2" fill="#c20f2d"/>
<circle cx="207.08" cy="603.68" r="2.2" fill="#c20f2d"/>
<circle cx="195.54" cy="595.29" r="2.2" fill="#c20f2d"/>
<circle cx="195.30" cy="591.04" r="2.2" fill="#c20f2d"/>
<circle cx="189.48" cy="599.33" r="2.2" fill="#c20f2d"/>
<circle cx="196.54" cy="599.34" r="2.2" fill="#c20f2d"/>
<circle cx="210.52" cy="592.14" r="2.2" fill="#c20f2d"/>
<circle cx="200.23" cy="604.75" r="2.2" fill="#c20f2d"/>
<circle cx="195.37" cy="604.19" r="2.2" fill="#c20f2d"/>
<circle cx="194.50" cy="597.19" r="2.2" fill="#c20f2d"/>
<circle cx="205.76" cy="604.94" r="2.2" fill="#c20f2d"/>
<circle cx="210.73" cy="601.78" r="2.2" fill="#c20f2d"/>
<circle cx="197.38" cy="594.81" r="2.2" fill="#c20f2d"/>
<circle cx="214.16" cy="596.33" r="2.2" fill="#c20f2d"/>
<circle cx="207.94" cy="588.16" r="2.2" fill="#c20f2d"/>
<circle cx="188.79" cy="597.81" r="2.2" fill="#c20f2d"/>
<circle cx="195.81" cy="593.50" r="2.2" fill="#c20f2d"/>
<circle cx="192.72" cy="590.89" r="2.2" fill="#c20f2d"/>
<circle cx="191.90" cy="592.63" r="2.2" fill="#c20f2d"/>
<circle cx="209.00" cy="593.37" r="2.2" fill="#c20f2d"/>
<circle cx="202.39" cy="589.81" r="2.2" fill="#c20f2d"/>
<circle cx="212.85" cy="592.69" r="2.2" fill="#c20f2d"/>
<circle cx="194.79" cy="599.71" r="2.2" fill="#c20f2d"/>
<circle cx="195.52" cy="605.67" r="2.2" fill="#c20f2d"/>
<circle cx="198.73" cy="589.75" r="2.2" fill="#c20f2d"/>
<circle cx="199.26" cy="591.55" r="2.2" fill="#c20f2d"/>
<circle cx="211.62" cy="599.68" r="2.2" fill="#c20f2d"/>
<circle cx="207.91" cy="593.03" r="2.2" fill="#c20f2d"/>
<circle cx="196.20" cy="599.30" r="2.2" fill="#c20f2d"/>
<circle cx="211.43" cy="594.63" r="2.2" fill="#c20f2d"/>
<circle cx="202.61" cy="594.63" r="2.2" fill="#c20f2d"/>
<circle cx="211.81" cy="593.30" r="2.2" fill="#c20f2d"/>
<circle cx="195.51" cy="601.52" r="2.2" fill="#c20f2d"/>
<circle cx="204.11" cy="598.22" r="2.2" fill="#c20f2d"/>
<circle cx="208.82" cy="596.01" r="2.2" fill="#c20f2d"/>
<circle cx="211.56" cy="590.52" r="2.2" fill="#c20f2d"/>
<circle cx="207.45" cy="592.17" r="2.2" fill="#c20f2d"/>
<circle cx="194.32" cy="601.71" r="2.2" fill="#c20f2d"/>
<circle cx="199.15" cy="602.87" r="2.2" fill="#c20f2d"/>
<circle cx="194.57" cy="603.76" r="2.2" fill="#c20f2d"/>
<circle cx="195.01" cy="602.40" r="2.2" fill="#c20f2d"/>
<circle cx="208.97" cy="588.18" r="2.2" fill="#c20f2d"/>
<circle cx="200.03" cy="603.80" r="2.2" fill="#c20f2d"/>
<circle cx="202.01" cy="595.57" r="2.2" fill="#c20f2d"/>
<circle cx="203.65" cy="599.67" r="2.2" fill="#c20f2d"/>
<circle cx="207.20" cy="600.29" r="2.2" fill="#c20f2d"/>
<circle cx="212.66" cy="590.02" r="2.2" fill="#c20f2d"/>
<circle cx="208.49" cy="595.16" r="2.2" fill="#c20f2d"/>
<circle cx="195.39" cy="591.81" r="2.2" fill="#c20f2d"/>
<circle cx="208.13" cy="589.84" r="2.2" fill="#c20f2d"/>
<circle cx="191.85" cy="596.37" r="2.2" fill="#c20f2d"/>
<circle cx="200.12" cy="596.09" r="2.2" fill="#c20f2d"/>
<circle cx="191.10" cy="604.43" r="2.2" fill="#c20f2d"/>
<circle cx="210.19" cy="594.61" r="2.2" fill="#c20f2d"/>
<circle cx="197.51" cy="604.16" r="2.2" fill="#c20f2d"/>
<circle cx="209.30" cy="590.77" r="2.2" fill="#c20f2d"/>
<circle cx="214.57" cy="597.27" r="2.2" fill="#c20f2d"/>
<circle cx="164.58" cy="624.65" r="2.2" fill="#c20f2d"/>
<circle cx="163.91" cy="626.88" r="2.2" fill="#c20f2d"/>
<circle cx="176.85" cy="625.32" r="2.2" fill="#c20f2d"/>
<circle cx="183.09" cy="629.12" r="2.2" fill="#c20f2d"/>
<circle cx="188.00" cy="631.35" r="2.2" fill="#c20f2d"/>
<circle cx="191.35" cy="633.58" r="2.2" fill="#c20f2d"/>
<circle cx="198.04" cy="629.78" r="2.2" fill="#c20f2d"/>
<circle cx="200.27" cy="630.23" r="2.2" fill="#c20f2d"/>
<circle cx="198.04" cy="636.92" r="2.2" fill="#c20f2d"/>
<circle cx="199.15" cy="639.15" r="2.2" fill="#c20f2d"/>
<circle cx="192.91" cy="639.15" r="2.2" fill="#c20f2d"/>
<circle cx="209.19" cy="640.72" r="2.2" fill="#c20f2d"/>
<circle cx="172.38" cy="633.58" r="2.2" fill="#c20f2d"/>
<circle cx="166.63" cy="635.25" r="2.2" fill="#c20f2d"/>
<circle cx="175.64" cy="640.59" r="2.2" fill="#c20f2d"/>
<circle cx="183.30" cy="638.60" r="2.2" fill="#c20f2d"/>
<circle cx="170.69" cy="639.17" r="2.2" fill="#c20f2d"/>
<circle cx="166.12" cy="630.74" r="2.2" fill="#c20f2d"/>
<circle cx="171.15" cy="633.68" r="2.2" fill="#c20f2d"/>
<circle cx="175.29" cy="635.19" r="2.2" fill="#c20f2d"/>
<circle cx="171.94" cy="633.17" r="2.2" fill="#c20f2d"/>
<circle cx="176.48" cy="636.03" r="2.2" fill="#c20f2d"/>
<circle cx="180.89" cy="634.71" r="2.2" fill="#c20f2d"/>
<circle cx="172.62" cy="636.99" r="2.2" fill="#c20f2d"/>
<circle cx="185.67" cy="637.17" r="2.2" fill="#c20f2d"/>
<circle cx="163.68" cy="633.12" r="2.2" fill="#c20f2d"/>
<circle cx="187.09" cy="640.53" r="2.2" fill="#c20f2d"/>
<circle cx="170.47" cy="632.16" r="2.2" fill="#c20f2d"/>
<circle cx="163.14" cy="631.16" r="2.2" fill="#c20f2d"/>
<circle cx="164.82" cy="640.74" r="2.2" fill="#c20f2d"/>
<circle cx="163.68" cy="640.00" r="2.2" fill="#c20f2d"/>
<circle cx="178.52" cy="639.87" r="2.2" fill="#c20f2d"/>
<circle cx="170.53" cy="639.38" r="2.2" fill="#c20f2d"/>
<circle cx="183.11" cy="637.28" r="2.2" fill="#c20f2d"/>
<circle cx="179.75" cy="637.61" r="2.2" fill="#c20f2d"/>
<circle cx="174.52" cy="640.42" r="2.2" fill="#c20f2d"/>
<circle cx="165.51" cy="634.33" r="2.2" fill="#c20f2d"/>
<circle cx="172.26" cy="635.18" r="2.2" fill="#c20f2d"/>
<circle cx="173.37" cy="634.76" r="2.2" fill="#c20f2d"/>
<circle cx="172.43" cy="636.61" r="2.2" fill="#c20f2d"/>
<circle cx="180.46" cy="636.77" r="2.2" fill="#c20f2d"/>
<circle cx="175.64" cy="633.87" r="2.2" fill="#c20f2d"/>
<circle cx="187.72" cy="638.87" r="2.2" fill="#c20f2d"/>
<circle cx="172.75" cy="637.53" r="2.2" fill="#c20f2d"/>
<circle cx="167.74" cy="634.56" r="2.2" fill="#c20f2d"/>
<circle cx="184.05" cy="639.69" r="2.2" fill="#c20f2d"/>
<circle cx="169.99" cy="631.59" r="2.2" fill="#c20f2d"/>
<circle cx="169.44" cy="637.77" r="2.2" fill="#c20f2d"/>
<circle cx="168.49" cy="638.04" r="2.2" fill="#c20f2d"/>
<circle cx="180.34" cy="637.57" r="2.2" fill="#c20f2d"/>
<circle cx="178.52" cy="637.08" r="2.2" fill="#c20f2d"/>
<circle cx="170.24" cy="631.34" r="2.2" fill="#c20f2d"/>
<circle cx="185.85" cy="638.73" r="2.2" fill="#c20f2d"/>
<circle cx="172.75" cy="635.18" r="2.2" fill="#c20f2d"/>
<circle cx="170.21" cy="632.36" r="2.2" fill="#c20f2d"/>
<circle cx="168.19" cy="640.64" r="2.2" fill="#c20f2d"/>
<circle cx="171.92" cy="636.35" r="2.2" fill="#c20f2d"/>
<circle cx="178.47" cy="637.45" r="2.2" fill="#c20f2d"/>
<circle cx="389.08" cy="553.27" r="2.2" fill="#c20f2d"/>
<circle cx="336.65" cy="558.40" r="2.2" fill="#c20f2d"/>
<circle cx="333.75" cy="562.86" r="2.2" fill="#c20f2d"/>
<circle cx="322.82" cy="585.62" r="2.2" fill="#c20f2d"/>
<circle cx="322.60" cy="587.85" r="2.2" fill="#c20f2d"/>
<circle cx="332.19" cy="587.40" r="2.2" fill="#c20f2d"/>
<circle cx="331.52" cy="588.96" r="2.2" fill="#c20f2d"/>
<circle cx="337.77" cy="588.29" r="2.2" fill="#c20f2d"/>
<circle cx="342.68" cy="587.40" r="2.2" fill="#c20f2d"/>
<circle cx="343.35" cy="590.52" r="2.2" fill="#c20f2d"/>
<circle cx="315.02" cy="596.32" r="2.2" fill="#c20f2d"/>
<circle cx="322.15" cy="591.86" r="2.2" fill="#c20f2d"/>
<circle cx="327.73" cy="593.42" r="2.2" fill="#c20f2d"/>
<circle cx="329.96" cy="592.75" r="2.2" fill="#c20f2d"/>
<circle cx="335.54" cy="592.31" r="2.2" fill="#c20f2d"/>
<circle cx="338.88" cy="592.31" r="2.2" fill="#c20f2d"/>
<circle cx="341.12" cy="594.09" r="2.2" fill="#c20f2d"/>
<circle cx="344.46" cy="593.42" r="2.2" fill="#c20f2d"/>
<circle cx="345.58" cy="597.88" r="2.2" fill="#c20f2d"/>
<circle cx="347.81" cy="599.00" r="2.2" fill="#c20f2d"/>
<circle cx="357.40" cy="594.09" r="2.2" fill="#c20f2d"/>
<circle cx="322.15" cy="599.45" r="2.2" fill="#c20f2d"/>
<circle cx="327.73" cy="597.88" r="2.2" fill="#c20f2d"/>
<circle cx="331.08" cy="599.00" r="2.2" fill="#c20f2d"/>
<circle cx="335.54" cy="597.88" r="2.2" fill="#c20f2d"/>
<circle cx="337.77" cy="600.12" r="2.2" fill="#c20f2d"/>
<circle cx="342.23" cy="601.23" r="2.2" fill="#c20f2d"/>
<circle cx="326.62" cy="601.23" r="2.2" fill="#c20f2d"/>
<circle cx="329.96" cy="602.35" r="2.2" fill="#c20f2d"/>
<circle cx="333.31" cy="603.46" r="2.2" fill="#c20f2d"/>
<circle cx="336.65" cy="604.58" r="2.2" fill="#c20f2d"/>
<circle cx="341.12" cy="604.58" r="2.2" fill="#c20f2d"/>
<circle cx="343.35" cy="606.14" r="2.2" fill="#c20f2d"/>
<circle cx="347.81" cy="606.14" r="2.2" fill="#c20f2d"/>
<circle cx="319.48" cy="605.69" r="2.2" fill="#c20f2d"/>
<circle cx="321.04" cy="607.92" r="2.2" fill="#c20f2d"/>
<circle cx="324.38" cy="606.81" r="2.2" fill="#c20f2d"/>
<circle cx="328.85" cy="605.69" r="2.2" fill="#c20f2d"/>
<circle cx="332.19" cy="606.81" r="2.2" fill="#c20f2d"/>
<circle cx="334.42" cy="607.92" r="2.2" fill="#c20f2d"/>
<circle cx="337.77" cy="607.92" r="2.2" fill="#c20f2d"/>
<circle cx="328.85" cy="612.38" r="2.2" fill="#c20f2d"/>
<circle cx="333.75" cy="610.60" r="2.2" fill="#c20f2d"/>
<circle cx="323.27" cy="609.04" r="2.2" fill="#c20f2d"/>
<circle cx="287.13" cy="596.77" r="2.2" fill="#c20f2d"/>
<circle cx="287.13" cy="598.55" r="2.2" fill="#c20f2d"/>
<circle cx="287.13" cy="603.46" r="2.2" fill="#c20f2d"/>
<circle cx="287.13" cy="607.48" r="2.2" fill="#c20f2d"/>
<circle cx="287.13" cy="621.75" r="2.2" fill="#c20f2d"/>
<circle cx="287.13" cy="623.98" r="2.2" fill="#c20f2d"/>
<circle cx="287.13" cy="625.77" r="2.2" fill="#c20f2d"/>
<circle cx="287.13" cy="628.00" r="2.2" fill="#c20f2d"/>
<circle cx="287.13" cy="630.23" r="2.2" fill="#c20f2d"/>
<circle cx="287.13" cy="632.46" r="2.2" fill="#c20f2d"/>
<circle cx="287.58" cy="634.69" r="2.2" fill="#c20f2d"/>
<circle cx="288.69" cy="636.92" r="2.2" fill="#c20f2d"/>
<circle cx="290.92" cy="639.15" r="2.2" fill="#c20f2d"/>
<circle cx="290.48" cy="629.12" r="2.2" fill="#c20f2d"/>
<circle cx="324.38" cy="640.27" r="2.2" fill="#c20f2d"/>
<circle cx="327.73" cy="640.27" r="2.2" fill="#c20f2d"/>
<circle cx="333.75" cy="640.27" r="2.2" fill="#c20f2d"/>
<circle cx="336.65" cy="640.27" r="2.2" fill="#c20f2d"/>
<circle cx="338.88" cy="640.27" r="2.2" fill="#c20f2d"/>
<circle cx="350.04" cy="640.27" r="2.2" fill="#c20f2d"/>
<circle cx="504.83" cy="547.25" r="2.2" fill="#c20f2d"/>
<circle cx="507.06" cy="546.58" r="2.2" fill="#c20f2d"/>
<circle cx="508.85" cy="547.69" r="2.2" fill="#c20f2d"/>
<circle cx="512.86" cy="547.25" r="2.2" fill="#c20f2d"/>
<circle cx="506.17" cy="550.37" r="2.2" fill="#c20f2d"/>
<circle cx="504.83" cy="553.27" r="2.2" fill="#c20f2d"/>
<circle cx="503.94" cy="554.83" r="2.2" fill="#c20f2d"/>
<circle cx="459.77" cy="570.45" r="2.2" fill="#c20f2d"/>
<circle cx="471.37" cy="570.00" r="2.2" fill="#c20f2d"/>
<circle cx="428.98" cy="574.02" r="2.2" fill="#c20f2d"/>
<circle cx="417.38" cy="584.50" r="2.2" fill="#c20f2d"/>
<circle cx="419.62" cy="586.06" r="2.2" fill="#c20f2d"/>
<circle cx="410.25" cy="594.09" r="2.2" fill="#c20f2d"/>
<circle cx="410.25" cy="602.35" r="2.2" fill="#c20f2d"/>
<circle cx="430.32" cy="602.35" r="2.2" fill="#c20f2d"/>
<circle cx="437.46" cy="604.58" r="2.2" fill="#c20f2d"/>
<circle cx="434.12" cy="594.09" r="2.2" fill="#c20f2d"/>
<circle cx="476.50" cy="580.71" r="2.2" fill="#c20f2d"/>
<circle cx="475.83" cy="588.29" r="2.2" fill="#c20f2d"/>
<circle cx="441.92" cy="581.15" r="2.2" fill="#c20f2d"/>
<circle cx="450.85" cy="582.27" r="2.2" fill="#c20f2d"/>
<circle cx="457.54" cy="580.04" r="2.2" fill="#c20f2d"/>
<circle cx="464.23" cy="580.71" r="2.2" fill="#c20f2d"/>
<circle cx="468.69" cy="581.15" r="2.2" fill="#c20f2d"/>
<circle cx="480.96" cy="606.81" r="2.2" fill="#c20f2d"/>
<circle cx="483.19" cy="604.58" r="2.2" fill="#c20f2d"/>
<circle cx="476.50" cy="616.85" r="2.2" fill="#c20f2d"/>
<circle cx="474.27" cy="614.62" r="2.2" fill="#c20f2d"/>
<circle cx="437.46" cy="613.50" r="2.2" fill="#c20f2d"/>
<circle cx="437.02" cy="617.96" r="2.2" fill="#c20f2d"/>
<circle cx="437.02" cy="620.86" r="2.2" fill="#c20f2d"/>
<circle cx="441.92" cy="616.85" r="2.2" fill="#c20f2d"/>
<circle cx="447.50" cy="617.96" r="2.2" fill="#c20f2d"/>
<circle cx="449.73" cy="621.31" r="2.2" fill="#c20f2d"/>
<circle cx="450.40" cy="623.98" r="2.2" fill="#c20f2d"/>
<circle cx="457.54" cy="634.25" r="2.2" fill="#c20f2d"/>
<circle cx="486.98" cy="635.81" r="2.2" fill="#c20f2d"/>
<circle cx="476.50" cy="640.27" r="2.2" fill="#c20f2d"/>
<circle cx="444.60" cy="640.27" r="2.2" fill="#c20f2d"/>
<circle cx="446.83" cy="640.27" r="2.2" fill="#c20f2d"/>
<circle cx="410.25" cy="620.86" r="2.2" fill="#c20f2d"/>
<circle cx="410.25" cy="623.09" r="2.2" fill="#c20f2d"/>
<circle cx="410.25" cy="626.22" r="2.2" fill="#c20f2d"/>
<circle cx="468.06" cy="595.61" r="2.2" fill="#c20f2d"/>
<circle cx="458.86" cy="591.71" r="2.2" fill="#c20f2d"/>
<circle cx="446.86" cy="591.76" r="2.2" fill="#c20f2d"/>
<circle cx="448.43" cy="585.30" r="2.2" fill="#c20f2d"/>
<circle cx="458.53" cy="585.22" r="2.2" fill="#c20f2d"/>
<circle cx="460.35" cy="592.11" r="2.2" fill="#c20f2d"/>
<circle cx="467.91" cy="600.08" r="2.2" fill="#c20f2d"/>
<circle cx="464.30" cy="599.89" r="2.2" fill="#c20f2d"/>
<circle cx="463.80" cy="608.00" r="2.2" fill="#c20f2d"/>
<circle cx="451.70" cy="590.03" r="2.2" fill="#c20f2d"/>
<circle cx="449.49" cy="603.19" r="2.2" fill="#c20f2d"/>
<circle cx="467.62" cy="589.72" r="2.2" fill="#c20f2d"/>
<circle cx="448.86" cy="592.61" r="2.2" fill="#c20f2d"/>
<circle cx="452.52" cy="604.58" r="2.2" fill="#c20f2d"/>
<circle cx="457.02" cy="607.63" r="2.2" fill="#c20f2d"/>
<circle cx="462.09" cy="597.14" r="2.2" fill="#c20f2d"/>
<circle cx="461.03" cy="600.11" r="2.2" fill="#c20f2d"/>
<circle cx="468.10" cy="588.97" r="2.2" fill="#c20f2d"/>
<circle cx="460.06" cy="596.04" r="2.2" fill="#c20f2d"/>
<circle cx="455.01" cy="583.62" r="2.2" fill="#c20f2d"/>
<circle cx="454.83" cy="608.33" r="2.2" fill="#c20f2d"/>
<circle cx="462.42" cy="596.87" r="2.2" fill="#c20f2d"/>
<circle cx="447.44" cy="599.38" r="2.2" fill="#c20f2d"/>
<circle cx="462.79" cy="584.07" r="2.2" fill="#c20f2d"/>
<circle cx="445.27" cy="591.63" r="2.2" fill="#c20f2d"/>
<circle cx="455.12" cy="591.23" r="2.2" fill="#c20f2d"/>
<circle cx="457.82" cy="589.76" r="2.2" fill="#c20f2d"/>
<circle cx="461.63" cy="596.50" r="2.2" fill="#c20f2d"/>
<circle cx="458.35" cy="595.15" r="2.2" fill="#c20f2d"/>
<circle cx="466.97" cy="598.21" r="2.2" fill="#c20f2d"/>
<circle cx="468.13" cy="590.25" r="2.2" fill="#c20f2d"/>
<circle cx="451.37" cy="586.07" r="2.2" fill="#c20f2d"/>
<circle cx="455.49" cy="604.34" r="2.2" fill="#c20f2d"/>
<circle cx="456.71" cy="595.44" r="2.2" fill="#c20f2d"/>
<circle cx="460.69" cy="587.09" r="2.2" fill="#c20f2d"/>
<circle cx="455.34" cy="602.01" r="2.2" fill="#c20f2d"/>
<circle cx="464.54" cy="585.88" r="2.2" fill="#c20f2d"/>
<circle cx="456.26" cy="595.34" r="2.2" fill="#c20f2d"/>
<circle cx="455.00" cy="587.00" r="2.2" fill="#c20f2d"/>
<circle cx="461.95" cy="595.12" r="2.2" fill="#c20f2d"/>
<circle cx="454.37" cy="601.15" r="2.2" fill="#c20f2d"/>
<circle cx="455.30" cy="595.24" r="2.2" fill="#c20f2d"/>
<circle cx="454.66" cy="603.27" r="2.2" fill="#c20f2d"/>
<circle cx="452.93" cy="591.55" r="2.2" fill="#c20f2d"/>
<circle cx="457.75" cy="587.59" r="2.2" fill="#c20f2d"/>
<circle cx="458.86" cy="586.87" r="2.2" fill="#c20f2d"/>
<circle cx="461.12" cy="588.08" r="2.2" fill="#c20f2d"/>
<circle cx="462.03" cy="588.72" r="2.2" fill="#c20f2d"/>
<circle cx="468.07" cy="587.78" r="2.2" fill="#c20f2d"/>
<circle cx="461.33" cy="586.08" r="2.2" fill="#c20f2d"/>
<circle cx="461.57" cy="592.48" r="2.2" fill="#c20f2d"/>
<circle cx="450.26" cy="585.54" r="2.2" fill="#c20f2d"/>
<circle cx="450.76" cy="590.65" r="2.2" fill="#c20f2d"/>
<circle cx="455.78" cy="590.11" r="2.2" fill="#c20f2d"/>
<circle cx="464.09" cy="592.26" r="2.2" fill="#c20f2d"/>
<circle cx="453.05" cy="599.54" r="2.2" fill="#c20f2d"/>
<circle cx="453.20" cy="596.14" r="2.2" fill="#c20f2d"/>
<circle cx="450.14" cy="605.89" r="2.2" fill="#c20f2d"/>
<circle cx="447.66" cy="604.96" r="2.2" fill="#c20f2d"/>
<circle cx="463.72" cy="604.93" r="2.2" fill="#c20f2d"/>
<circle cx="464.71" cy="583.82" r="2.2" fill="#c20f2d"/>
<circle cx="446.52" cy="595.03" r="2.2" fill="#c20f2d"/>
<circle cx="459.53" cy="602.36" r="2.2" fill="#c20f2d"/>
<circle cx="466.51" cy="602.35" r="2.2" fill="#c20f2d"/>
<circle cx="458.98" cy="605.72" r="2.2" fill="#c20f2d"/>
<circle cx="459.73" cy="593.87" r="2.2" fill="#c20f2d"/>
<circle cx="457.11" cy="599.51" r="2.2" fill="#c20f2d"/>
<circle cx="453.88" cy="591.48" r="2.2" fill="#c20f2d"/>
<circle cx="464.76" cy="597.42" r="2.2" fill="#c20f2d"/>
<circle cx="468.08" cy="594.58" r="2.2" fill="#c20f2d"/>
<circle cx="449.81" cy="594.92" r="2.2" fill="#c20f2d"/>
<circle cx="445.90" cy="599.76" r="2.2" fill="#c20f2d"/>
<circle cx="450.68" cy="587.81" r="2.2" fill="#c20f2d"/>
<circle cx="454.11" cy="587.67" r="2.2" fill="#c20f2d"/>
<circle cx="467.27" cy="595.45" r="2.2" fill="#c20f2d"/>
<circle cx="453.32" cy="589.34" r="2.2" fill="#c20f2d"/>
<circle cx="455.74" cy="603.10" r="2.2" fill="#c20f2d"/>
<circle cx="464.45" cy="590.23" r="2.2" fill="#c20f2d"/>
<circle cx="455.10" cy="585.22" r="2.2" fill="#c20f2d"/>
<circle cx="453.29" cy="595.78" r="2.2" fill="#c20f2d"/>
<circle cx="460.85" cy="604.37" r="2.2" fill="#c20f2d"/>
<circle cx="451.47" cy="591.42" r="2.2" fill="#c20f2d"/>
<circle cx="453.83" cy="596.85" r="2.2" fill="#c20f2d"/>
<circle cx="463.67" cy="599.20" r="2.2" fill="#c20f2d"/>
<circle cx="455.89" cy="585.07" r="2.2" fill="#c20f2d"/>
<circle cx="468.83" cy="601.83" r="2.2" fill="#c20f2d"/>
<circle cx="456.46" cy="607.99" r="2.2" fill="#c20f2d"/>
<circle cx="450.05" cy="604.32" r="2.2" fill="#c20f2d"/>
<circle cx="463.23" cy="593.58" r="2.2" fill="#c20f2d"/>
<circle cx="459.16" cy="589.39" r="2.2" fill="#c20f2d"/>
<circle cx="451.14" cy="589.44" r="2.2" fill="#c20f2d"/>
<circle cx="466.70" cy="599.71" r="2.2" fill="#c20f2d"/>
<circle cx="453.68" cy="589.46" r="2.2" fill="#c20f2d"/>
<circle cx="448.26" cy="594.62" r="2.2" fill="#c20f2d"/>
<circle cx="462.08" cy="585.39" r="2.2" fill="#c20f2d"/>
<circle cx="450.79" cy="590.58" r="2.2" fill="#c20f2d"/>
<circle cx="446.18" cy="600.41" r="2.2" fill="#c20f2d"/>
<circle cx="453.61" cy="594.69" r="2.2" fill="#c20f2d"/>
<circle cx="462.66" cy="607.32" r="2.2" fill="#c20f2d"/>
<circle cx="449.66" cy="584.89" r="2.2" fill="#c20f2d"/>
<circle cx="463.85" cy="583.87" r="2.2" fill="#c20f2d"/>
<circle cx="469.63" cy="599.27" r="2.2" fill="#c20f2d"/>
<circle cx="456.50" cy="606.44" r="2.2" fill="#c20f2d"/>
<circle cx="449.04" cy="597.21" r="2.2" fill="#c20f2d"/>
<circle cx="458.16" cy="598.14" r="2.2" fill="#c20f2d"/>
<circle cx="466.31" cy="587.05" r="2.2" fill="#c20f2d"/>
<circle cx="459.69" cy="601.32" r="2.2" fill="#c20f2d"/>
<circle cx="451.10" cy="594.23" r="2.2" fill="#c20f2d"/>
<circle cx="465.68" cy="583.85" r="2.2" fill="#c20f2d"/>
<circle cx="449.46" cy="602.03" r="2.2" fill="#c20f2d"/>
<circle cx="462.81" cy="582.66" r="2.2" fill="#c20f2d"/>
<circle cx="456.89" cy="602.95" r="2.2" fill="#c20f2d"/>
<circle cx="449.89" cy="595.17" r="2.2" fill="#c20f2d"/>
<circle cx="464.92" cy="599.72" r="2.2" fill="#c20f2d"/>
<circle cx="448.51" cy="603.40" r="2.2" fill="#c20f2d"/>
<circle cx="452.81" cy="584.92" r="2.2" fill="#c20f2d"/>
<circle cx="457.40" cy="596.42" r="2.2" fill="#c20f2d"/>
<circle cx="449.08" cy="602.38" r="2.2" fill="#c20f2d"/>
<circle cx="468.40" cy="589.95" r="2.2" fill="#c20f2d"/>
<circle cx="468.97" cy="601.22" r="2.2" fill="#c20f2d"/>
<circle cx="442.12" cy="580.19" r="2.2" fill="#c20f2d"/>
<circle cx="450.19" cy="581.92" r="2.2" fill="#c20f2d"/>
<circle cx="457.12" cy="579.62" r="2.2" fill="#c20f2d"/>
<circle cx="464.62" cy="579.62" r="2.2" fill="#c20f2d"/>
<circle cx="468.08" cy="580.19" r="2.2" fill="#c20f2d"/>
<circle cx="476.15" cy="580.19" r="2.2" fill="#c20f2d"/>
<circle cx="460.00" cy="585.38" r="2.2" fill="#c20f2d"/>
<circle cx="476.15" cy="588.27" r="2.2" fill="#c20f2d"/>
<circle cx="434.62" cy="594.04" r="2.2" fill="#c20f2d"/>
<circle cx="439.23" cy="587.12" r="2.2" fill="#c20f2d"/>
<circle cx="437.50" cy="590.00" r="2.2" fill="#c20f2d"/>
<circle cx="443.85" cy="589.42" r="2.2" fill="#c20f2d"/>
<circle cx="431.15" cy="602.12" r="2.2" fill="#c20f2d"/>
<circle cx="437.50" cy="604.42" r="2.2" fill="#c20f2d"/>
<circle cx="473.85" cy="595.77" r="2.2" fill="#c20f2d"/>
<circle cx="475.00" cy="599.23" r="2.2" fill="#c20f2d"/>
<circle cx="472.69" cy="602.12" r="2.2" fill="#c20f2d"/>
<circle cx="469.81" cy="605.58" r="2.2" fill="#c20f2d"/>
<circle cx="480.77" cy="606.73" r="2.2" fill="#c20f2d"/>
<circle cx="483.08" cy="604.42" r="2.2" fill="#c20f2d"/>
<circle cx="436.92" cy="612.50" r="2.2" fill="#c20f2d"/>
<circle cx="441.54" cy="611.92" r="2.2" fill="#c20f2d"/>
<circle cx="443.85" cy="614.81" r="2.2" fill="#c20f2d"/>
<circle cx="447.31" cy="615.38" r="2.2" fill="#c20f2d"/>
<circle cx="450.77" cy="614.81" r="2.2" fill="#c20f2d"/>
<circle cx="436.92" cy="618.27" r="2.2" fill="#c20f2d"/>
<circle cx="436.92" cy="620.58" r="2.2" fill="#c20f2d"/>
<circle cx="442.69" cy="618.27" r="2.2" fill="#c20f2d"/>
<circle cx="449.04" cy="620.58" r="2.2" fill="#c20f2d"/>
<circle cx="450.19" cy="624.04" r="2.2" fill="#c20f2d"/>
<circle cx="459.42" cy="611.92" r="2.2" fill="#c20f2d"/>
<circle cx="462.31" cy="613.08" r="2.2" fill="#c20f2d"/>
<circle cx="465.77" cy="613.65" r="2.2" fill="#c20f2d"/>
<circle cx="466.92" cy="617.12" r="2.2" fill="#c20f2d"/>
<circle cx="470.96" cy="615.96" r="2.2" fill="#c20f2d"/>
<circle cx="475.58" cy="614.81" r="2.2" fill="#c20f2d"/>
<circle cx="476.73" cy="617.12" r="2.2" fill="#c20f2d"/>
<circle cx="451.35" cy="610.19" r="2.2" fill="#c20f2d"/>
<circle cx="445.00" cy="608.46" r="2.2" fill="#c20f2d"/>
<text x="121.80" y="265.40" font-size="7.3" text-anchor="middle" fill="#222" textLength="24.8" lengthAdjust="spacingAndGlyphs" stroke="#222" stroke-width="0.12">Jaccard</text>
<text x="121.80" y="274.00" font-size="7.3" text-anchor="middle" fill="#222" textLength="14.6" lengthAdjust="spacingAndGlyphs" stroke="#222" stroke-width="0.12">0.75</text>
<text x="239.10" y="265.40" font-size="7.3" text-anchor="middle" fill="#222" textLength="24.8" lengthAdjust="spacingAndGlyphs" stroke="#222" stroke-width="0.12">Jaccard</text>
<text x="239.10" y="274.00" font-size="7.3" text-anchor="middle" fill="#222" textLength="14.6" lengthAdjust="spacingAndGlyphs" stroke="#222" stroke-width="0.12">1.00</text>
<text x="372.90" y="265.20" font-size="7.3" text-anchor="middle" fill="#222" textLength="24.8" lengthAdjust="spacingAndGlyphs" stroke="#222" stroke-width="0.12">Jaccard</text>
<text x="372.90" y="273.80" font-size="7.3" text-anchor="middle" fill="#222" textLength="14.6" lengthAdjust="spacingAndGlyphs" stroke="#222" stroke-width="0.12">0.89</text>
<text x="495.50" y="265.20" font-size="7.3" text-anchor="middle" fill="#222" textLength="24.8" lengthAdjust="spacingAndGlyphs" stroke="#222" stroke-width="0.12">Jaccard</text>
<text x="495.50" y="273.80" font-size="7.3" text-anchor="middle" fill="#222" textLength="14.6" lengthAdjust="spacingAndGlyphs" stroke="#222" stroke-width="0.12">0.96</text>
<text x="121.90" y="385.20" font-size="7.3" text-anchor="middle" fill="#222" textLength="24.8" lengthAdjust="spacingAndGlyphs" stroke="#222" stroke-width="0.12">Jaccard</text>
<text x="121.90" y="393.80" font-size="7.3" text-anchor="middle" fill="#222" textLength="14.6" lengthAdjust="spacingAndGlyphs" stroke="#222" stroke-width="0.12">1.00</text>
<text x="246.40" y="385.20" font-size="7.3" text-anchor="middle" fill="#222" textLength="24.8" lengthAdjust="spacingAndGlyphs" stroke="#222" stroke-width="0.12">Jaccard</text>
<text x="246.40" y="393.80" font-size="7.3" text-anchor="middle" fill="#222" textLength="14.6" lengthAdjust="spacingAndGlyphs" stroke="#222" stroke-width="0.12">0.97</text>
<text x="375.70" y="385.20" font-size="7.3" text-anchor="middle" fill="#222" textLength="24.8" lengthAdjust="spacingAndGlyphs" stroke="#222" stroke-width="0.12">Jaccard</text>
<text x="375.70" y="393.80" font-size="7.3" text-anchor="middle" fill="#222" textLength="14.6" lengthAdjust="spacingAndGlyphs" stroke="#222" stroke-width="0.12">0.89</text>
<text x="495.50" y="385.20" font-size="7.3" text-anchor="middle" fill="#222" textLength="24.8" lengthAdjust="spacingAndGlyphs" stroke="#222" stroke-width="0.12">Jaccard</text>
<text x="495.50" y="393.80" font-size="7.3" text-anchor="middle" fill="#222" textLength="14.6" lengthAdjust="spacingAndGlyphs" stroke="#222" stroke-width="0.12">0.89</text>
<text x="109.60" y="501.30" font-size="7.3" text-anchor="middle" fill="#222" textLength="24.8" lengthAdjust="spacingAndGlyphs" stroke="#222" stroke-width="0.12">Jaccard</text>
<text x="109.60" y="509.90" font-size="7.3" text-anchor="middle" fill="#222" textLength="14.6" lengthAdjust="spacingAndGlyphs" stroke="#222" stroke-width="0.12">0.71</text>
<text x="175.10" y="430.40" font-size="7.3" text-anchor="middle" fill="#222" textLength="24.8" lengthAdjust="spacingAndGlyphs" stroke="#222" stroke-width="0.12">Jaccard</text>
<text x="175.10" y="439.00" font-size="7.3" text-anchor="middle" fill="#222" textLength="14.6" lengthAdjust="spacingAndGlyphs" stroke="#222" stroke-width="0.12">0.78</text>
<text x="301.60" y="430.40" font-size="7.3" text-anchor="middle" fill="#222" textLength="24.8" lengthAdjust="spacingAndGlyphs" stroke="#222" stroke-width="0.12">Jaccard</text>
<text x="301.60" y="439.00" font-size="7.3" text-anchor="middle" fill="#222" textLength="14.6" lengthAdjust="spacingAndGlyphs" stroke="#222" stroke-width="0.12">0.21</text>
<text x="422.30" y="430.40" font-size="7.3" text-anchor="middle" fill="#222" textLength="24.8" lengthAdjust="spacingAndGlyphs" stroke="#222" stroke-width="0.12">Jaccard</text>
<text x="422.30" y="439.00" font-size="7.3" text-anchor="middle" fill="#222" textLength="14.6" lengthAdjust="spacingAndGlyphs" stroke="#222" stroke-width="0.12">0.98</text>
<text x="50.50" y="550.40" font-size="7.3" text-anchor="middle" fill="#222" textLength="24.8" lengthAdjust="spacingAndGlyphs" stroke="#222" stroke-width="0.12">Jaccard</text>
<text x="50.50" y="559.00" font-size="7.3" text-anchor="middle" fill="#222" textLength="14.6" lengthAdjust="spacingAndGlyphs" stroke="#222" stroke-width="0.12">0.94</text>
<text x="174.60" y="550.40" font-size="7.3" text-anchor="middle" fill="#222" textLength="24.8" lengthAdjust="spacingAndGlyphs" stroke="#222" stroke-width="0.12">Jaccard</text>
<text x="174.60" y="559.00" font-size="7.3" text-anchor="middle" fill="#222" textLength="14.6" lengthAdjust="spacingAndGlyphs" stroke="#222" stroke-width="0.12">0.79</text>
<text x="300.30" y="550.40" font-size="7.3" text-anchor="middle" fill="#222" textLength="24.8" lengthAdjust="spacingAndGlyphs" stroke="#222" stroke-width="0.12">Jaccard</text>
<text x="300.30" y="559.00" font-size="7.3" text-anchor="middle" fill="#222" textLength="14.6" lengthAdjust="spacingAndGlyphs" stroke="#222" stroke-width="0.12">0.50</text>
<text x="422.30" y="550.40" font-size="7.3" text-anchor="middle" fill="#222" textLength="24.8" lengthAdjust="spacingAndGlyphs" stroke="#222" stroke-width="0.12">Jaccard</text>
<text x="422.30" y="559.00" font-size="7.3" text-anchor="middle" fill="#222" textLength="14.6" lengthAdjust="spacingAndGlyphs" stroke="#222" stroke-width="0.12">0.95</text>
</svg></body></html>
